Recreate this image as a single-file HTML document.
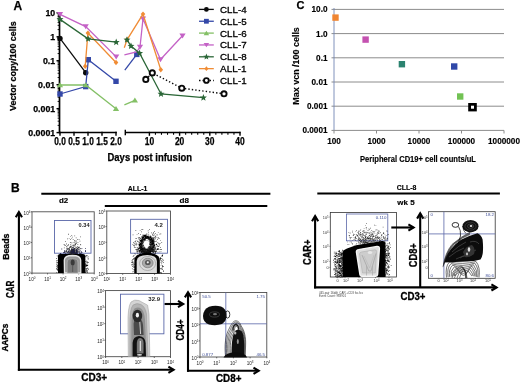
<!DOCTYPE html>
<html><head><meta charset="utf-8"><style>
html,body{margin:0;padding:0;background:#fff;}
svg{display:block;will-change:transform;filter:blur(0.5px);}
text{font-family:"Liberation Sans",sans-serif;}
</style></head><body>
<svg width="520" height="382" viewBox="0 0 520 382">
<rect width="520" height="382" fill="#fff"/>
<text x="13.5" y="10" font-size="12" font-weight="bold" text-anchor="start" fill="#000" stroke="#000" stroke-width="0.25">A</text>
<line x1="59.5" y1="12" x2="59.5" y2="133.3" stroke="#000" stroke-width="1.7" />
<line x1="56.5" y1="12.849999999999998" x2="59.5" y2="12.849999999999998" stroke="#000" stroke-width="1.4" />
<text x="55.2" y="15.749999999999998" font-size="8.8" font-weight="bold" text-anchor="end" fill="#000" stroke="#000" stroke-width="0.25">10</text>
<line x1="57.6" y1="29.59033160384765" x2="59.5" y2="29.59033160384765" stroke="#000" stroke-width="0.9" />
<line x1="57.6" y1="25.372945949464082" x2="59.5" y2="25.372945949464082" stroke="#000" stroke-width="0.9" />
<line x1="57.6" y1="22.3806632076953" x2="59.5" y2="22.3806632076953" stroke="#000" stroke-width="0.9" />
<line x1="57.6" y1="20.059668396152347" x2="59.5" y2="20.059668396152347" stroke="#000" stroke-width="0.9" />
<line x1="57.6" y1="18.163277553311733" x2="59.5" y2="18.163277553311733" stroke="#000" stroke-width="0.9" />
<line x1="57.6" y1="16.55990194165855" x2="59.5" y2="16.55990194165855" stroke="#000" stroke-width="0.9" />
<line x1="57.6" y1="15.17099481154295" x2="59.5" y2="15.17099481154295" stroke="#000" stroke-width="0.9" />
<line x1="57.6" y1="13.945891898928167" x2="59.5" y2="13.945891898928167" stroke="#000" stroke-width="0.9" />
<line x1="56.5" y1="36.8" x2="59.5" y2="36.8" stroke="#000" stroke-width="1.4" />
<text x="55.2" y="39.699999999999996" font-size="8.8" font-weight="bold" text-anchor="end" fill="#000" stroke="#000" stroke-width="0.25">1</text>
<line x1="57.6" y1="53.54033160384765" x2="59.5" y2="53.54033160384765" stroke="#000" stroke-width="0.9" />
<line x1="57.6" y1="49.32294594946408" x2="59.5" y2="49.32294594946408" stroke="#000" stroke-width="0.9" />
<line x1="57.6" y1="46.330663207695295" x2="59.5" y2="46.330663207695295" stroke="#000" stroke-width="0.9" />
<line x1="57.6" y1="44.00966839615235" x2="59.5" y2="44.00966839615235" stroke="#000" stroke-width="0.9" />
<line x1="57.6" y1="42.11327755331173" x2="59.5" y2="42.11327755331173" stroke="#000" stroke-width="0.9" />
<line x1="57.6" y1="40.50990194165855" x2="59.5" y2="40.50990194165855" stroke="#000" stroke-width="0.9" />
<line x1="57.6" y1="39.12099481154295" x2="59.5" y2="39.12099481154295" stroke="#000" stroke-width="0.9" />
<line x1="57.6" y1="37.89589189892816" x2="59.5" y2="37.89589189892816" stroke="#000" stroke-width="0.9" />
<line x1="56.5" y1="60.75" x2="59.5" y2="60.75" stroke="#000" stroke-width="1.4" />
<text x="55.2" y="63.65" font-size="8.8" font-weight="bold" text-anchor="end" fill="#000" stroke="#000" stroke-width="0.25">0.1</text>
<line x1="57.6" y1="77.49033160384764" x2="59.5" y2="77.49033160384764" stroke="#000" stroke-width="0.9" />
<line x1="57.6" y1="73.27294594946409" x2="59.5" y2="73.27294594946409" stroke="#000" stroke-width="0.9" />
<line x1="57.6" y1="70.28066320769528" x2="59.5" y2="70.28066320769528" stroke="#000" stroke-width="0.9" />
<line x1="57.6" y1="67.95966839615235" x2="59.5" y2="67.95966839615235" stroke="#000" stroke-width="0.9" />
<line x1="57.6" y1="66.06327755331174" x2="59.5" y2="66.06327755331174" stroke="#000" stroke-width="0.9" />
<line x1="57.6" y1="64.45990194165854" x2="59.5" y2="64.45990194165854" stroke="#000" stroke-width="0.9" />
<line x1="57.6" y1="63.070994811542946" x2="59.5" y2="63.070994811542946" stroke="#000" stroke-width="0.9" />
<line x1="57.6" y1="61.84589189892817" x2="59.5" y2="61.84589189892817" stroke="#000" stroke-width="0.9" />
<line x1="56.5" y1="84.69999999999999" x2="59.5" y2="84.69999999999999" stroke="#000" stroke-width="1.4" />
<text x="55.2" y="87.6" font-size="8.8" font-weight="bold" text-anchor="end" fill="#000" stroke="#000" stroke-width="0.25">0.01</text>
<line x1="57.6" y1="101.44033160384764" x2="59.5" y2="101.44033160384764" stroke="#000" stroke-width="0.9" />
<line x1="57.6" y1="97.22294594946408" x2="59.5" y2="97.22294594946408" stroke="#000" stroke-width="0.9" />
<line x1="57.6" y1="94.2306632076953" x2="59.5" y2="94.2306632076953" stroke="#000" stroke-width="0.9" />
<line x1="57.6" y1="91.90966839615234" x2="59.5" y2="91.90966839615234" stroke="#000" stroke-width="0.9" />
<line x1="57.6" y1="90.01327755331172" x2="59.5" y2="90.01327755331172" stroke="#000" stroke-width="0.9" />
<line x1="57.6" y1="88.40990194165855" x2="59.5" y2="88.40990194165855" stroke="#000" stroke-width="0.9" />
<line x1="57.6" y1="87.02099481154295" x2="59.5" y2="87.02099481154295" stroke="#000" stroke-width="0.9" />
<line x1="57.6" y1="85.79589189892818" x2="59.5" y2="85.79589189892818" stroke="#000" stroke-width="0.9" />
<line x1="56.5" y1="108.64999999999999" x2="59.5" y2="108.64999999999999" stroke="#000" stroke-width="1.4" />
<text x="55.2" y="111.55" font-size="8.8" font-weight="bold" text-anchor="end" fill="#000" stroke="#000" stroke-width="0.25">0.001</text>
<line x1="57.6" y1="125.39033160384764" x2="59.5" y2="125.39033160384764" stroke="#000" stroke-width="0.9" />
<line x1="57.6" y1="121.17294594946408" x2="59.5" y2="121.17294594946408" stroke="#000" stroke-width="0.9" />
<line x1="57.6" y1="118.18066320769529" x2="59.5" y2="118.18066320769529" stroke="#000" stroke-width="0.9" />
<line x1="57.6" y1="115.85966839615234" x2="59.5" y2="115.85966839615234" stroke="#000" stroke-width="0.9" />
<line x1="57.6" y1="113.96327755331173" x2="59.5" y2="113.96327755331173" stroke="#000" stroke-width="0.9" />
<line x1="57.6" y1="112.35990194165853" x2="59.5" y2="112.35990194165853" stroke="#000" stroke-width="0.9" />
<line x1="57.6" y1="110.97099481154294" x2="59.5" y2="110.97099481154294" stroke="#000" stroke-width="0.9" />
<line x1="57.6" y1="109.74589189892816" x2="59.5" y2="109.74589189892816" stroke="#000" stroke-width="0.9" />
<line x1="56.5" y1="132.6" x2="59.5" y2="132.6" stroke="#000" stroke-width="1.4" />
<text x="55.2" y="135.5" font-size="8.8" font-weight="bold" text-anchor="end" fill="#000" stroke="#000" stroke-width="0.25">0.0001</text>
<line x1="59.5" y1="132.5" x2="116.8" y2="132.5" stroke="#000" stroke-width="1.7" />
<line x1="60" y1="131.8" x2="60" y2="135.8" stroke="#000" stroke-width="1.4" />
<text x="60" y="145.4" font-size="10" font-weight="bold" text-anchor="middle" fill="#000" textLength="11.6" lengthAdjust="spacingAndGlyphs" stroke="#000" stroke-width="0.25">0.0</text>
<line x1="74.0" y1="131.8" x2="74.0" y2="135.8" stroke="#000" stroke-width="1.4" />
<text x="74.0" y="145.4" font-size="10" font-weight="bold" text-anchor="middle" fill="#000" textLength="11.6" lengthAdjust="spacingAndGlyphs" stroke="#000" stroke-width="0.25">0.5</text>
<line x1="88" y1="131.8" x2="88" y2="135.8" stroke="#000" stroke-width="1.4" />
<text x="88" y="145.4" font-size="10" font-weight="bold" text-anchor="middle" fill="#000" textLength="11.6" lengthAdjust="spacingAndGlyphs" stroke="#000" stroke-width="0.25">1.0</text>
<line x1="102.0" y1="131.8" x2="102.0" y2="135.8" stroke="#000" stroke-width="1.4" />
<text x="102.0" y="145.4" font-size="10" font-weight="bold" text-anchor="middle" fill="#000" textLength="11.6" lengthAdjust="spacingAndGlyphs" stroke="#000" stroke-width="0.25">1.5</text>
<line x1="116" y1="131.8" x2="116" y2="135.8" stroke="#000" stroke-width="1.4" />
<text x="116" y="145.4" font-size="10" font-weight="bold" text-anchor="middle" fill="#000" textLength="11.6" lengthAdjust="spacingAndGlyphs" stroke="#000" stroke-width="0.25">2.0</text>
<line x1="125.3" y1="132.5" x2="240.5" y2="132.5" stroke="#000" stroke-width="1.7" />
<line x1="125.3" y1="129.8" x2="125.3" y2="135.2" stroke="#000" stroke-width="1.4" />
<line x1="149.4" y1="131.8" x2="149.4" y2="135.8" stroke="#000" stroke-width="1.4" />
<text x="149.4" y="145.2" font-size="10" font-weight="bold" text-anchor="middle" fill="#000" textLength="9.4" lengthAdjust="spacingAndGlyphs" stroke="#000" stroke-width="0.25">10</text>
<line x1="179.6" y1="131.8" x2="179.6" y2="135.8" stroke="#000" stroke-width="1.4" />
<text x="179.6" y="145.2" font-size="10" font-weight="bold" text-anchor="middle" fill="#000" textLength="9.4" lengthAdjust="spacingAndGlyphs" stroke="#000" stroke-width="0.25">20</text>
<line x1="209.8" y1="131.8" x2="209.8" y2="135.8" stroke="#000" stroke-width="1.4" />
<text x="209.8" y="145.2" font-size="10" font-weight="bold" text-anchor="middle" fill="#000" textLength="9.4" lengthAdjust="spacingAndGlyphs" stroke="#000" stroke-width="0.25">30</text>
<line x1="240.0" y1="131.8" x2="240.0" y2="135.8" stroke="#000" stroke-width="1.4" />
<text x="240.0" y="145.2" font-size="10" font-weight="bold" text-anchor="middle" fill="#000" textLength="9.4" lengthAdjust="spacingAndGlyphs" stroke="#000" stroke-width="0.25">40</text>
<line x1="155.44" y1="132.5" x2="155.44" y2="134.8" stroke="#000" stroke-width="1.1" />
<line x1="161.48000000000002" y1="132.5" x2="161.48000000000002" y2="134.8" stroke="#000" stroke-width="1.1" />
<line x1="167.52" y1="132.5" x2="167.52" y2="134.8" stroke="#000" stroke-width="1.1" />
<line x1="173.56" y1="132.5" x2="173.56" y2="134.8" stroke="#000" stroke-width="1.1" />
<line x1="185.64" y1="132.5" x2="185.64" y2="134.8" stroke="#000" stroke-width="1.1" />
<line x1="191.68" y1="132.5" x2="191.68" y2="134.8" stroke="#000" stroke-width="1.1" />
<line x1="197.72" y1="132.5" x2="197.72" y2="134.8" stroke="#000" stroke-width="1.1" />
<line x1="203.76" y1="132.5" x2="203.76" y2="134.8" stroke="#000" stroke-width="1.1" />
<line x1="215.84" y1="132.5" x2="215.84" y2="134.8" stroke="#000" stroke-width="1.1" />
<line x1="221.88" y1="132.5" x2="221.88" y2="134.8" stroke="#000" stroke-width="1.1" />
<line x1="227.92000000000002" y1="132.5" x2="227.92000000000002" y2="134.8" stroke="#000" stroke-width="1.1" />
<line x1="233.96" y1="132.5" x2="233.96" y2="134.8" stroke="#000" stroke-width="1.1" />
<text x="149.8" y="160.5" font-size="10.4" font-weight="bold" text-anchor="middle" fill="#000" textLength="84.5" lengthAdjust="spacingAndGlyphs" stroke="#000" stroke-width="0.25">Days post infusion</text>
<text transform="translate(12.8,66.2) rotate(-90)" x="0" y="0" font-size="9.6" font-weight="bold" text-anchor="middle" dominant-baseline="central" textLength="89.5" lengthAdjust="spacingAndGlyphs" stroke="#000" stroke-width="0.25">Vector copy/100 cells</text>
<polyline points="60,38.4 85.7,72.7" fill="none" stroke="#0a0a0a" stroke-width="1.3"/>
<circle cx="60" cy="38.4" r="2.7" fill="#0a0a0a"/>
<circle cx="85.7" cy="72.7" r="2.7" fill="#0a0a0a"/>
<polyline points="60,94 85.7,86.6 88.3,59.7 116,81.3" fill="none" stroke="#3448a8" stroke-width="1.3"/>
<rect x="57.3" y="91.3" width="5.4" height="5.4" fill="#3448a8"/>
<rect x="83.0" y="83.89999999999999" width="5.4" height="5.4" fill="#3448a8"/>
<rect x="85.6" y="57.0" width="5.4" height="5.4" fill="#3448a8"/>
<rect x="113.3" y="78.6" width="5.4" height="5.4" fill="#3448a8"/>
<polyline points="124.8,70.2 136.8,54.4" fill="none" stroke="#3448a8" stroke-width="1.3"/>
<rect x="134.10000000000002" y="51.699999999999996" width="5.4" height="5.4" fill="#3448a8"/>
<polyline points="60,85 85.7,85 116,108.8" fill="none" stroke="#84c066" stroke-width="1.3"/>
<polygon points="60,82.3 56.895,87.295 63.105,87.295" fill="#84c066"/>
<polygon points="85.7,82.3 82.595,87.295 88.805,87.295" fill="#84c066"/>
<polygon points="116,106.1 112.895,111.095 119.105,111.095" fill="#84c066"/>
<polyline points="124.4,104.9 134.9,100.3" fill="none" stroke="#84c066" stroke-width="1.3"/>
<polygon points="134.9,97.6 131.79500000000002,102.595 138.005,102.595" fill="#84c066"/>
<polyline points="60,14.4 85.7,26.6 116.2,56.9" fill="none" stroke="#c462c6" stroke-width="1.3"/>
<polygon points="60,17.1 56.895,12.105 63.105,12.105" fill="#c462c6"/>
<polygon points="85.7,29.3 82.595,24.305 88.805,24.305" fill="#c462c6"/>
<polygon points="116.2,59.6 113.095,54.605 119.305,54.605" fill="#c462c6"/>
<polyline points="124.4,54.8 136.5,52 140,47 143,18.8 160.5,59.5 182.5,35.8" fill="none" stroke="#c462c6" stroke-width="1.3"/>
<polygon points="140,49.7 136.895,44.705 143.105,44.705" fill="#c462c6"/>
<polygon points="143,21.5 139.895,16.505000000000003 146.105,16.505000000000003" fill="#c462c6"/>
<polygon points="160.5,62.2 157.395,57.205 163.605,57.205" fill="#c462c6"/>
<polygon points="182.5,38.5 179.395,33.504999999999995 185.605,33.504999999999995" fill="#c462c6"/>
<polyline points="85.2,66.2 87.9,33.1 116,62.5" fill="none" stroke="#f08c35" stroke-width="1.3"/>
<polygon points="85.2,63.5 87.495,66.2 85.2,68.9 82.905,66.2" fill="#f08c35"/>
<polygon points="87.9,30.400000000000002 90.19500000000001,33.1 87.9,35.800000000000004 85.605,33.1" fill="#f08c35"/>
<polygon points="116,59.8 118.295,62.5 116,65.2 113.705,62.5" fill="#f08c35"/>
<polyline points="124.3,47.7 127,39.8 143,14.1 160.8,69.8" fill="none" stroke="#f08c35" stroke-width="1.3"/>
<polygon points="127,37.099999999999994 129.295,39.8 127,42.5 124.705,39.8" fill="#f08c35"/>
<polygon points="143,11.399999999999999 145.295,14.1 143,16.8 140.705,14.1" fill="#f08c35"/>
<polygon points="160.8,67.1 163.095,69.8 160.8,72.5 158.50500000000002,69.8" fill="#f08c35"/>
<polyline points="60,19.4 88.1,38.9 116.2,42.2" fill="none" stroke="#2a6636" stroke-width="1.3"/>
<polygon points="60.00,15.75 60.95,18.09 63.47,18.27 61.54,19.90 62.14,22.35 60.00,21.02 57.86,22.35 58.46,19.90 56.53,18.27 59.05,18.09" fill="#2a6636"/>
<polygon points="88.10,35.25 89.05,37.59 91.57,37.77 89.64,39.40 90.24,41.85 88.10,40.52 85.96,41.85 86.56,39.40 84.63,37.77 87.15,37.59" fill="#2a6636"/>
<polygon points="116.20,38.55 117.15,40.89 119.67,41.07 117.74,42.70 118.34,45.15 116.20,43.82 114.06,45.15 114.66,42.70 112.73,41.07 115.25,40.89" fill="#2a6636"/>
<polyline points="127,39.8 131,46.1 139.6,53.2 161,94 203.4,97.7" fill="none" stroke="#2a6636" stroke-width="1.3"/>
<polygon points="127.00,36.15 127.95,38.49 130.47,38.67 128.54,40.30 129.14,42.75 127.00,41.42 124.86,42.75 125.46,40.30 123.53,38.67 126.05,38.49" fill="#2a6636"/>
<polygon points="131.00,42.45 131.95,44.79 134.47,44.97 132.54,46.60 133.14,49.05 131.00,47.72 128.86,49.05 129.46,46.60 127.53,44.97 130.05,44.79" fill="#2a6636"/>
<polygon points="139.60,49.55 140.55,51.89 143.07,52.07 141.14,53.70 141.74,56.15 139.60,54.82 137.46,56.15 138.06,53.70 136.13,52.07 138.65,51.89" fill="#2a6636"/>
<polygon points="161.00,90.36 161.95,92.69 164.47,92.87 162.54,94.50 163.14,96.95 161.00,95.62 158.86,96.95 159.46,94.50 157.53,92.87 160.05,92.69" fill="#2a6636"/>
<polygon points="203.40,94.06 204.35,96.39 206.87,96.57 204.94,98.20 205.54,100.65 203.40,99.32 201.26,100.65 201.86,98.20 199.93,96.57 202.45,96.39" fill="#2a6636"/>
<polyline points="145.8,79.4 152.3,72.9 181.8,88.2 224,93.8" fill="none" stroke="#0a0a0a" stroke-width="1.4" stroke-dasharray="1.4,2.1"/>
<circle cx="145.8" cy="79.4" r="2.6" fill="#fff" stroke="#0a0a0a" stroke-width="1.9"/>
<circle cx="152.3" cy="72.9" r="2.6" fill="#fff" stroke="#0a0a0a" stroke-width="1.9"/>
<circle cx="181.8" cy="88.2" r="2.6" fill="#fff" stroke="#0a0a0a" stroke-width="1.9"/>
<circle cx="224" cy="93.8" r="2.6" fill="#fff" stroke="#0a0a0a" stroke-width="1.9"/>
<line x1="199" y1="9.4" x2="213.8" y2="9.4" stroke="#0a0a0a" stroke-width="1.3" />
<circle cx="206.4" cy="9.4" r="2.4" fill="#0a0a0a"/>
<text x="220" y="12.9" font-size="9.7" font-weight="normal" text-anchor="start" fill="#000" textLength="26.6" lengthAdjust="spacingAndGlyphs" stroke="#000" stroke-width="0.3">CLL-4</text>
<line x1="199" y1="21.25" x2="213.8" y2="21.25" stroke="#3448a8" stroke-width="1.3" />
<rect x="204.0" y="18.85" width="4.8" height="4.8" fill="#3448a8"/>
<text x="220" y="24.75" font-size="9.7" font-weight="normal" text-anchor="start" fill="#000" textLength="26.6" lengthAdjust="spacingAndGlyphs" stroke="#000" stroke-width="0.3">CLL-5</text>
<line x1="199" y1="33.1" x2="213.8" y2="33.1" stroke="#84c066" stroke-width="1.3" />
<polygon points="206.4,30.700000000000003 203.64000000000001,35.14 209.16,35.14" fill="#84c066"/>
<text x="220" y="36.6" font-size="9.7" font-weight="normal" text-anchor="start" fill="#000" textLength="26.6" lengthAdjust="spacingAndGlyphs" stroke="#000" stroke-width="0.3">CLL-6</text>
<line x1="199" y1="44.949999999999996" x2="213.8" y2="44.949999999999996" stroke="#c462c6" stroke-width="1.3" />
<polygon points="206.4,47.349999999999994 203.64000000000001,42.91 209.16,42.91" fill="#c462c6"/>
<text x="220" y="48.449999999999996" font-size="9.7" font-weight="normal" text-anchor="start" fill="#000" textLength="26.6" lengthAdjust="spacingAndGlyphs" stroke="#000" stroke-width="0.3">CLL-7</text>
<line x1="199" y1="56.8" x2="213.8" y2="56.8" stroke="#2a6636" stroke-width="1.3" />
<polygon points="206.40,53.56 207.25,55.64 209.48,55.80 207.77,57.24 208.30,59.42 206.40,58.24 204.50,59.42 205.03,57.24 203.32,55.80 205.55,55.64" fill="#2a6636"/>
<text x="220" y="60.3" font-size="9.7" font-weight="normal" text-anchor="start" fill="#000" textLength="26.6" lengthAdjust="spacingAndGlyphs" stroke="#000" stroke-width="0.3">CLL-8</text>
<line x1="199" y1="68.65" x2="213.8" y2="68.65" stroke="#f08c35" stroke-width="1.3" />
<polygon points="206.4,66.25 208.44,68.65 206.4,71.05000000000001 204.36,68.65" fill="#f08c35"/>
<text x="220" y="72.15" font-size="9.7" font-weight="normal" text-anchor="start" fill="#000" textLength="26.6" lengthAdjust="spacingAndGlyphs" stroke="#000" stroke-width="0.3">ALL-1</text>
<line x1="199" y1="80.5" x2="213.8" y2="80.5" stroke="#0a0a0a" stroke-width="1.3" stroke-dasharray="1.5,2"/>
<circle cx="206.4" cy="80.5" r="2.4" fill="#fff" stroke="#0a0a0a" stroke-width="1.9"/>
<text x="220" y="84.0" font-size="9.7" font-weight="normal" text-anchor="start" fill="#000" textLength="26.6" lengthAdjust="spacingAndGlyphs" stroke="#000" stroke-width="0.3">CLL-1</text>
<text x="296.5" y="9.1" font-size="11" font-weight="bold" text-anchor="start" fill="#000" stroke="#000" stroke-width="0.25">C</text>
<line x1="334" y1="9.400000000000002" x2="504" y2="9.400000000000002" stroke="#8c8c8c" stroke-width="1" />
<line x1="331.5" y1="9.400000000000002" x2="334" y2="9.400000000000002" stroke="#8c8c8c" stroke-width="1" />
<text x="327.5" y="12.400000000000002" font-size="8.2" font-weight="bold" text-anchor="end" fill="#000" stroke="#000" stroke-width="0.15">10.0</text>
<line x1="334" y1="33.6" x2="504" y2="33.6" stroke="#8c8c8c" stroke-width="1" />
<line x1="331.5" y1="33.6" x2="334" y2="33.6" stroke="#8c8c8c" stroke-width="1" />
<text x="327.5" y="36.6" font-size="8.2" font-weight="bold" text-anchor="end" fill="#000" stroke="#000" stroke-width="0.15">1.0</text>
<line x1="334" y1="57.8" x2="504" y2="57.8" stroke="#8c8c8c" stroke-width="1" />
<line x1="331.5" y1="57.8" x2="334" y2="57.8" stroke="#8c8c8c" stroke-width="1" />
<text x="327.5" y="60.8" font-size="8.2" font-weight="bold" text-anchor="end" fill="#000" stroke="#000" stroke-width="0.15">0.1</text>
<line x1="334" y1="82.0" x2="504" y2="82.0" stroke="#8c8c8c" stroke-width="1" />
<line x1="331.5" y1="82.0" x2="334" y2="82.0" stroke="#8c8c8c" stroke-width="1" />
<text x="327.5" y="85.0" font-size="8.2" font-weight="bold" text-anchor="end" fill="#000" stroke="#000" stroke-width="0.15">0.01</text>
<line x1="334" y1="106.19999999999999" x2="504" y2="106.19999999999999" stroke="#8c8c8c" stroke-width="1" />
<line x1="331.5" y1="106.19999999999999" x2="334" y2="106.19999999999999" stroke="#8c8c8c" stroke-width="1" />
<text x="327.5" y="109.19999999999999" font-size="8.2" font-weight="bold" text-anchor="end" fill="#000" stroke="#000" stroke-width="0.15">0.001</text>
<line x1="331.5" y1="130.4" x2="334" y2="130.4" stroke="#8c8c8c" stroke-width="1" />
<text x="327.5" y="133.4" font-size="8.2" font-weight="bold" text-anchor="end" fill="#000" stroke="#000" stroke-width="0.15">0.0001</text>
<line x1="334" y1="8" x2="334" y2="130.4" stroke="#7286b4" stroke-width="0.9" />
<line x1="334" y1="130.4" x2="504" y2="130.4" stroke="#8c8c8c" stroke-width="1" />
<line x1="334.0" y1="130.4" x2="334.0" y2="133.5" stroke="#8c8c8c" stroke-width="1" />
<text x="334.0" y="144" font-size="8.2" font-weight="bold" text-anchor="middle" fill="#000" stroke="#000" stroke-width="0.15">100</text>
<line x1="376.5" y1="130.4" x2="376.5" y2="133.5" stroke="#8c8c8c" stroke-width="1" />
<text x="376.5" y="144" font-size="8.2" font-weight="bold" text-anchor="middle" fill="#000" stroke="#000" stroke-width="0.15">1000</text>
<line x1="419.0" y1="130.4" x2="419.0" y2="133.5" stroke="#8c8c8c" stroke-width="1" />
<text x="419.0" y="144" font-size="8.2" font-weight="bold" text-anchor="middle" fill="#000" stroke="#000" stroke-width="0.15">10000</text>
<line x1="461.5" y1="130.4" x2="461.5" y2="133.5" stroke="#8c8c8c" stroke-width="1" />
<text x="461.5" y="144" font-size="8.2" font-weight="bold" text-anchor="middle" fill="#000" stroke="#000" stroke-width="0.15">100000</text>
<line x1="504.0" y1="130.4" x2="504.0" y2="133.5" stroke="#8c8c8c" stroke-width="1" />
<text x="504.0" y="144" font-size="8.2" font-weight="bold" text-anchor="middle" fill="#000" stroke="#000" stroke-width="0.15">1000000</text>
<text transform="translate(295.6,65.9) rotate(-90)" x="0" y="0" font-size="9" font-weight="bold" text-anchor="middle" dominant-baseline="central" textLength="77.5" lengthAdjust="spacingAndGlyphs" stroke="#000" stroke-width="0.15">Max vcn /100 cells</text>
<text x="418" y="162" font-size="8.2" font-weight="bold" text-anchor="middle" fill="#000" textLength="116" lengthAdjust="spacingAndGlyphs" stroke="#000" stroke-width="0.15">Peripheral CD19+ cell counts/uL</text>
<rect x="332.3" y="14.400000000000002" width="6.4" height="6.4" fill="#ef8532"/>
<rect x="362.40000000000003" y="36.4" width="6.4" height="6.4" fill="#c451b0"/>
<rect x="398.7" y="61.0" width="6.4" height="6.4" fill="#2b8370"/>
<rect x="451.0" y="63.3" width="6.4" height="6.4" fill="#3048a8"/>
<rect x="457.0" y="93.3" width="6.4" height="6.4" fill="#72c254"/>
<rect x="468.2" y="103" width="8.6" height="8.4" fill="#000"/><rect x="471" y="105.7" width="3" height="3" fill="#fff"/>
<text x="11" y="192.2" font-size="12" font-weight="bold" text-anchor="start" fill="#000" stroke="#000" stroke-width="0.25">B</text>
<line x1="41.3" y1="193.8" x2="270.4" y2="193.8" stroke="#000" stroke-width="2" />
<text x="137.5" y="190.8" font-size="7.2" font-weight="bold" text-anchor="middle" fill="#000" textLength="19.6" lengthAdjust="spacingAndGlyphs" stroke="#000" stroke-width="0.15">ALL-1</text>
<text x="63.6" y="203.1" font-size="7.6" font-weight="bold" text-anchor="middle" fill="#000" textLength="9.3" lengthAdjust="spacingAndGlyphs" stroke="#000" stroke-width="0.15">d2</text>
<line x1="104.8" y1="206.1" x2="267.3" y2="206.1" stroke="#000" stroke-width="2" />
<text x="184.3" y="203.1" font-size="7.6" font-weight="bold" text-anchor="middle" fill="#000" textLength="9.4" lengthAdjust="spacingAndGlyphs" stroke="#000" stroke-width="0.15">d8</text>
<line x1="18.9" y1="212.2" x2="18.9" y2="370.8" stroke="#000" stroke-width="2.1" />
<polyline points="15.799999999999999,217.2 18.9,212 22.0,217.2" fill="none" stroke="#000" stroke-width="2.1" stroke-linejoin="miter"/>
<line x1="17.9" y1="369.8" x2="173.4" y2="369.8" stroke="#000" stroke-width="2.1" />
<polyline points="168.4,366.7 173.6,369.8 168.4,372.90000000000003" fill="none" stroke="#000" stroke-width="2.1" stroke-linejoin="miter"/>
<text transform="translate(5.6,246.7) rotate(-90)" x="0" y="0" font-size="8.7" font-weight="bold" text-anchor="middle" dominant-baseline="central" textLength="26.3" lengthAdjust="spacingAndGlyphs" stroke="#000" stroke-width="0.3">Beads</text>
<text transform="translate(9.6,289.3) rotate(-90)" x="0" y="0" font-size="11" font-weight="bold" text-anchor="middle" dominant-baseline="central" textLength="17.5" lengthAdjust="spacingAndGlyphs" stroke="#000" stroke-width="0.3">CAR</text>
<text transform="translate(4.8,337.6) rotate(-90)" x="0" y="0" font-size="8.7" font-weight="bold" text-anchor="middle" dominant-baseline="central" textLength="28" lengthAdjust="spacingAndGlyphs" stroke="#000" stroke-width="0.3">AAPCs</text>
<text x="94.2" y="380.7" font-size="10.6" font-weight="bold" text-anchor="middle" fill="#000" textLength="26" lengthAdjust="spacingAndGlyphs" stroke="#000" stroke-width="0.3">CD3+</text>
<line x1="30.7" y1="273.1" x2="32" y2="273.1" stroke="#000" stroke-width="0.6" />
<text x="30.4" y="275.8" font-size="4.6" text-anchor="end" fill="#222">10<tspan font-size="3.0" dy="-1.4">0</tspan></text>
<line x1="32.0" y1="273.1" x2="32.0" y2="274.40000000000003" stroke="#000" stroke-width="0.6" />
<text x="32.0" y="280.70000000000005" font-size="4.6" text-anchor="middle" fill="#222">10<tspan font-size="3.0" dy="-1.4">0</tspan></text>
<line x1="30.7" y1="257.77500000000003" x2="32" y2="257.77500000000003" stroke="#000" stroke-width="0.6" />
<text x="30.4" y="260.475" font-size="4.6" text-anchor="end" fill="#222">10<tspan font-size="3.0" dy="-1.4">1</tspan></text>
<line x1="47.55" y1="273.1" x2="47.55" y2="274.40000000000003" stroke="#000" stroke-width="0.6" />
<text x="47.55" y="280.70000000000005" font-size="4.6" text-anchor="middle" fill="#222">10<tspan font-size="3.0" dy="-1.4">1</tspan></text>
<line x1="30.7" y1="242.45000000000002" x2="32" y2="242.45000000000002" stroke="#000" stroke-width="0.6" />
<text x="30.4" y="245.15" font-size="4.6" text-anchor="end" fill="#222">10<tspan font-size="3.0" dy="-1.4">2</tspan></text>
<line x1="63.1" y1="273.1" x2="63.1" y2="274.40000000000003" stroke="#000" stroke-width="0.6" />
<text x="63.1" y="280.70000000000005" font-size="4.6" text-anchor="middle" fill="#222">10<tspan font-size="3.0" dy="-1.4">2</tspan></text>
<line x1="30.7" y1="227.125" x2="32" y2="227.125" stroke="#000" stroke-width="0.6" />
<text x="30.4" y="229.825" font-size="4.6" text-anchor="end" fill="#222">10<tspan font-size="3.0" dy="-1.4">3</tspan></text>
<line x1="78.65" y1="273.1" x2="78.65" y2="274.40000000000003" stroke="#000" stroke-width="0.6" />
<text x="78.65" y="280.70000000000005" font-size="4.6" text-anchor="middle" fill="#222">10<tspan font-size="3.0" dy="-1.4">3</tspan></text>
<line x1="30.7" y1="211.8" x2="32" y2="211.8" stroke="#000" stroke-width="0.6" />
<text x="30.4" y="214.5" font-size="4.6" text-anchor="end" fill="#222">10<tspan font-size="3.0" dy="-1.4">4</tspan></text>
<line x1="94.2" y1="273.1" x2="94.2" y2="274.40000000000003" stroke="#000" stroke-width="0.6" />
<text x="94.2" y="280.70000000000005" font-size="4.6" text-anchor="middle" fill="#222">10<tspan font-size="3.0" dy="-1.4">4</tspan></text>
<rect x="32" y="211.8" width="62.2" height="61.30000000000001" fill="none" stroke="#444" stroke-width="0.85"/>
<rect x="54.5" y="220.5" width="36.5" height="32.69999999999999" fill="none" stroke="#5a67a8" stroke-width="0.9"/>
<text x="89.5" y="227" font-size="5.6" font-weight="bold" text-anchor="end" fill="#222" >0.34</text>
<path d="M75.1,251.3h0.7v0.7h-0.7zM75.6,253.1h0.7v0.7h-0.7zM72.1,249.3h0.7v0.7h-0.7zM73.6,249.6h0.7v0.7h-0.7zM72.0,253.3h0.7v0.7h-0.7zM73.2,253.0h0.7v0.7h-0.7zM73.5,250.5h0.7v0.7h-0.7zM71.6,252.1h0.7v0.7h-0.7zM77.1,248.1h0.7v0.7h-0.7zM71.6,250.7h0.7v0.7h-0.7zM74.3,251.6h0.7v0.7h-0.7zM74.3,252.6h0.7v0.7h-0.7zM75.3,244.2h0.7v0.7h-0.7zM69.7,252.4h0.7v0.7h-0.7zM70.8,250.9h0.7v0.7h-0.7zM73.8,249.1h0.7v0.7h-0.7zM73.1,252.2h0.7v0.7h-0.7zM69.9,247.2h0.7v0.7h-0.7zM74.1,248.7h0.7v0.7h-0.7zM71.2,250.2h0.7v0.7h-0.7zM79.1,246.9h0.7v0.7h-0.7zM70.0,252.0h0.7v0.7h-0.7zM70.1,242.1h0.7v0.7h-0.7zM70.2,246.3h0.7v0.7h-0.7zM79.3,252.8h0.7v0.7h-0.7zM72.9,250.5h0.7v0.7h-0.7zM71.0,249.8h0.7v0.7h-0.7zM70.9,253.3h0.7v0.7h-0.7zM67.9,248.8h0.7v0.7h-0.7zM69.9,242.0h0.7v0.7h-0.7zM77.6,248.5h0.7v0.7h-0.7zM66.7,248.7h0.7v0.7h-0.7zM75.8,237.6h0.7v0.7h-0.7zM72.2,250.0h0.7v0.7h-0.7zM71.7,246.9h0.7v0.7h-0.7zM79.4,247.8h0.7v0.7h-0.7zM72.6,251.7h0.7v0.7h-0.7zM72.5,250.8h0.7v0.7h-0.7zM72.2,250.1h0.7v0.7h-0.7zM73.4,252.5h0.7v0.7h-0.7zM73.7,245.5h0.7v0.7h-0.7zM72.8,252.7h0.7v0.7h-0.7zM77.6,242.2h0.7v0.7h-0.7zM70.0,253.0h0.7v0.7h-0.7zM74.7,241.7h0.7v0.7h-0.7zM75.1,244.1h0.7v0.7h-0.7zM71.0,250.5h0.7v0.7h-0.7zM78.1,251.1h0.7v0.7h-0.7zM68.7,252.6h0.7v0.7h-0.7zM73.0,252.4h0.7v0.7h-0.7zM75.0,249.9h0.7v0.7h-0.7zM72.8,248.6h0.7v0.7h-0.7zM73.1,250.5h0.7v0.7h-0.7zM66.4,251.0h0.7v0.7h-0.7zM69.1,247.0h0.7v0.7h-0.7zM69.3,249.5h0.7v0.7h-0.7zM70.5,253.2h0.7v0.7h-0.7zM74.7,240.9h0.7v0.7h-0.7zM64.3,244.7h0.7v0.7h-0.7zM71.7,250.8h0.7v0.7h-0.7zM73.8,248.0h0.7v0.7h-0.7zM74.3,253.1h0.7v0.7h-0.7zM73.5,252.5h0.7v0.7h-0.7zM72.9,251.2h0.7v0.7h-0.7zM72.8,252.6h0.7v0.7h-0.7zM72.4,252.9h0.7v0.7h-0.7zM73.6,242.1h0.7v0.7h-0.7zM74.4,248.3h0.7v0.7h-0.7zM74.5,251.2h0.7v0.7h-0.7zM76.7,251.0h0.7v0.7h-0.7zM71.5,250.0h0.7v0.7h-0.7zM72.9,252.9h0.7v0.7h-0.7zM72.3,251.2h0.7v0.7h-0.7zM77.4,252.5h0.7v0.7h-0.7zM75.5,253.4h0.7v0.7h-0.7zM71.9,252.6h0.7v0.7h-0.7zM76.7,249.2h0.7v0.7h-0.7zM71.6,242.6h0.7v0.7h-0.7zM70.7,251.0h0.7v0.7h-0.7zM73.2,252.5h0.7v0.7h-0.7zM67.8,245.2h0.7v0.7h-0.7zM73.6,251.3h0.7v0.7h-0.7zM75.7,243.0h0.7v0.7h-0.7zM66.0,246.1h0.7v0.7h-0.7zM70.4,252.1h0.7v0.7h-0.7zM72.6,253.3h0.7v0.7h-0.7zM72.5,253.3h0.7v0.7h-0.7zM75.6,247.0h0.7v0.7h-0.7zM70.0,236.4h0.7v0.7h-0.7zM74.2,252.1h0.7v0.7h-0.7zM73.8,252.3h0.7v0.7h-0.7zM79.6,240.8h0.7v0.7h-0.7zM66.3,243.4h0.7v0.7h-0.7zM73.6,244.7h0.7v0.7h-0.7zM70.0,253.0h0.7v0.7h-0.7zM65.1,245.1h0.7v0.7h-0.7zM70.3,245.9h0.7v0.7h-0.7zM73.2,244.9h0.7v0.7h-0.7zM75.1,251.3h0.7v0.7h-0.7zM65.5,250.7h0.7v0.7h-0.7zM77.2,250.7h0.7v0.7h-0.7zM71.5,252.5h0.7v0.7h-0.7zM75.9,252.8h0.7v0.7h-0.7zM80.4,244.5h0.7v0.7h-0.7zM76.0,252.6h0.7v0.7h-0.7zM63.9,247.6h0.7v0.7h-0.7zM71.4,251.1h0.7v0.7h-0.7zM72.4,253.4h0.7v0.7h-0.7zM68.0,234.0h0.7v0.7h-0.7zM67.3,238.6h0.7v0.7h-0.7zM76.6,250.4h0.7v0.7h-0.7zM69.4,252.2h0.7v0.7h-0.7zM72.3,251.9h0.7v0.7h-0.7zM75.2,248.6h0.7v0.7h-0.7zM71.6,251.8h0.7v0.7h-0.7zM74.2,240.3h0.7v0.7h-0.7zM69.2,251.1h0.7v0.7h-0.7zM74.6,240.6h0.7v0.7h-0.7zM75.8,250.5h0.7v0.7h-0.7zM70.9,249.3h0.7v0.7h-0.7zM76.2,249.4h0.7v0.7h-0.7zM73.1,252.4h0.7v0.7h-0.7zM73.2,253.5h0.7v0.7h-0.7zM71.0,250.0h0.7v0.7h-0.7zM69.6,246.4h0.7v0.7h-0.7zM71.8,249.5h0.7v0.7h-0.7zM73.1,249.0h0.7v0.7h-0.7zM71.3,249.0h0.7v0.7h-0.7zM72.0,251.9h0.7v0.7h-0.7zM78.1,249.6h0.7v0.7h-0.7zM73.3,249.0h0.7v0.7h-0.7zM66.2,250.3h0.7v0.7h-0.7zM68.7,248.3h0.7v0.7h-0.7zM72.6,247.0h0.7v0.7h-0.7zM69.5,250.2h0.7v0.7h-0.7zM71.4,237.9h0.7v0.7h-0.7zM79.2,246.9h0.7v0.7h-0.7zM68.4,251.8h0.7v0.7h-0.7zM78.7,249.0h0.7v0.7h-0.7zM71.2,252.7h0.7v0.7h-0.7zM71.9,252.8h0.7v0.7h-0.7zM73.2,252.0h0.7v0.7h-0.7zM70.8,253.1h0.7v0.7h-0.7zM65.0,241.0h0.7v0.7h-0.7zM72.0,252.6h0.7v0.7h-0.7zM69.3,252.7h0.7v0.7h-0.7zM76.2,241.7h0.7v0.7h-0.7zM71.9,236.7h0.7v0.7h-0.7zM64.1,250.7h0.7v0.7h-0.7zM73.9,243.7h0.7v0.7h-0.7zM70.1,252.5h0.7v0.7h-0.7zM74.2,251.2h0.7v0.7h-0.7zM71.1,252.3h0.7v0.7h-0.7zM76.1,253.4h0.7v0.7h-0.7zM72.2,249.1h0.7v0.7h-0.7zM73.0,251.3h0.7v0.7h-0.7zM71.5,248.1h0.7v0.7h-0.7zM74.7,245.0h0.7v0.7h-0.7zM72.6,251.8h0.7v0.7h-0.7zM73.1,253.3h0.7v0.7h-0.7zM70.9,252.7h0.7v0.7h-0.7zM77.4,250.5h0.7v0.7h-0.7zM70.2,251.9h0.7v0.7h-0.7zM75.6,252.6h0.7v0.7h-0.7zM70.4,246.9h0.7v0.7h-0.7zM76.2,253.0h0.7v0.7h-0.7zM74.4,250.5h0.7v0.7h-0.7zM75.9,253.1h0.7v0.7h-0.7zM70.5,244.6h0.7v0.7h-0.7zM73.3,253.0h0.7v0.7h-0.7zM71.4,242.6h0.7v0.7h-0.7zM70.8,250.2h0.7v0.7h-0.7zM78.7,239.1h0.7v0.7h-0.7zM75.0,251.8h0.7v0.7h-0.7zM75.1,252.0h0.7v0.7h-0.7zM73.2,252.9h0.7v0.7h-0.7zM73.5,252.3h0.7v0.7h-0.7zM71.2,251.4h0.7v0.7h-0.7zM77.0,251.6h0.7v0.7h-0.7zM74.1,249.7h0.7v0.7h-0.7zM74.7,253.4h0.7v0.7h-0.7zM77.0,251.9h0.7v0.7h-0.7zM73.3,249.1h0.7v0.7h-0.7zM67.0,252.3h0.7v0.7h-0.7zM73.7,252.9h0.7v0.7h-0.7zM68.2,244.1h0.7v0.7h-0.7zM75.0,243.6h0.7v0.7h-0.7zM68.4,250.8h0.7v0.7h-0.7zM74.9,251.2h0.7v0.7h-0.7zM68.0,247.9h0.7v0.7h-0.7zM72.2,250.6h0.7v0.7h-0.7zM73.5,252.7h0.7v0.7h-0.7zM72.7,253.1h0.7v0.7h-0.7zM70.9,252.5h0.7v0.7h-0.7zM75.4,253.0h0.7v0.7h-0.7zM66.6,247.4h0.7v0.7h-0.7zM72.9,251.7h0.7v0.7h-0.7zM75.3,250.1h0.7v0.7h-0.7zM71.0,252.6h0.7v0.7h-0.7zM74.4,235.5h0.7v0.7h-0.7zM68.0,233.7h0.7v0.7h-0.7zM71.4,235.0h0.7v0.7h-0.7zM72.7,251.5h0.7v0.7h-0.7zM72.9,250.9h0.7v0.7h-0.7zM70.8,250.0h0.7v0.7h-0.7zM72.8,249.6h0.7v0.7h-0.7zM72.7,253.5h0.7v0.7h-0.7zM74.0,250.7h0.7v0.7h-0.7zM74.7,253.3h0.7v0.7h-0.7zM73.1,252.0h0.7v0.7h-0.7zM67.3,248.7h0.7v0.7h-0.7zM71.7,247.6h0.7v0.7h-0.7zM75.5,246.6h0.7v0.7h-0.7zM70.9,251.3h0.7v0.7h-0.7zM77.4,247.8h0.7v0.7h-0.7zM75.3,253.3h0.7v0.7h-0.7zM66.5,248.1h0.7v0.7h-0.7zM73.6,246.2h0.7v0.7h-0.7zM71.2,249.4h0.7v0.7h-0.7zM75.7,249.6h0.7v0.7h-0.7zM65.9,243.9h0.7v0.7h-0.7zM76.8,248.7h0.7v0.7h-0.7zM69.3,247.0h0.7v0.7h-0.7zM74.1,252.1h0.7v0.7h-0.7zM73.1,251.0h0.7v0.7h-0.7zM74.4,252.9h0.7v0.7h-0.7zM69.0,248.1h0.7v0.7h-0.7zM71.1,248.1h0.7v0.7h-0.7zM70.4,253.5h0.7v0.7h-0.7zM72.7,244.7h0.7v0.7h-0.7zM69.0,249.3h0.7v0.7h-0.7zM78.2,247.6h0.7v0.7h-0.7zM74.5,251.9h0.7v0.7h-0.7zM72.4,253.1h0.7v0.7h-0.7zM76.9,252.2h0.7v0.7h-0.7zM77.3,246.1h0.7v0.7h-0.7zM72.3,250.8h0.7v0.7h-0.7zM70.7,249.9h0.7v0.7h-0.7zM67.4,248.2h0.7v0.7h-0.7zM74.6,247.8h0.7v0.7h-0.7zM73.5,251.9h0.7v0.7h-0.7zM71.1,246.0h0.7v0.7h-0.7zM75.6,253.4h0.7v0.7h-0.7zM72.4,253.2h0.7v0.7h-0.7zM78.3,247.0h0.7v0.7h-0.7zM71.7,247.3h0.7v0.7h-0.7zM76.3,250.1h0.7v0.7h-0.7zM77.5,250.0h0.7v0.7h-0.7zM76.4,252.3h0.7v0.7h-0.7zM72.6,250.1h0.7v0.7h-0.7zM77.5,244.1h0.7v0.7h-0.7zM72.2,251.8h0.7v0.7h-0.7zM74.4,252.2h0.7v0.7h-0.7zM72.0,248.7h0.7v0.7h-0.7zM66.8,252.7h0.7v0.7h-0.7zM71.9,252.7h0.7v0.7h-0.7zM63.7,244.1h0.7v0.7h-0.7zM72.4,246.8h0.7v0.7h-0.7zM75.2,252.1h0.7v0.7h-0.7zM71.2,253.4h0.7v0.7h-0.7zM70.3,253.5h0.7v0.7h-0.7zM73.0,251.5h0.7v0.7h-0.7zM71.6,252.7h0.7v0.7h-0.7zM76.1,243.4h0.7v0.7h-0.7zM72.8,253.5h0.7v0.7h-0.7zM68.2,252.8h0.7v0.7h-0.7zM70.1,239.1h0.7v0.7h-0.7zM67.2,251.6h0.7v0.7h-0.7zM64.7,250.9h0.7v0.7h-0.7zM80.5,248.6h0.7v0.7h-0.7zM70.8,251.0h0.7v0.7h-0.7zM73.6,253.2h0.7v0.7h-0.7zM73.8,252.9h0.7v0.7h-0.7zM68.8,238.4h0.7v0.7h-0.7zM72.5,251.9h0.7v0.7h-0.7zM75.8,252.3h0.7v0.7h-0.7zM78.5,250.9h0.7v0.7h-0.7zM70.4,244.3h0.7v0.7h-0.7zM79.9,248.0h0.7v0.7h-0.7zM68.8,249.1h0.7v0.7h-0.7zM78.7,246.5h0.7v0.7h-0.7zM74.3,250.2h0.7v0.7h-0.7zM70.8,245.8h0.7v0.7h-0.7zM71.3,253.2h0.7v0.7h-0.7zM77.1,239.1h0.7v0.7h-0.7zM75.0,251.2h0.7v0.7h-0.7zM72.3,251.6h0.7v0.7h-0.7zM65.6,251.8h0.7v0.7h-0.7zM71.4,247.6h0.7v0.7h-0.7zM76.3,250.7h0.7v0.7h-0.7zM73.7,252.5h0.7v0.7h-0.7zM75.8,240.5h0.7v0.7h-0.7zM74.1,249.7h0.7v0.7h-0.7zM74.0,250.2h0.7v0.7h-0.7zM74.0,253.0h0.7v0.7h-0.7zM74.5,251.2h0.7v0.7h-0.7zM73.8,251.9h0.7v0.7h-0.7zM77.0,248.9h0.7v0.7h-0.7zM69.7,250.6h0.7v0.7h-0.7zM70.0,250.6h0.7v0.7h-0.7zM72.4,251.2h0.7v0.7h-0.7zM71.8,253.1h0.7v0.7h-0.7zM79.0,252.8h0.7v0.7h-0.7zM68.5,249.7h0.7v0.7h-0.7zM69.1,252.2h0.7v0.7h-0.7zM72.8,251.8h0.7v0.7h-0.7zM75.8,250.3h0.7v0.7h-0.7zM80.0,236.6h0.7v0.7h-0.7zM69.0,253.4h0.7v0.7h-0.7zM71.6,253.3h0.7v0.7h-0.7zM66.5,250.0h0.7v0.7h-0.7zM76.1,248.6h0.7v0.7h-0.7zM72.8,239.1h0.7v0.7h-0.7zM80.1,243.9h0.7v0.7h-0.7zM67.3,251.9h0.7v0.7h-0.7zM74.4,252.9h0.7v0.7h-0.7zM76.5,247.2h0.7v0.7h-0.7zM71.3,237.9h0.7v0.7h-0.7zM67.1,245.5h0.7v0.7h-0.7zM72.0,250.1h0.7v0.7h-0.7zM72.4,245.1h0.7v0.7h-0.7zM76.1,252.0h0.7v0.7h-0.7zM70.9,251.5h0.7v0.7h-0.7zM72.8,252.7h0.7v0.7h-0.7zM78.1,246.9h0.7v0.7h-0.7zM75.4,252.8h0.7v0.7h-0.7zM74.5,248.7h0.7v0.7h-0.7zM73.4,250.8h0.7v0.7h-0.7zM75.8,253.4h0.7v0.7h-0.7zM66.2,251.5h0.7v0.7h-0.7z" fill="#2a2a2a" fill-opacity="1"/>
<path d="M75.6,249.2h0.8v0.8h-0.8zM64.3,250.2h0.8v0.8h-0.8zM73.1,251.6h0.8v0.8h-0.8zM85.2,251.1h0.8v0.8h-0.8zM68.4,253.6h0.8v0.8h-0.8zM73.3,250.6h0.8v0.8h-0.8zM67.9,251.4h0.8v0.8h-0.8zM79.9,252.7h0.8v0.8h-0.8zM70.9,253.1h0.8v0.8h-0.8zM73.5,249.1h0.8v0.8h-0.8zM76.1,252.5h0.8v0.8h-0.8zM81.0,251.4h0.8v0.8h-0.8zM66.6,252.8h0.8v0.8h-0.8zM85.2,250.2h0.8v0.8h-0.8zM81.1,251.7h0.8v0.8h-0.8zM76.0,251.6h0.8v0.8h-0.8zM68.3,253.5h0.8v0.8h-0.8zM70.8,252.0h0.8v0.8h-0.8zM75.8,249.2h0.8v0.8h-0.8zM76.2,252.5h0.8v0.8h-0.8zM71.6,250.5h0.8v0.8h-0.8zM74.6,252.5h0.8v0.8h-0.8zM72.1,252.1h0.8v0.8h-0.8zM73.1,248.5h0.8v0.8h-0.8zM79.1,253.7h0.8v0.8h-0.8zM72.3,250.9h0.8v0.8h-0.8zM74.0,250.2h0.8v0.8h-0.8zM75.8,251.0h0.8v0.8h-0.8zM75.2,253.0h0.8v0.8h-0.8zM72.6,248.8h0.8v0.8h-0.8zM81.6,251.9h0.8v0.8h-0.8zM77.0,253.0h0.8v0.8h-0.8zM64.1,251.0h0.8v0.8h-0.8zM73.2,249.8h0.8v0.8h-0.8zM73.3,252.5h0.8v0.8h-0.8zM70.9,249.0h0.8v0.8h-0.8zM80.5,253.3h0.8v0.8h-0.8zM73.5,252.7h0.8v0.8h-0.8zM64.6,252.0h0.8v0.8h-0.8zM76.8,251.4h0.8v0.8h-0.8zM80.8,252.8h0.8v0.8h-0.8zM69.8,250.9h0.8v0.8h-0.8zM85.0,250.5h0.8v0.8h-0.8zM69.9,251.2h0.8v0.8h-0.8zM68.2,251.5h0.8v0.8h-0.8zM72.9,251.6h0.8v0.8h-0.8zM61.4,248.6h0.8v0.8h-0.8zM63.6,252.8h0.8v0.8h-0.8zM73.1,247.0h0.8v0.8h-0.8zM74.4,253.2h0.8v0.8h-0.8zM71.1,251.5h0.8v0.8h-0.8zM77.8,247.4h0.8v0.8h-0.8zM73.0,252.8h0.8v0.8h-0.8zM80.7,251.3h0.8v0.8h-0.8zM63.2,251.9h0.8v0.8h-0.8zM65.7,250.8h0.8v0.8h-0.8zM76.4,249.5h0.8v0.8h-0.8zM79.2,252.5h0.8v0.8h-0.8zM74.1,251.5h0.8v0.8h-0.8zM68.7,251.9h0.8v0.8h-0.8zM73.0,250.0h0.8v0.8h-0.8zM71.2,252.9h0.8v0.8h-0.8zM72.2,252.2h0.8v0.8h-0.8zM73.6,248.7h0.8v0.8h-0.8zM72.6,250.3h0.8v0.8h-0.8zM73.7,249.3h0.8v0.8h-0.8zM76.0,250.1h0.8v0.8h-0.8zM65.1,253.0h0.8v0.8h-0.8zM66.4,254.0h0.8v0.8h-0.8zM79.1,250.9h0.8v0.8h-0.8zM78.7,249.4h0.8v0.8h-0.8zM78.4,251.9h0.8v0.8h-0.8zM76.1,251.5h0.8v0.8h-0.8zM75.4,253.3h0.8v0.8h-0.8zM68.1,250.7h0.8v0.8h-0.8zM77.0,253.6h0.8v0.8h-0.8zM72.2,251.9h0.8v0.8h-0.8zM81.5,248.3h0.8v0.8h-0.8zM59.9,253.1h0.8v0.8h-0.8zM75.9,253.0h0.8v0.8h-0.8zM63.8,251.9h0.8v0.8h-0.8zM71.8,251.3h0.8v0.8h-0.8zM74.9,253.3h0.8v0.8h-0.8zM85.0,247.9h0.8v0.8h-0.8zM66.7,249.0h0.8v0.8h-0.8zM79.7,250.2h0.8v0.8h-0.8zM73.7,252.3h0.8v0.8h-0.8zM60.6,253.4h0.8v0.8h-0.8zM76.7,250.6h0.8v0.8h-0.8zM70.1,250.8h0.8v0.8h-0.8z" fill="#1a1a40" fill-opacity="1"/>
<path d="M58,273.1 L57.9,256 Q58,254.2 60,254.1 L83,254 Q85.2,254.2 85.3,256 L85.6,273.1 Z" fill="#000"/>
<path d="M86.8,261.9h0.7v0.7h-0.7zM85.2,264.2h0.7v0.7h-0.7zM86.9,270.8h0.7v0.7h-0.7zM57.6,265.7h0.7v0.7h-0.7zM86.0,265.4h0.7v0.7h-0.7zM86.7,265.2h0.7v0.7h-0.7zM86.8,271.8h0.7v0.7h-0.7zM85.2,266.0h0.7v0.7h-0.7zM87.6,262.3h0.7v0.7h-0.7zM87.8,268.4h0.7v0.7h-0.7zM85.6,256.6h0.7v0.7h-0.7zM57.6,265.2h0.7v0.7h-0.7zM57.6,269.3h0.7v0.7h-0.7zM87.9,261.9h0.7v0.7h-0.7zM56.3,265.7h0.7v0.7h-0.7zM56.8,266.7h0.7v0.7h-0.7zM86.1,264.6h0.7v0.7h-0.7zM85.1,261.1h0.7v0.7h-0.7zM58.0,265.9h0.7v0.7h-0.7zM56.5,260.6h0.7v0.7h-0.7zM57.4,260.4h0.7v0.7h-0.7zM58.1,255.5h0.7v0.7h-0.7zM85.8,271.5h0.7v0.7h-0.7zM85.4,263.4h0.7v0.7h-0.7zM87.2,265.3h0.7v0.7h-0.7zM87.5,264.9h0.7v0.7h-0.7zM58.4,272.3h0.7v0.7h-0.7zM87.8,258.2h0.7v0.7h-0.7zM86.1,264.7h0.7v0.7h-0.7zM57.4,270.0h0.7v0.7h-0.7zM58.0,268.5h0.7v0.7h-0.7zM56.2,268.0h0.7v0.7h-0.7zM57.3,269.2h0.7v0.7h-0.7zM57.0,264.8h0.7v0.7h-0.7zM85.7,255.6h0.7v0.7h-0.7zM57.4,264.8h0.7v0.7h-0.7zM86.4,268.6h0.7v0.7h-0.7zM86.0,269.5h0.7v0.7h-0.7zM85.8,264.6h0.7v0.7h-0.7zM85.7,268.1h0.7v0.7h-0.7zM87.0,272.0h0.7v0.7h-0.7zM87.8,256.4h0.7v0.7h-0.7zM57.6,267.0h0.7v0.7h-0.7zM87.1,255.4h0.7v0.7h-0.7zM57.7,268.1h0.7v0.7h-0.7zM58.2,267.3h0.7v0.7h-0.7zM86.9,261.5h0.7v0.7h-0.7zM58.0,265.4h0.7v0.7h-0.7zM86.0,255.1h0.7v0.7h-0.7zM56.3,261.9h0.7v0.7h-0.7zM56.8,255.5h0.7v0.7h-0.7zM85.5,265.2h0.7v0.7h-0.7zM85.3,271.9h0.7v0.7h-0.7zM58.5,256.5h0.7v0.7h-0.7zM85.7,264.9h0.7v0.7h-0.7zM85.9,270.5h0.7v0.7h-0.7zM86.5,265.2h0.7v0.7h-0.7zM86.0,260.8h0.7v0.7h-0.7zM57.7,262.9h0.7v0.7h-0.7zM86.4,266.2h0.7v0.7h-0.7zM87.9,269.0h0.7v0.7h-0.7zM58.2,270.9h0.7v0.7h-0.7zM87.6,256.8h0.7v0.7h-0.7zM57.1,266.5h0.7v0.7h-0.7zM57.0,269.3h0.7v0.7h-0.7zM58.3,260.5h0.7v0.7h-0.7zM87.5,264.7h0.7v0.7h-0.7zM87.8,258.8h0.7v0.7h-0.7zM86.9,270.2h0.7v0.7h-0.7zM56.2,260.6h0.7v0.7h-0.7zM57.6,268.2h0.7v0.7h-0.7zM56.5,272.0h0.7v0.7h-0.7zM56.1,258.0h0.7v0.7h-0.7zM58.0,267.2h0.7v0.7h-0.7zM58.3,271.5h0.7v0.7h-0.7zM87.2,265.1h0.7v0.7h-0.7zM85.4,255.8h0.7v0.7h-0.7zM87.2,267.8h0.7v0.7h-0.7zM56.6,269.2h0.7v0.7h-0.7zM86.5,262.1h0.7v0.7h-0.7zM58.4,261.4h0.7v0.7h-0.7zM57.3,262.1h0.7v0.7h-0.7zM87.3,267.8h0.7v0.7h-0.7zM86.8,263.6h0.7v0.7h-0.7zM58.3,263.1h0.7v0.7h-0.7zM58.4,265.8h0.7v0.7h-0.7zM58.0,260.3h0.7v0.7h-0.7zM57.6,262.5h0.7v0.7h-0.7zM85.2,264.5h0.7v0.7h-0.7zM56.1,263.7h0.7v0.7h-0.7z" fill="#000" fill-opacity="1"/>
<path d="M64.5,273 L64.3,260 Q64.6,255.6 72.3,255.5 Q80.5,255.6 80.7,260 L80.8,273 Z" fill="#9a9a9a" stroke="#e6e6e6" stroke-width="1.3"/>
<path d="M67.2,273 L67.2,262 Q67.6,258.6 72.4,258.6 Q77.6,258.6 77.9,262 L78,273 Z" fill="#7a7a7a" stroke="#b8b8b8" stroke-width="0.6"/>
<ellipse cx="72.7" cy="262.5" rx="2" ry="3" fill="#3a3a3a"/>
<path d="M72.7,265 L72.7,272" stroke="#555" stroke-width="1"/>
<line x1="105.5" y1="273.5" x2="106.8" y2="273.5" stroke="#000" stroke-width="0.6" />
<text x="105.2" y="276.2" font-size="4.6" text-anchor="end" fill="#222">10<tspan font-size="3.0" dy="-1.4">0</tspan></text>
<line x1="106.8" y1="273.5" x2="106.8" y2="274.8" stroke="#000" stroke-width="0.6" />
<text x="106.8" y="281.1" font-size="4.6" text-anchor="middle" fill="#222">10<tspan font-size="3.0" dy="-1.4">0</tspan></text>
<line x1="105.5" y1="257.875" x2="106.8" y2="257.875" stroke="#000" stroke-width="0.6" />
<text x="105.2" y="260.575" font-size="4.6" text-anchor="end" fill="#222">10<tspan font-size="3.0" dy="-1.4">1</tspan></text>
<line x1="122.725" y1="273.5" x2="122.725" y2="274.8" stroke="#000" stroke-width="0.6" />
<text x="122.725" y="281.1" font-size="4.6" text-anchor="middle" fill="#222">10<tspan font-size="3.0" dy="-1.4">1</tspan></text>
<line x1="105.5" y1="242.25" x2="106.8" y2="242.25" stroke="#000" stroke-width="0.6" />
<text x="105.2" y="244.95" font-size="4.6" text-anchor="end" fill="#222">10<tspan font-size="3.0" dy="-1.4">2</tspan></text>
<line x1="138.65" y1="273.5" x2="138.65" y2="274.8" stroke="#000" stroke-width="0.6" />
<text x="138.65" y="281.1" font-size="4.6" text-anchor="middle" fill="#222">10<tspan font-size="3.0" dy="-1.4">2</tspan></text>
<line x1="105.5" y1="226.625" x2="106.8" y2="226.625" stroke="#000" stroke-width="0.6" />
<text x="105.2" y="229.325" font-size="4.6" text-anchor="end" fill="#222">10<tspan font-size="3.0" dy="-1.4">3</tspan></text>
<line x1="154.575" y1="273.5" x2="154.575" y2="274.8" stroke="#000" stroke-width="0.6" />
<text x="154.575" y="281.1" font-size="4.6" text-anchor="middle" fill="#222">10<tspan font-size="3.0" dy="-1.4">3</tspan></text>
<line x1="105.5" y1="211.0" x2="106.8" y2="211.0" stroke="#000" stroke-width="0.6" />
<text x="105.2" y="213.7" font-size="4.6" text-anchor="end" fill="#222">10<tspan font-size="3.0" dy="-1.4">4</tspan></text>
<line x1="170.5" y1="273.5" x2="170.5" y2="274.8" stroke="#000" stroke-width="0.6" />
<text x="170.5" y="281.1" font-size="4.6" text-anchor="middle" fill="#222">10<tspan font-size="3.0" dy="-1.4">4</tspan></text>
<rect x="106.8" y="211" width="63.7" height="62.5" fill="none" stroke="#444" stroke-width="0.85"/>
<rect x="130.6" y="219.3" width="36.900000000000006" height="33.89999999999998" fill="none" stroke="#5a67a8" stroke-width="0.9"/>
<text x="162.8" y="226.5" font-size="6" font-weight="bold" text-anchor="end" fill="#222" >4.2</text>
<path d="M150.5,254.9h0.7v0.7h-0.7zM157.9,243.0h0.7v0.7h-0.7zM142.1,245.4h0.7v0.7h-0.7zM142.6,240.9h0.7v0.7h-0.7zM146.2,247.1h0.7v0.7h-0.7zM132.2,244.4h0.7v0.7h-0.7zM146.3,248.9h0.7v0.7h-0.7zM139.3,247.3h0.7v0.7h-0.7zM139.0,237.6h0.7v0.7h-0.7zM140.1,244.8h0.7v0.7h-0.7zM143.8,251.7h0.7v0.7h-0.7zM149.4,242.3h0.7v0.7h-0.7zM153.3,254.7h0.7v0.7h-0.7zM148.5,246.7h0.7v0.7h-0.7zM139.3,250.8h0.7v0.7h-0.7zM153.5,245.8h0.7v0.7h-0.7zM158.8,238.2h0.7v0.7h-0.7zM144.6,252.7h0.7v0.7h-0.7zM152.8,251.4h0.7v0.7h-0.7zM135.5,249.0h0.7v0.7h-0.7zM150.5,240.4h0.7v0.7h-0.7zM157.7,249.3h0.7v0.7h-0.7zM154.2,255.0h0.7v0.7h-0.7zM144.9,246.6h0.7v0.7h-0.7zM146.6,251.5h0.7v0.7h-0.7zM153.5,237.6h0.7v0.7h-0.7zM141.6,237.6h0.7v0.7h-0.7zM148.5,236.8h0.7v0.7h-0.7zM140.0,253.1h0.7v0.7h-0.7zM140.8,248.1h0.7v0.7h-0.7zM137.0,253.6h0.7v0.7h-0.7zM148.5,248.1h0.7v0.7h-0.7zM140.5,247.0h0.7v0.7h-0.7zM143.4,250.6h0.7v0.7h-0.7zM143.8,242.7h0.7v0.7h-0.7zM141.4,242.1h0.7v0.7h-0.7zM152.7,242.7h0.7v0.7h-0.7zM153.4,235.4h0.7v0.7h-0.7zM133.1,245.0h0.7v0.7h-0.7zM133.2,254.9h0.7v0.7h-0.7zM146.1,243.3h0.7v0.7h-0.7zM151.7,242.9h0.7v0.7h-0.7zM147.3,245.6h0.7v0.7h-0.7zM161.0,249.1h0.7v0.7h-0.7zM143.5,245.4h0.7v0.7h-0.7zM134.5,252.9h0.7v0.7h-0.7zM138.6,241.0h0.7v0.7h-0.7zM145.8,246.6h0.7v0.7h-0.7zM141.1,239.7h0.7v0.7h-0.7zM142.3,248.2h0.7v0.7h-0.7zM153.8,239.2h0.7v0.7h-0.7zM139.5,250.2h0.7v0.7h-0.7zM143.8,252.5h0.7v0.7h-0.7zM141.0,246.8h0.7v0.7h-0.7zM145.9,245.3h0.7v0.7h-0.7zM152.1,244.9h0.7v0.7h-0.7zM145.9,243.3h0.7v0.7h-0.7zM157.6,248.0h0.7v0.7h-0.7zM146.2,234.8h0.7v0.7h-0.7zM150.6,240.1h0.7v0.7h-0.7zM135.7,244.1h0.7v0.7h-0.7zM141.2,243.9h0.7v0.7h-0.7zM148.2,242.4h0.7v0.7h-0.7zM142.0,243.0h0.7v0.7h-0.7zM139.2,239.1h0.7v0.7h-0.7zM138.6,242.1h0.7v0.7h-0.7zM140.9,246.2h0.7v0.7h-0.7zM147.5,250.1h0.7v0.7h-0.7zM147.1,246.0h0.7v0.7h-0.7zM147.2,242.0h0.7v0.7h-0.7zM141.3,244.5h0.7v0.7h-0.7zM142.2,248.5h0.7v0.7h-0.7zM150.0,235.6h0.7v0.7h-0.7zM152.3,234.1h0.7v0.7h-0.7zM155.6,237.3h0.7v0.7h-0.7zM157.6,256.0h0.7v0.7h-0.7zM149.0,245.9h0.7v0.7h-0.7zM160.1,247.2h0.7v0.7h-0.7zM136.6,243.8h0.7v0.7h-0.7zM147.5,249.2h0.7v0.7h-0.7zM160.6,249.2h0.7v0.7h-0.7zM155.1,235.8h0.7v0.7h-0.7zM141.1,245.5h0.7v0.7h-0.7zM157.9,237.0h0.7v0.7h-0.7zM153.3,239.8h0.7v0.7h-0.7zM144.4,245.0h0.7v0.7h-0.7zM147.0,246.1h0.7v0.7h-0.7zM143.5,250.0h0.7v0.7h-0.7zM145.0,243.4h0.7v0.7h-0.7zM142.7,245.2h0.7v0.7h-0.7zM141.3,238.7h0.7v0.7h-0.7zM152.8,247.8h0.7v0.7h-0.7zM149.9,245.5h0.7v0.7h-0.7zM141.0,235.9h0.7v0.7h-0.7zM154.6,244.7h0.7v0.7h-0.7zM151.0,245.2h0.7v0.7h-0.7zM153.3,237.8h0.7v0.7h-0.7zM154.0,231.1h0.7v0.7h-0.7zM149.0,253.1h0.7v0.7h-0.7zM149.7,246.5h0.7v0.7h-0.7zM142.1,250.9h0.7v0.7h-0.7zM147.9,249.4h0.7v0.7h-0.7zM151.7,243.3h0.7v0.7h-0.7zM143.5,249.5h0.7v0.7h-0.7zM151.9,246.2h0.7v0.7h-0.7zM151.0,241.0h0.7v0.7h-0.7zM147.8,249.6h0.7v0.7h-0.7zM149.2,229.0h0.7v0.7h-0.7zM149.7,241.6h0.7v0.7h-0.7zM145.6,245.9h0.7v0.7h-0.7zM157.9,231.9h0.7v0.7h-0.7zM157.2,239.2h0.7v0.7h-0.7zM145.7,250.2h0.7v0.7h-0.7zM158.8,244.6h0.7v0.7h-0.7zM149.3,242.6h0.7v0.7h-0.7zM149.3,250.4h0.7v0.7h-0.7zM150.0,242.2h0.7v0.7h-0.7zM150.8,240.8h0.7v0.7h-0.7zM160.3,239.9h0.7v0.7h-0.7zM147.0,253.4h0.7v0.7h-0.7zM147.2,242.6h0.7v0.7h-0.7zM146.4,233.5h0.7v0.7h-0.7zM148.6,239.4h0.7v0.7h-0.7zM145.3,235.1h0.7v0.7h-0.7zM146.6,241.9h0.7v0.7h-0.7zM143.3,249.2h0.7v0.7h-0.7zM132.7,234.5h0.7v0.7h-0.7zM157.7,245.9h0.7v0.7h-0.7zM151.1,232.6h0.7v0.7h-0.7zM137.8,248.0h0.7v0.7h-0.7zM148.9,250.8h0.7v0.7h-0.7zM148.2,246.7h0.7v0.7h-0.7zM150.0,243.9h0.7v0.7h-0.7zM137.2,250.1h0.7v0.7h-0.7zM143.9,243.6h0.7v0.7h-0.7zM145.5,248.5h0.7v0.7h-0.7zM144.9,236.3h0.7v0.7h-0.7zM147.7,251.2h0.7v0.7h-0.7zM143.9,253.0h0.7v0.7h-0.7zM146.0,246.6h0.7v0.7h-0.7zM159.5,251.6h0.7v0.7h-0.7zM147.9,249.6h0.7v0.7h-0.7zM145.0,239.0h0.7v0.7h-0.7zM150.0,243.3h0.7v0.7h-0.7zM145.2,241.3h0.7v0.7h-0.7zM149.5,244.1h0.7v0.7h-0.7zM146.4,240.1h0.7v0.7h-0.7zM143.1,236.0h0.7v0.7h-0.7zM149.1,243.2h0.7v0.7h-0.7zM142.8,244.2h0.7v0.7h-0.7zM150.0,247.6h0.7v0.7h-0.7zM145.5,249.1h0.7v0.7h-0.7zM153.0,232.2h0.7v0.7h-0.7zM139.4,248.4h0.7v0.7h-0.7zM148.3,248.3h0.7v0.7h-0.7zM154.6,237.6h0.7v0.7h-0.7zM148.6,251.3h0.7v0.7h-0.7zM139.8,254.4h0.7v0.7h-0.7zM133.0,242.2h0.7v0.7h-0.7zM147.7,246.6h0.7v0.7h-0.7zM144.8,249.3h0.7v0.7h-0.7zM147.1,239.9h0.7v0.7h-0.7zM141.2,231.6h0.7v0.7h-0.7zM144.0,247.3h0.7v0.7h-0.7zM137.0,240.8h0.7v0.7h-0.7zM146.2,244.4h0.7v0.7h-0.7zM156.7,234.0h0.7v0.7h-0.7zM135.8,244.9h0.7v0.7h-0.7zM149.1,250.8h0.7v0.7h-0.7zM141.0,248.2h0.7v0.7h-0.7zM156.3,243.8h0.7v0.7h-0.7zM151.6,238.7h0.7v0.7h-0.7zM152.9,242.9h0.7v0.7h-0.7zM144.0,243.5h0.7v0.7h-0.7zM136.7,234.4h0.7v0.7h-0.7zM148.4,244.3h0.7v0.7h-0.7zM145.6,234.3h0.7v0.7h-0.7zM148.1,241.6h0.7v0.7h-0.7zM136.7,251.0h0.7v0.7h-0.7zM141.5,229.2h0.7v0.7h-0.7zM153.9,245.8h0.7v0.7h-0.7zM142.9,245.2h0.7v0.7h-0.7zM157.8,237.9h0.7v0.7h-0.7zM154.5,244.4h0.7v0.7h-0.7zM142.9,244.8h0.7v0.7h-0.7zM151.3,243.8h0.7v0.7h-0.7zM148.4,248.4h0.7v0.7h-0.7zM151.9,241.7h0.7v0.7h-0.7zM147.8,230.5h0.7v0.7h-0.7zM138.2,238.6h0.7v0.7h-0.7zM143.4,242.0h0.7v0.7h-0.7zM139.3,247.4h0.7v0.7h-0.7zM153.7,253.7h0.7v0.7h-0.7zM147.7,247.3h0.7v0.7h-0.7zM152.2,254.8h0.7v0.7h-0.7zM143.7,248.8h0.7v0.7h-0.7zM137.9,237.3h0.7v0.7h-0.7zM138.3,248.2h0.7v0.7h-0.7zM145.5,244.6h0.7v0.7h-0.7zM140.6,243.6h0.7v0.7h-0.7zM159.5,233.8h0.7v0.7h-0.7zM138.4,250.1h0.7v0.7h-0.7zM139.9,244.4h0.7v0.7h-0.7zM147.7,233.8h0.7v0.7h-0.7zM144.1,243.7h0.7v0.7h-0.7zM149.1,248.0h0.7v0.7h-0.7zM146.6,243.8h0.7v0.7h-0.7zM145.9,244.6h0.7v0.7h-0.7zM152.0,239.4h0.7v0.7h-0.7zM139.1,247.5h0.7v0.7h-0.7zM151.6,238.3h0.7v0.7h-0.7zM145.6,237.6h0.7v0.7h-0.7zM150.5,243.9h0.7v0.7h-0.7zM148.9,247.3h0.7v0.7h-0.7zM148.6,251.6h0.7v0.7h-0.7zM151.8,242.3h0.7v0.7h-0.7zM141.3,246.7h0.7v0.7h-0.7zM135.6,239.9h0.7v0.7h-0.7zM153.3,249.6h0.7v0.7h-0.7zM161.4,242.0h0.7v0.7h-0.7zM145.7,249.7h0.7v0.7h-0.7zM155.4,236.2h0.7v0.7h-0.7zM153.8,245.5h0.7v0.7h-0.7zM158.9,244.9h0.7v0.7h-0.7zM143.6,240.4h0.7v0.7h-0.7zM144.1,240.9h0.7v0.7h-0.7zM134.3,245.2h0.7v0.7h-0.7zM141.6,252.0h0.7v0.7h-0.7zM152.2,240.7h0.7v0.7h-0.7zM145.0,247.0h0.7v0.7h-0.7zM155.2,251.2h0.7v0.7h-0.7zM152.7,244.3h0.7v0.7h-0.7zM151.9,236.9h0.7v0.7h-0.7zM150.5,243.7h0.7v0.7h-0.7zM144.8,243.3h0.7v0.7h-0.7zM141.6,241.6h0.7v0.7h-0.7zM156.2,240.8h0.7v0.7h-0.7zM137.5,247.6h0.7v0.7h-0.7zM143.8,240.4h0.7v0.7h-0.7zM156.1,243.7h0.7v0.7h-0.7zM150.6,245.7h0.7v0.7h-0.7zM158.4,248.8h0.7v0.7h-0.7zM136.7,255.2h0.7v0.7h-0.7zM143.3,241.9h0.7v0.7h-0.7zM152.2,243.6h0.7v0.7h-0.7zM144.2,241.8h0.7v0.7h-0.7zM144.6,251.4h0.7v0.7h-0.7zM149.1,252.8h0.7v0.7h-0.7zM159.7,249.2h0.7v0.7h-0.7zM141.1,245.1h0.7v0.7h-0.7zM149.8,236.1h0.7v0.7h-0.7zM146.1,237.3h0.7v0.7h-0.7zM154.9,233.0h0.7v0.7h-0.7zM144.3,245.9h0.7v0.7h-0.7zM148.2,238.3h0.7v0.7h-0.7zM151.7,243.8h0.7v0.7h-0.7zM156.9,245.0h0.7v0.7h-0.7zM152.5,233.8h0.7v0.7h-0.7zM148.1,244.8h0.7v0.7h-0.7zM139.8,229.9h0.7v0.7h-0.7zM151.8,252.3h0.7v0.7h-0.7zM142.6,249.7h0.7v0.7h-0.7zM151.2,240.6h0.7v0.7h-0.7zM151.1,246.9h0.7v0.7h-0.7zM144.5,235.2h0.7v0.7h-0.7zM148.6,243.2h0.7v0.7h-0.7zM149.0,244.0h0.7v0.7h-0.7zM134.5,241.5h0.7v0.7h-0.7zM147.6,241.7h0.7v0.7h-0.7zM148.4,246.1h0.7v0.7h-0.7zM146.0,241.4h0.7v0.7h-0.7zM158.1,246.0h0.7v0.7h-0.7zM149.0,247.5h0.7v0.7h-0.7zM148.3,231.9h0.7v0.7h-0.7zM143.9,246.0h0.7v0.7h-0.7zM150.3,244.6h0.7v0.7h-0.7zM139.2,242.2h0.7v0.7h-0.7zM149.6,244.8h0.7v0.7h-0.7zM150.1,243.2h0.7v0.7h-0.7zM142.0,252.5h0.7v0.7h-0.7zM143.9,242.2h0.7v0.7h-0.7zM154.1,241.8h0.7v0.7h-0.7zM135.4,246.9h0.7v0.7h-0.7zM149.8,247.0h0.7v0.7h-0.7zM145.6,246.3h0.7v0.7h-0.7zM140.6,244.1h0.7v0.7h-0.7zM150.6,251.6h0.7v0.7h-0.7zM157.5,242.3h0.7v0.7h-0.7zM150.4,243.8h0.7v0.7h-0.7zM140.1,246.6h0.7v0.7h-0.7zM153.2,249.6h0.7v0.7h-0.7zM133.9,243.2h0.7v0.7h-0.7zM146.0,244.7h0.7v0.7h-0.7zM136.3,238.1h0.7v0.7h-0.7zM158.5,246.1h0.7v0.7h-0.7zM141.5,239.8h0.7v0.7h-0.7zM151.6,240.2h0.7v0.7h-0.7zM151.9,247.6h0.7v0.7h-0.7zM149.7,249.6h0.7v0.7h-0.7zM142.6,235.1h0.7v0.7h-0.7zM135.5,244.2h0.7v0.7h-0.7zM141.3,254.3h0.7v0.7h-0.7zM140.4,254.5h0.7v0.7h-0.7zM145.8,244.4h0.7v0.7h-0.7zM133.7,243.8h0.7v0.7h-0.7zM156.7,234.9h0.7v0.7h-0.7zM155.6,249.4h0.7v0.7h-0.7zM153.0,237.8h0.7v0.7h-0.7zM157.6,236.9h0.7v0.7h-0.7zM157.6,251.7h0.7v0.7h-0.7zM134.8,253.8h0.7v0.7h-0.7zM159.2,243.6h0.7v0.7h-0.7zM136.0,242.8h0.7v0.7h-0.7zM144.7,249.6h0.7v0.7h-0.7zM140.1,238.3h0.7v0.7h-0.7zM148.3,246.3h0.7v0.7h-0.7zM134.5,247.1h0.7v0.7h-0.7zM143.0,241.4h0.7v0.7h-0.7zM151.0,248.7h0.7v0.7h-0.7zM150.2,255.4h0.7v0.7h-0.7zM148.5,244.4h0.7v0.7h-0.7zM149.2,253.7h0.7v0.7h-0.7zM151.2,246.3h0.7v0.7h-0.7zM153.9,234.5h0.7v0.7h-0.7zM153.8,249.4h0.7v0.7h-0.7zM144.8,234.7h0.7v0.7h-0.7zM135.5,230.3h0.7v0.7h-0.7zM149.3,243.4h0.7v0.7h-0.7zM140.5,250.0h0.7v0.7h-0.7zM140.0,250.8h0.7v0.7h-0.7zM152.3,247.8h0.7v0.7h-0.7zM139.1,237.3h0.7v0.7h-0.7zM147.2,251.0h0.7v0.7h-0.7zM139.4,245.6h0.7v0.7h-0.7zM152.9,233.3h0.7v0.7h-0.7zM159.9,242.9h0.7v0.7h-0.7zM143.1,245.5h0.7v0.7h-0.7zM145.5,238.2h0.7v0.7h-0.7zM142.5,242.6h0.7v0.7h-0.7zM139.2,250.6h0.7v0.7h-0.7zM151.2,248.9h0.7v0.7h-0.7zM135.3,241.1h0.7v0.7h-0.7zM150.4,243.6h0.7v0.7h-0.7zM133.9,246.6h0.7v0.7h-0.7zM160.7,250.9h0.7v0.7h-0.7zM146.1,236.5h0.7v0.7h-0.7zM154.0,247.9h0.7v0.7h-0.7zM144.5,242.1h0.7v0.7h-0.7zM152.4,243.5h0.7v0.7h-0.7zM142.0,236.7h0.7v0.7h-0.7zM144.1,242.2h0.7v0.7h-0.7zM138.0,233.3h0.7v0.7h-0.7zM141.8,249.8h0.7v0.7h-0.7zM160.5,233.6h0.7v0.7h-0.7zM142.8,248.2h0.7v0.7h-0.7zM141.6,247.9h0.7v0.7h-0.7zM144.3,251.6h0.7v0.7h-0.7zM147.7,255.2h0.7v0.7h-0.7zM137.6,251.5h0.7v0.7h-0.7zM144.2,251.6h0.7v0.7h-0.7zM142.8,249.7h0.7v0.7h-0.7zM154.3,246.2h0.7v0.7h-0.7zM139.6,240.0h0.7v0.7h-0.7zM143.3,242.9h0.7v0.7h-0.7zM153.7,236.7h0.7v0.7h-0.7zM145.8,244.6h0.7v0.7h-0.7zM146.9,238.5h0.7v0.7h-0.7zM155.9,244.0h0.7v0.7h-0.7zM141.4,243.7h0.7v0.7h-0.7zM154.9,248.0h0.7v0.7h-0.7zM155.0,247.6h0.7v0.7h-0.7zM143.8,235.1h0.7v0.7h-0.7zM140.8,243.9h0.7v0.7h-0.7zM135.5,242.7h0.7v0.7h-0.7zM141.1,251.8h0.7v0.7h-0.7zM152.0,241.4h0.7v0.7h-0.7zM147.5,254.5h0.7v0.7h-0.7zM151.8,242.4h0.7v0.7h-0.7zM143.0,235.0h0.7v0.7h-0.7zM149.0,249.9h0.7v0.7h-0.7zM146.4,244.5h0.7v0.7h-0.7zM141.3,245.2h0.7v0.7h-0.7zM150.4,236.4h0.7v0.7h-0.7zM151.7,242.7h0.7v0.7h-0.7zM150.4,244.5h0.7v0.7h-0.7zM149.4,246.0h0.7v0.7h-0.7zM152.2,239.9h0.7v0.7h-0.7zM146.4,237.1h0.7v0.7h-0.7zM147.5,251.4h0.7v0.7h-0.7zM145.1,250.9h0.7v0.7h-0.7zM143.8,246.8h0.7v0.7h-0.7zM155.4,246.4h0.7v0.7h-0.7zM149.9,253.1h0.7v0.7h-0.7zM151.3,250.5h0.7v0.7h-0.7zM145.0,239.8h0.7v0.7h-0.7zM152.3,238.0h0.7v0.7h-0.7zM155.1,241.1h0.7v0.7h-0.7zM149.0,249.6h0.7v0.7h-0.7zM147.0,243.2h0.7v0.7h-0.7zM140.0,234.0h0.7v0.7h-0.7zM135.0,238.4h0.7v0.7h-0.7zM150.8,241.5h0.7v0.7h-0.7zM155.0,238.5h0.7v0.7h-0.7zM136.8,247.5h0.7v0.7h-0.7zM145.3,235.6h0.7v0.7h-0.7zM156.7,246.2h0.7v0.7h-0.7zM137.5,241.4h0.7v0.7h-0.7zM140.8,251.7h0.7v0.7h-0.7zM143.5,240.6h0.7v0.7h-0.7zM149.1,254.4h0.7v0.7h-0.7zM156.4,244.5h0.7v0.7h-0.7zM145.0,240.7h0.7v0.7h-0.7zM153.7,237.8h0.7v0.7h-0.7zM146.7,248.8h0.7v0.7h-0.7zM142.5,229.3h0.7v0.7h-0.7zM143.3,239.3h0.7v0.7h-0.7zM140.4,240.8h0.7v0.7h-0.7zM152.5,235.2h0.7v0.7h-0.7zM138.7,243.6h0.7v0.7h-0.7zM153.2,239.3h0.7v0.7h-0.7z" fill="#222" fill-opacity="1"/>
<path d="M152.6,240.1h0.8v0.8h-0.8zM140.4,242.6h0.8v0.8h-0.8zM149.7,236.6h0.8v0.8h-0.8zM149.9,250.7h0.8v0.8h-0.8zM148.7,251.3h0.8v0.8h-0.8zM152.7,247.3h0.8v0.8h-0.8zM147.3,251.3h0.8v0.8h-0.8zM152.3,247.0h0.8v0.8h-0.8zM145.0,235.0h0.8v0.8h-0.8zM153.0,239.6h0.8v0.8h-0.8zM151.7,241.1h0.8v0.8h-0.8zM152.8,249.1h0.8v0.8h-0.8zM148.6,251.0h0.8v0.8h-0.8zM146.4,236.1h0.8v0.8h-0.8zM151.1,248.1h0.8v0.8h-0.8zM151.0,238.9h0.8v0.8h-0.8zM151.3,243.5h0.8v0.8h-0.8zM153.2,246.3h0.8v0.8h-0.8zM153.0,245.5h0.8v0.8h-0.8zM144.9,237.4h0.8v0.8h-0.8zM149.7,250.5h0.8v0.8h-0.8zM148.6,250.0h0.8v0.8h-0.8zM151.7,243.2h0.8v0.8h-0.8zM141.6,251.2h0.8v0.8h-0.8zM141.7,249.1h0.8v0.8h-0.8zM146.4,252.3h0.8v0.8h-0.8zM155.9,244.1h0.8v0.8h-0.8zM144.7,236.8h0.8v0.8h-0.8zM150.6,251.2h0.8v0.8h-0.8zM142.7,250.5h0.8v0.8h-0.8zM140.6,243.0h0.8v0.8h-0.8zM143.3,236.4h0.8v0.8h-0.8zM148.2,236.8h0.8v0.8h-0.8zM142.8,242.0h0.8v0.8h-0.8zM140.8,239.5h0.8v0.8h-0.8zM144.3,249.0h0.8v0.8h-0.8zM151.6,237.2h0.8v0.8h-0.8zM151.5,240.8h0.8v0.8h-0.8zM149.3,251.0h0.8v0.8h-0.8zM141.8,249.5h0.8v0.8h-0.8zM148.5,237.3h0.8v0.8h-0.8zM147.9,237.1h0.8v0.8h-0.8zM148.4,237.2h0.8v0.8h-0.8zM141.6,247.9h0.8v0.8h-0.8zM145.8,238.2h0.8v0.8h-0.8zM138.8,250.1h0.8v0.8h-0.8zM151.6,241.4h0.8v0.8h-0.8zM142.0,239.7h0.8v0.8h-0.8zM145.6,253.0h0.8v0.8h-0.8zM152.2,239.8h0.8v0.8h-0.8zM148.4,239.4h0.8v0.8h-0.8zM152.5,244.0h0.8v0.8h-0.8zM146.8,237.8h0.8v0.8h-0.8zM146.0,251.4h0.8v0.8h-0.8zM150.2,238.8h0.8v0.8h-0.8zM140.5,244.9h0.8v0.8h-0.8zM154.2,249.5h0.8v0.8h-0.8zM152.3,241.2h0.8v0.8h-0.8zM146.9,237.5h0.8v0.8h-0.8zM139.7,240.4h0.8v0.8h-0.8zM141.5,247.4h0.8v0.8h-0.8zM153.9,240.6h0.8v0.8h-0.8zM152.4,249.6h0.8v0.8h-0.8zM145.1,253.7h0.8v0.8h-0.8zM139.1,247.7h0.8v0.8h-0.8zM145.6,237.0h0.8v0.8h-0.8zM141.6,236.7h0.8v0.8h-0.8zM150.3,247.7h0.8v0.8h-0.8zM147.9,251.9h0.8v0.8h-0.8zM143.0,238.3h0.8v0.8h-0.8zM153.0,240.2h0.8v0.8h-0.8zM153.6,241.3h0.8v0.8h-0.8zM140.8,241.1h0.8v0.8h-0.8zM148.8,237.2h0.8v0.8h-0.8zM149.9,239.6h0.8v0.8h-0.8zM140.3,249.6h0.8v0.8h-0.8zM150.9,249.3h0.8v0.8h-0.8zM146.5,235.7h0.8v0.8h-0.8zM153.8,247.4h0.8v0.8h-0.8zM151.1,244.0h0.8v0.8h-0.8zM150.5,249.6h0.8v0.8h-0.8zM142.7,239.1h0.8v0.8h-0.8zM149.3,236.8h0.8v0.8h-0.8zM152.3,245.9h0.8v0.8h-0.8zM150.3,238.2h0.8v0.8h-0.8zM152.5,238.9h0.8v0.8h-0.8zM140.0,245.9h0.8v0.8h-0.8zM145.3,237.1h0.8v0.8h-0.8zM151.4,241.7h0.8v0.8h-0.8zM149.6,252.7h0.8v0.8h-0.8zM152.3,250.7h0.8v0.8h-0.8zM148.6,250.4h0.8v0.8h-0.8zM149.8,250.9h0.8v0.8h-0.8zM150.5,242.0h0.8v0.8h-0.8zM146.5,252.3h0.8v0.8h-0.8zM152.3,240.2h0.8v0.8h-0.8zM139.8,237.8h0.8v0.8h-0.8zM153.0,243.0h0.8v0.8h-0.8zM141.8,243.2h0.8v0.8h-0.8zM150.1,238.8h0.8v0.8h-0.8zM152.1,240.4h0.8v0.8h-0.8zM148.4,238.0h0.8v0.8h-0.8zM147.0,250.2h0.8v0.8h-0.8zM139.0,246.4h0.8v0.8h-0.8zM149.9,242.1h0.8v0.8h-0.8zM149.6,250.3h0.8v0.8h-0.8zM142.3,247.9h0.8v0.8h-0.8zM150.1,251.8h0.8v0.8h-0.8zM139.1,244.8h0.8v0.8h-0.8zM145.9,250.9h0.8v0.8h-0.8zM147.1,235.7h0.8v0.8h-0.8zM140.0,239.7h0.8v0.8h-0.8zM140.8,251.6h0.8v0.8h-0.8zM153.3,242.3h0.8v0.8h-0.8zM141.0,240.7h0.8v0.8h-0.8zM151.7,243.1h0.8v0.8h-0.8zM143.6,252.3h0.8v0.8h-0.8zM153.0,245.8h0.8v0.8h-0.8zM145.0,252.4h0.8v0.8h-0.8zM143.8,240.8h0.8v0.8h-0.8zM144.4,238.4h0.8v0.8h-0.8zM141.4,251.4h0.8v0.8h-0.8zM140.8,242.5h0.8v0.8h-0.8zM150.3,239.0h0.8v0.8h-0.8zM142.2,240.4h0.8v0.8h-0.8zM144.3,252.5h0.8v0.8h-0.8zM152.6,243.1h0.8v0.8h-0.8zM153.7,248.0h0.8v0.8h-0.8zM148.3,251.8h0.8v0.8h-0.8zM138.5,244.0h0.8v0.8h-0.8zM142.7,236.4h0.8v0.8h-0.8zM142.7,234.4h0.8v0.8h-0.8zM144.4,239.0h0.8v0.8h-0.8zM145.0,236.6h0.8v0.8h-0.8zM140.8,247.8h0.8v0.8h-0.8zM152.2,243.0h0.8v0.8h-0.8zM154.2,244.9h0.8v0.8h-0.8zM139.9,248.9h0.8v0.8h-0.8zM149.0,238.4h0.8v0.8h-0.8zM153.1,245.0h0.8v0.8h-0.8zM150.0,237.2h0.8v0.8h-0.8zM152.3,249.4h0.8v0.8h-0.8zM150.9,239.5h0.8v0.8h-0.8zM141.4,243.8h0.8v0.8h-0.8zM139.0,250.2h0.8v0.8h-0.8zM143.8,235.3h0.8v0.8h-0.8zM153.7,243.4h0.8v0.8h-0.8zM151.4,249.2h0.8v0.8h-0.8zM149.8,249.7h0.8v0.8h-0.8zM143.3,249.0h0.8v0.8h-0.8zM150.5,244.2h0.8v0.8h-0.8zM151.7,244.1h0.8v0.8h-0.8zM149.3,249.8h0.8v0.8h-0.8zM145.7,237.9h0.8v0.8h-0.8zM151.4,240.1h0.8v0.8h-0.8zM146.3,252.4h0.8v0.8h-0.8zM150.6,251.0h0.8v0.8h-0.8zM140.9,240.3h0.8v0.8h-0.8zM140.7,244.3h0.8v0.8h-0.8zM141.7,241.5h0.8v0.8h-0.8zM140.8,242.5h0.8v0.8h-0.8zM154.0,245.2h0.8v0.8h-0.8zM147.1,252.4h0.8v0.8h-0.8zM146.8,236.7h0.8v0.8h-0.8zM147.0,254.2h0.8v0.8h-0.8zM150.9,247.9h0.8v0.8h-0.8zM143.1,251.1h0.8v0.8h-0.8zM147.1,236.5h0.8v0.8h-0.8zM150.6,236.3h0.8v0.8h-0.8zM142.8,245.8h0.8v0.8h-0.8zM141.5,239.8h0.8v0.8h-0.8zM149.4,251.7h0.8v0.8h-0.8zM143.3,251.2h0.8v0.8h-0.8zM151.3,248.0h0.8v0.8h-0.8zM144.5,250.6h0.8v0.8h-0.8zM139.3,243.8h0.8v0.8h-0.8zM149.9,250.4h0.8v0.8h-0.8zM144.7,250.4h0.8v0.8h-0.8zM144.2,234.8h0.8v0.8h-0.8zM140.6,247.8h0.8v0.8h-0.8zM151.3,249.9h0.8v0.8h-0.8zM150.0,238.5h0.8v0.8h-0.8zM142.3,239.4h0.8v0.8h-0.8zM151.5,246.7h0.8v0.8h-0.8zM151.6,248.9h0.8v0.8h-0.8zM146.2,237.1h0.8v0.8h-0.8zM149.0,249.8h0.8v0.8h-0.8zM144.1,239.1h0.8v0.8h-0.8zM152.4,248.9h0.8v0.8h-0.8zM152.4,239.5h0.8v0.8h-0.8zM141.3,248.9h0.8v0.8h-0.8zM149.0,253.1h0.8v0.8h-0.8zM153.8,244.1h0.8v0.8h-0.8zM143.3,250.8h0.8v0.8h-0.8zM147.9,253.6h0.8v0.8h-0.8zM141.7,248.6h0.8v0.8h-0.8zM149.5,249.7h0.8v0.8h-0.8zM149.5,246.2h0.8v0.8h-0.8zM151.3,241.2h0.8v0.8h-0.8zM150.6,248.1h0.8v0.8h-0.8zM148.7,251.5h0.8v0.8h-0.8zM144.4,239.6h0.8v0.8h-0.8zM144.8,251.8h0.8v0.8h-0.8zM152.8,241.1h0.8v0.8h-0.8zM149.8,249.3h0.8v0.8h-0.8zM139.0,245.3h0.8v0.8h-0.8zM144.0,236.0h0.8v0.8h-0.8zM140.6,240.6h0.8v0.8h-0.8zM145.1,237.0h0.8v0.8h-0.8zM148.7,236.4h0.8v0.8h-0.8zM153.1,247.1h0.8v0.8h-0.8zM141.1,240.7h0.8v0.8h-0.8zM144.7,238.3h0.8v0.8h-0.8zM142.4,249.9h0.8v0.8h-0.8zM152.0,243.5h0.8v0.8h-0.8zM140.1,247.5h0.8v0.8h-0.8zM145.5,236.9h0.8v0.8h-0.8zM150.4,239.0h0.8v0.8h-0.8zM150.6,239.3h0.8v0.8h-0.8zM145.0,236.1h0.8v0.8h-0.8zM143.1,237.0h0.8v0.8h-0.8zM153.9,244.6h0.8v0.8h-0.8zM151.2,238.8h0.8v0.8h-0.8zM151.9,244.3h0.8v0.8h-0.8zM148.4,234.7h0.8v0.8h-0.8zM149.1,240.7h0.8v0.8h-0.8zM143.5,239.7h0.8v0.8h-0.8zM151.9,242.2h0.8v0.8h-0.8zM140.4,243.5h0.8v0.8h-0.8zM140.7,245.1h0.8v0.8h-0.8zM139.2,243.8h0.8v0.8h-0.8zM140.9,240.3h0.8v0.8h-0.8zM139.2,244.2h0.8v0.8h-0.8zM141.5,244.3h0.8v0.8h-0.8zM149.3,252.2h0.8v0.8h-0.8zM140.5,243.0h0.8v0.8h-0.8zM144.1,235.2h0.8v0.8h-0.8zM147.6,237.8h0.8v0.8h-0.8zM152.1,241.0h0.8v0.8h-0.8zM140.8,243.9h0.8v0.8h-0.8zM140.7,249.2h0.8v0.8h-0.8zM144.7,236.5h0.8v0.8h-0.8zM145.9,238.1h0.8v0.8h-0.8zM147.7,250.8h0.8v0.8h-0.8zM144.2,251.8h0.8v0.8h-0.8zM142.4,250.3h0.8v0.8h-0.8zM147.7,249.9h0.8v0.8h-0.8zM147.2,252.3h0.8v0.8h-0.8zM144.4,239.1h0.8v0.8h-0.8zM142.5,238.9h0.8v0.8h-0.8zM151.7,246.9h0.8v0.8h-0.8zM140.6,252.5h0.8v0.8h-0.8zM139.6,243.1h0.8v0.8h-0.8zM142.5,235.9h0.8v0.8h-0.8zM147.3,251.5h0.8v0.8h-0.8zM142.4,252.3h0.8v0.8h-0.8zM145.9,235.5h0.8v0.8h-0.8zM140.7,244.9h0.8v0.8h-0.8zM139.5,245.1h0.8v0.8h-0.8zM144.6,235.2h0.8v0.8h-0.8zM149.9,239.8h0.8v0.8h-0.8zM141.4,246.9h0.8v0.8h-0.8zM153.3,243.1h0.8v0.8h-0.8zM149.3,251.8h0.8v0.8h-0.8zM152.8,240.4h0.8v0.8h-0.8zM149.7,239.2h0.8v0.8h-0.8zM152.9,238.3h0.8v0.8h-0.8zM140.1,248.1h0.8v0.8h-0.8zM140.7,251.1h0.8v0.8h-0.8zM151.9,250.3h0.8v0.8h-0.8zM141.9,248.5h0.8v0.8h-0.8zM141.2,240.1h0.8v0.8h-0.8zM141.4,249.4h0.8v0.8h-0.8zM141.1,250.4h0.8v0.8h-0.8zM147.0,236.7h0.8v0.8h-0.8zM143.6,250.4h0.8v0.8h-0.8zM148.4,250.0h0.8v0.8h-0.8zM152.1,245.3h0.8v0.8h-0.8zM145.1,250.3h0.8v0.8h-0.8zM148.9,253.2h0.8v0.8h-0.8zM147.0,249.9h0.8v0.8h-0.8zM141.8,241.0h0.8v0.8h-0.8zM152.3,246.0h0.8v0.8h-0.8zM144.0,250.3h0.8v0.8h-0.8zM141.3,244.0h0.8v0.8h-0.8zM151.3,249.8h0.8v0.8h-0.8zM140.1,248.7h0.8v0.8h-0.8zM142.0,250.5h0.8v0.8h-0.8zM152.6,243.8h0.8v0.8h-0.8zM146.9,252.5h0.8v0.8h-0.8zM141.6,240.8h0.8v0.8h-0.8zM140.5,251.1h0.8v0.8h-0.8zM149.0,236.9h0.8v0.8h-0.8zM145.7,252.2h0.8v0.8h-0.8zM151.6,243.9h0.8v0.8h-0.8zM152.0,246.7h0.8v0.8h-0.8zM141.6,238.6h0.8v0.8h-0.8zM147.8,236.1h0.8v0.8h-0.8zM142.5,248.5h0.8v0.8h-0.8zM148.7,236.5h0.8v0.8h-0.8zM146.6,236.2h0.8v0.8h-0.8zM140.1,247.4h0.8v0.8h-0.8zM140.3,246.2h0.8v0.8h-0.8zM148.1,252.3h0.8v0.8h-0.8zM151.9,248.5h0.8v0.8h-0.8zM143.0,249.0h0.8v0.8h-0.8zM144.8,252.3h0.8v0.8h-0.8zM145.5,240.3h0.8v0.8h-0.8zM149.5,250.7h0.8v0.8h-0.8zM141.2,244.0h0.8v0.8h-0.8zM150.6,238.5h0.8v0.8h-0.8zM148.3,252.5h0.8v0.8h-0.8zM143.6,250.3h0.8v0.8h-0.8zM142.3,240.0h0.8v0.8h-0.8zM151.7,248.1h0.8v0.8h-0.8zM152.3,242.4h0.8v0.8h-0.8zM142.7,237.7h0.8v0.8h-0.8zM140.7,243.0h0.8v0.8h-0.8zM150.6,237.3h0.8v0.8h-0.8zM144.4,248.7h0.8v0.8h-0.8zM141.5,251.4h0.8v0.8h-0.8zM140.6,249.3h0.8v0.8h-0.8zM142.5,236.6h0.8v0.8h-0.8zM141.1,246.7h0.8v0.8h-0.8zM148.2,236.6h0.8v0.8h-0.8zM139.8,246.6h0.8v0.8h-0.8zM145.9,237.8h0.8v0.8h-0.8zM153.3,245.9h0.8v0.8h-0.8zM142.7,234.8h0.8v0.8h-0.8zM144.2,238.8h0.8v0.8h-0.8zM148.6,251.6h0.8v0.8h-0.8zM149.0,250.1h0.8v0.8h-0.8zM146.2,250.5h0.8v0.8h-0.8zM141.9,237.6h0.8v0.8h-0.8zM150.1,252.2h0.8v0.8h-0.8zM140.7,244.0h0.8v0.8h-0.8zM151.6,251.1h0.8v0.8h-0.8zM140.6,245.1h0.8v0.8h-0.8zM144.3,251.1h0.8v0.8h-0.8zM144.4,239.0h0.8v0.8h-0.8zM147.6,237.4h0.8v0.8h-0.8zM140.5,241.0h0.8v0.8h-0.8zM150.2,236.6h0.8v0.8h-0.8zM140.6,241.3h0.8v0.8h-0.8zM141.4,246.5h0.8v0.8h-0.8zM153.5,242.8h0.8v0.8h-0.8zM150.4,248.1h0.8v0.8h-0.8zM139.7,237.7h0.8v0.8h-0.8zM153.3,243.0h0.8v0.8h-0.8zM145.7,237.1h0.8v0.8h-0.8zM150.3,253.3h0.8v0.8h-0.8zM149.4,237.9h0.8v0.8h-0.8zM151.4,239.6h0.8v0.8h-0.8zM139.8,247.5h0.8v0.8h-0.8zM141.7,243.2h0.8v0.8h-0.8zM151.1,238.1h0.8v0.8h-0.8zM141.9,252.9h0.8v0.8h-0.8zM152.6,245.6h0.8v0.8h-0.8zM152.6,247.9h0.8v0.8h-0.8zM141.6,238.7h0.8v0.8h-0.8zM144.7,252.2h0.8v0.8h-0.8zM145.0,254.1h0.8v0.8h-0.8zM150.1,239.8h0.8v0.8h-0.8zM151.0,244.0h0.8v0.8h-0.8zM145.1,252.6h0.8v0.8h-0.8zM152.8,240.7h0.8v0.8h-0.8zM147.2,250.2h0.8v0.8h-0.8zM152.9,249.3h0.8v0.8h-0.8zM142.1,239.9h0.8v0.8h-0.8zM151.3,237.7h0.8v0.8h-0.8zM138.9,246.4h0.8v0.8h-0.8zM147.8,237.7h0.8v0.8h-0.8zM152.9,242.3h0.8v0.8h-0.8zM145.3,251.8h0.8v0.8h-0.8zM146.6,249.8h0.8v0.8h-0.8zM144.5,237.9h0.8v0.8h-0.8zM147.9,252.3h0.8v0.8h-0.8zM151.8,242.5h0.8v0.8h-0.8zM139.1,244.3h0.8v0.8h-0.8zM152.9,245.7h0.8v0.8h-0.8zM149.7,240.4h0.8v0.8h-0.8zM142.4,250.6h0.8v0.8h-0.8zM145.7,235.8h0.8v0.8h-0.8zM143.6,239.0h0.8v0.8h-0.8zM150.6,251.3h0.8v0.8h-0.8zM150.9,241.4h0.8v0.8h-0.8zM148.0,236.8h0.8v0.8h-0.8zM148.5,251.4h0.8v0.8h-0.8zM148.6,238.4h0.8v0.8h-0.8zM151.6,248.5h0.8v0.8h-0.8zM138.6,245.4h0.8v0.8h-0.8zM142.4,249.2h0.8v0.8h-0.8zM140.9,247.2h0.8v0.8h-0.8zM153.2,244.5h0.8v0.8h-0.8zM149.2,238.5h0.8v0.8h-0.8zM141.6,242.4h0.8v0.8h-0.8zM150.4,249.1h0.8v0.8h-0.8zM147.5,237.5h0.8v0.8h-0.8zM148.4,234.8h0.8v0.8h-0.8zM143.5,237.1h0.8v0.8h-0.8zM144.0,238.7h0.8v0.8h-0.8zM152.8,242.1h0.8v0.8h-0.8zM140.6,248.7h0.8v0.8h-0.8zM139.6,243.9h0.8v0.8h-0.8zM151.2,238.2h0.8v0.8h-0.8zM141.3,249.6h0.8v0.8h-0.8zM140.3,240.6h0.8v0.8h-0.8zM148.4,250.1h0.8v0.8h-0.8zM140.4,247.3h0.8v0.8h-0.8zM140.0,244.2h0.8v0.8h-0.8zM152.1,241.2h0.8v0.8h-0.8zM149.1,253.5h0.8v0.8h-0.8zM140.3,241.0h0.8v0.8h-0.8zM139.9,242.5h0.8v0.8h-0.8zM143.6,253.4h0.8v0.8h-0.8zM145.5,236.7h0.8v0.8h-0.8zM141.8,237.1h0.8v0.8h-0.8zM142.4,249.6h0.8v0.8h-0.8zM142.5,238.4h0.8v0.8h-0.8zM143.9,236.5h0.8v0.8h-0.8z" fill="#000" fill-opacity="1"/>
<path d="M153.2,249.9h0.8v0.8h-0.8zM144.2,252.4h0.8v0.8h-0.8zM136.7,251.6h0.8v0.8h-0.8zM148.4,251.5h0.8v0.8h-0.8zM149.3,252.2h0.8v0.8h-0.8zM150.6,250.0h0.8v0.8h-0.8zM152.1,247.9h0.8v0.8h-0.8zM148.4,250.8h0.8v0.8h-0.8zM137.7,251.2h0.8v0.8h-0.8zM149.8,252.0h0.8v0.8h-0.8zM147.3,252.6h0.8v0.8h-0.8zM152.8,251.4h0.8v0.8h-0.8zM148.6,250.1h0.8v0.8h-0.8zM140.8,252.0h0.8v0.8h-0.8zM144.5,249.7h0.8v0.8h-0.8zM149.2,252.5h0.8v0.8h-0.8zM144.7,247.8h0.8v0.8h-0.8zM149.3,250.5h0.8v0.8h-0.8zM147.6,246.1h0.8v0.8h-0.8zM154.0,247.3h0.8v0.8h-0.8zM151.8,247.7h0.8v0.8h-0.8zM144.6,248.5h0.8v0.8h-0.8zM142.8,251.9h0.8v0.8h-0.8zM149.8,254.5h0.8v0.8h-0.8zM147.7,247.1h0.8v0.8h-0.8zM138.5,248.9h0.8v0.8h-0.8zM147.6,248.9h0.8v0.8h-0.8zM156.0,249.8h0.8v0.8h-0.8zM143.0,248.0h0.8v0.8h-0.8zM140.1,249.7h0.8v0.8h-0.8zM145.9,248.2h0.8v0.8h-0.8zM148.9,248.4h0.8v0.8h-0.8zM143.9,252.3h0.8v0.8h-0.8zM153.4,249.1h0.8v0.8h-0.8zM157.3,249.1h0.8v0.8h-0.8zM154.1,250.4h0.8v0.8h-0.8zM144.2,249.9h0.8v0.8h-0.8zM144.8,250.5h0.8v0.8h-0.8zM146.5,249.7h0.8v0.8h-0.8zM141.3,250.9h0.8v0.8h-0.8zM152.4,247.7h0.8v0.8h-0.8zM146.9,251.9h0.8v0.8h-0.8zM152.1,248.2h0.8v0.8h-0.8zM151.3,250.8h0.8v0.8h-0.8zM154.8,251.1h0.8v0.8h-0.8zM141.8,250.1h0.8v0.8h-0.8zM142.2,250.5h0.8v0.8h-0.8zM150.8,250.7h0.8v0.8h-0.8zM153.2,250.1h0.8v0.8h-0.8zM142.2,251.5h0.8v0.8h-0.8zM153.4,251.3h0.8v0.8h-0.8zM144.3,247.9h0.8v0.8h-0.8zM144.7,252.3h0.8v0.8h-0.8zM148.4,251.6h0.8v0.8h-0.8zM144.4,247.0h0.8v0.8h-0.8zM142.1,254.6h0.8v0.8h-0.8zM152.3,251.4h0.8v0.8h-0.8zM150.2,249.9h0.8v0.8h-0.8zM145.8,249.2h0.8v0.8h-0.8zM149.2,249.6h0.8v0.8h-0.8zM147.2,250.9h0.8v0.8h-0.8zM150.5,250.8h0.8v0.8h-0.8zM148.3,250.9h0.8v0.8h-0.8zM153.8,252.7h0.8v0.8h-0.8zM155.4,248.5h0.8v0.8h-0.8zM149.3,250.2h0.8v0.8h-0.8zM149.9,254.3h0.8v0.8h-0.8zM155.3,247.5h0.8v0.8h-0.8zM151.4,250.7h0.8v0.8h-0.8zM144.9,253.1h0.8v0.8h-0.8zM150.6,247.0h0.8v0.8h-0.8zM142.0,249.6h0.8v0.8h-0.8zM153.9,250.9h0.8v0.8h-0.8zM152.9,249.4h0.8v0.8h-0.8zM154.8,249.5h0.8v0.8h-0.8zM151.6,249.4h0.8v0.8h-0.8zM145.0,250.8h0.8v0.8h-0.8zM140.3,250.1h0.8v0.8h-0.8zM149.9,247.4h0.8v0.8h-0.8zM146.6,249.6h0.8v0.8h-0.8zM141.3,246.0h0.8v0.8h-0.8zM153.6,249.1h0.8v0.8h-0.8zM145.4,251.2h0.8v0.8h-0.8zM139.4,252.2h0.8v0.8h-0.8zM138.3,249.2h0.8v0.8h-0.8zM146.1,250.9h0.8v0.8h-0.8zM144.2,249.8h0.8v0.8h-0.8zM155.3,250.8h0.8v0.8h-0.8zM153.3,249.8h0.8v0.8h-0.8zM144.4,249.4h0.8v0.8h-0.8zM144.6,246.9h0.8v0.8h-0.8zM148.3,249.7h0.8v0.8h-0.8zM145.4,252.0h0.8v0.8h-0.8zM151.0,247.6h0.8v0.8h-0.8zM153.6,249.8h0.8v0.8h-0.8zM138.3,247.7h0.8v0.8h-0.8zM151.5,248.6h0.8v0.8h-0.8zM142.1,251.2h0.8v0.8h-0.8zM149.5,250.2h0.8v0.8h-0.8zM156.9,248.9h0.8v0.8h-0.8zM136.3,249.6h0.8v0.8h-0.8zM157.5,248.1h0.8v0.8h-0.8zM147.8,247.3h0.8v0.8h-0.8zM154.9,252.3h0.8v0.8h-0.8zM137.3,249.3h0.8v0.8h-0.8zM143.8,251.6h0.8v0.8h-0.8zM153.4,250.5h0.8v0.8h-0.8zM152.3,251.0h0.8v0.8h-0.8zM149.1,249.7h0.8v0.8h-0.8zM142.8,251.1h0.8v0.8h-0.8zM142.6,251.1h0.8v0.8h-0.8zM142.9,249.8h0.8v0.8h-0.8zM153.0,252.3h0.8v0.8h-0.8zM147.5,249.7h0.8v0.8h-0.8zM147.7,251.4h0.8v0.8h-0.8zM147.0,250.2h0.8v0.8h-0.8zM151.5,251.0h0.8v0.8h-0.8zM147.4,249.3h0.8v0.8h-0.8zM139.3,248.3h0.8v0.8h-0.8zM146.9,248.7h0.8v0.8h-0.8zM145.0,250.3h0.8v0.8h-0.8zM146.0,249.0h0.8v0.8h-0.8zM136.4,249.1h0.8v0.8h-0.8zM139.9,250.5h0.8v0.8h-0.8zM143.8,248.3h0.8v0.8h-0.8zM145.8,248.8h0.8v0.8h-0.8zM149.3,249.3h0.8v0.8h-0.8zM139.4,250.6h0.8v0.8h-0.8zM139.1,251.1h0.8v0.8h-0.8zM139.8,247.7h0.8v0.8h-0.8zM149.0,248.3h0.8v0.8h-0.8zM155.1,252.9h0.8v0.8h-0.8zM143.4,247.3h0.8v0.8h-0.8zM140.6,246.4h0.8v0.8h-0.8zM149.4,249.6h0.8v0.8h-0.8zM149.6,247.1h0.8v0.8h-0.8zM139.5,250.0h0.8v0.8h-0.8zM156.1,250.9h0.8v0.8h-0.8zM145.0,251.7h0.8v0.8h-0.8zM152.3,247.3h0.8v0.8h-0.8zM146.9,250.8h0.8v0.8h-0.8zM138.8,252.7h0.8v0.8h-0.8zM149.1,249.6h0.8v0.8h-0.8zM147.3,247.7h0.8v0.8h-0.8zM147.7,252.2h0.8v0.8h-0.8zM145.2,252.2h0.8v0.8h-0.8zM138.5,248.6h0.8v0.8h-0.8zM144.7,249.1h0.8v0.8h-0.8zM153.6,247.5h0.8v0.8h-0.8zM152.3,248.1h0.8v0.8h-0.8zM152.2,251.0h0.8v0.8h-0.8zM147.2,252.2h0.8v0.8h-0.8zM149.1,251.8h0.8v0.8h-0.8zM139.1,254.1h0.8v0.8h-0.8zM144.6,247.5h0.8v0.8h-0.8zM142.9,252.2h0.8v0.8h-0.8zM147.5,249.8h0.8v0.8h-0.8zM155.3,252.5h0.8v0.8h-0.8zM150.0,248.2h0.8v0.8h-0.8zM151.9,249.2h0.8v0.8h-0.8z" fill="#111" fill-opacity="1"/>
<ellipse cx="146.5" cy="244" rx="4.8" ry="5.9" fill="none" stroke="#111" stroke-width="1.4" stroke-opacity="0.8"/>
<path d="M146.5,240.2 Q149.6,240.6 149.4,244 Q149,247.5 146.5,248.6 Q143.8,247.5 143.6,244 Q143.5,240.6 146.5,240.2 Z" fill="#fff"/>
<path d="M134.4,273.5 L134.4,260 Q135,253.2 147.2,252.8 Q159.3,253.2 159.8,260 L159.9,273.5 Z" fill="#000"/>
<path d="M162.2,260.9h0.7v0.7h-0.7zM162.0,266.1h0.7v0.7h-0.7zM133.6,269.3h0.7v0.7h-0.7zM131.3,264.5h0.7v0.7h-0.7zM162.9,262.3h0.7v0.7h-0.7zM162.3,269.0h0.7v0.7h-0.7zM132.1,265.8h0.7v0.7h-0.7zM163.0,271.1h0.7v0.7h-0.7zM160.1,257.2h0.7v0.7h-0.7zM162.2,265.2h0.7v0.7h-0.7zM132.2,259.5h0.7v0.7h-0.7zM133.5,262.6h0.7v0.7h-0.7zM162.3,255.6h0.7v0.7h-0.7zM131.9,262.4h0.7v0.7h-0.7zM134.5,272.1h0.7v0.7h-0.7zM132.8,259.0h0.7v0.7h-0.7zM132.7,266.4h0.7v0.7h-0.7zM160.7,260.2h0.7v0.7h-0.7zM131.8,261.6h0.7v0.7h-0.7zM160.6,258.4h0.7v0.7h-0.7zM160.7,265.4h0.7v0.7h-0.7zM133.5,264.0h0.7v0.7h-0.7zM162.5,259.2h0.7v0.7h-0.7zM132.2,264.3h0.7v0.7h-0.7zM163.0,270.5h0.7v0.7h-0.7zM133.1,265.6h0.7v0.7h-0.7zM134.5,269.1h0.7v0.7h-0.7zM163.0,266.3h0.7v0.7h-0.7zM131.4,262.3h0.7v0.7h-0.7zM132.9,258.7h0.7v0.7h-0.7zM162.0,266.6h0.7v0.7h-0.7zM132.5,271.6h0.7v0.7h-0.7zM160.9,261.6h0.7v0.7h-0.7zM133.5,258.3h0.7v0.7h-0.7zM161.2,272.9h0.7v0.7h-0.7zM161.7,255.2h0.7v0.7h-0.7zM132.8,256.3h0.7v0.7h-0.7zM134.0,267.3h0.7v0.7h-0.7zM160.3,258.1h0.7v0.7h-0.7zM160.8,268.8h0.7v0.7h-0.7zM132.6,261.5h0.7v0.7h-0.7zM161.4,263.6h0.7v0.7h-0.7zM162.4,254.6h0.7v0.7h-0.7zM160.6,257.9h0.7v0.7h-0.7zM131.9,268.6h0.7v0.7h-0.7zM134.2,257.6h0.7v0.7h-0.7zM131.6,260.4h0.7v0.7h-0.7zM133.5,263.5h0.7v0.7h-0.7zM160.1,259.4h0.7v0.7h-0.7zM133.3,267.4h0.7v0.7h-0.7zM161.6,258.4h0.7v0.7h-0.7zM134.2,266.2h0.7v0.7h-0.7zM160.6,262.4h0.7v0.7h-0.7zM160.2,259.3h0.7v0.7h-0.7zM161.6,256.0h0.7v0.7h-0.7zM159.8,258.1h0.7v0.7h-0.7zM133.9,270.3h0.7v0.7h-0.7zM160.1,272.2h0.7v0.7h-0.7zM161.8,266.9h0.7v0.7h-0.7zM160.4,268.1h0.7v0.7h-0.7zM133.9,264.0h0.7v0.7h-0.7zM160.7,260.1h0.7v0.7h-0.7zM162.8,260.0h0.7v0.7h-0.7zM133.7,271.2h0.7v0.7h-0.7zM134.1,258.6h0.7v0.7h-0.7zM161.6,268.2h0.7v0.7h-0.7zM133.8,254.9h0.7v0.7h-0.7zM162.2,255.1h0.7v0.7h-0.7zM132.2,262.6h0.7v0.7h-0.7zM160.9,272.3h0.7v0.7h-0.7z" fill="#000" fill-opacity="1"/>
<path d="M136.7,273 L136.7,261 Q137.2,255.2 147.3,255.1 Q156.5,255.2 156.9,261 L156.9,273 Z" fill="#dcdcdc"/>
<ellipse cx="147.6" cy="263.5" rx="8" ry="7" fill="none" stroke="#999" stroke-width="0.7"/>
<ellipse cx="147.7" cy="263" rx="5.4" ry="4.8" fill="#aaa" stroke="#777" stroke-width="0.7"/>
<ellipse cx="147.8" cy="262.5" rx="2.8" ry="2.6" fill="#555"/>
<ellipse cx="147.8" cy="262.3" rx="1.1" ry="1.1" fill="#eee"/>
<line x1="104.3" y1="356.7" x2="105.6" y2="356.7" stroke="#000" stroke-width="0.6" />
<text x="104.0" y="359.4" font-size="4.6" text-anchor="end" fill="#222">10<tspan font-size="3.0" dy="-1.4">0</tspan></text>
<line x1="105.6" y1="356.7" x2="105.6" y2="358.0" stroke="#000" stroke-width="0.6" />
<text x="105.6" y="364.3" font-size="4.6" text-anchor="middle" fill="#222">10<tspan font-size="3.0" dy="-1.4">0</tspan></text>
<line x1="104.3" y1="340.175" x2="105.6" y2="340.175" stroke="#000" stroke-width="0.6" />
<text x="104.0" y="342.875" font-size="4.6" text-anchor="end" fill="#222">10<tspan font-size="3.0" dy="-1.4">1</tspan></text>
<line x1="121.82499999999999" y1="356.7" x2="121.82499999999999" y2="358.0" stroke="#000" stroke-width="0.6" />
<text x="121.82499999999999" y="364.3" font-size="4.6" text-anchor="middle" fill="#222">10<tspan font-size="3.0" dy="-1.4">1</tspan></text>
<line x1="104.3" y1="323.65" x2="105.6" y2="323.65" stroke="#000" stroke-width="0.6" />
<text x="104.0" y="326.34999999999997" font-size="4.6" text-anchor="end" fill="#222">10<tspan font-size="3.0" dy="-1.4">2</tspan></text>
<line x1="138.05" y1="356.7" x2="138.05" y2="358.0" stroke="#000" stroke-width="0.6" />
<text x="138.05" y="364.3" font-size="4.6" text-anchor="middle" fill="#222">10<tspan font-size="3.0" dy="-1.4">2</tspan></text>
<line x1="104.3" y1="307.125" x2="105.6" y2="307.125" stroke="#000" stroke-width="0.6" />
<text x="104.0" y="309.825" font-size="4.6" text-anchor="end" fill="#222">10<tspan font-size="3.0" dy="-1.4">3</tspan></text>
<line x1="154.275" y1="356.7" x2="154.275" y2="358.0" stroke="#000" stroke-width="0.6" />
<text x="154.275" y="364.3" font-size="4.6" text-anchor="middle" fill="#222">10<tspan font-size="3.0" dy="-1.4">3</tspan></text>
<line x1="104.3" y1="290.6" x2="105.6" y2="290.6" stroke="#000" stroke-width="0.6" />
<text x="104.0" y="293.3" font-size="4.6" text-anchor="end" fill="#222">10<tspan font-size="3.0" dy="-1.4">4</tspan></text>
<line x1="170.5" y1="356.7" x2="170.5" y2="358.0" stroke="#000" stroke-width="0.6" />
<text x="170.5" y="364.3" font-size="4.6" text-anchor="middle" fill="#222">10<tspan font-size="3.0" dy="-1.4">4</tspan></text>
<rect x="105.6" y="290.6" width="64.9" height="66.09999999999997" fill="none" stroke="#444" stroke-width="0.85"/>
<rect x="120.5" y="294.2" width="43.400000000000006" height="39.60000000000002" fill="none" stroke="#5a67a8" stroke-width="0.9"/>
<text x="160" y="301.3" font-size="6" font-weight="bold" text-anchor="end" fill="#222" >32.9</text>
<path d="M128.3,356.5 L128,325 Q127.6,307 131,302 Q134.5,299 139,300.5 L147.6,305.2 L149,314 L149.8,356.5 Z" fill="#d4d4d4" stroke="#999" stroke-width="0.5"/>
<path d="M129.8,356.5 L129.8,326 Q129.5,309 133,305 Q137,302.5 141,304.5 Q145.5,307 146.5,314 L148,356.5 Z" fill="#b4b4b4" stroke="#8a8a8a" stroke-width="0.4"/>
<path d="M131.3,356.5 L131.3,328 Q131.3,312 134.5,308.5 Q138.5,306.5 141.5,309 Q144.5,312 145,320 L146.5,356.5 Z" fill="#909090"/>
<path d="M134,335 L133.6,324 Q134,318 137.5,318 Q142.5,318.5 143,325 L143.6,335 Z" fill="#4a4a4a"/>
<ellipse cx="137.4" cy="316" rx="4.8" ry="6.2" fill="#2a2a2a"/>
<path d="M132.6,356.5 L132.6,343 Q133,336.5 139,336 Q145.2,336.5 145.6,343 L146,356.5 Z" fill="#121212"/>
<path d="M136.8,353.5 L136.8,343 Q137.3,338.2 140.3,338.1 Q143.4,338.4 143.6,343 L143.5,353.5 Z" fill="#777"/>
<ellipse cx="137.4" cy="315.2" rx="1.6" ry="2.4" fill="#f2f2f2"/>
<path d="M139.8,322 L140.6,334" stroke="#cfcfcf" stroke-width="1"/>
<path d="M140.3,341 L140.3,351" stroke="#eee" stroke-width="1.1"/>
<ellipse cx="139.5" cy="354.8" rx="2.6" ry="0.9" fill="#ddd"/>
<line x1="198.7" y1="357.0" x2="200" y2="357.0" stroke="#000" stroke-width="0.6" />
<text x="198.4" y="359.7" font-size="4.6" text-anchor="end" fill="#222">10<tspan font-size="3.0" dy="-1.4">0</tspan></text>
<line x1="200.0" y1="357" x2="200.0" y2="358.3" stroke="#000" stroke-width="0.6" />
<text x="200.0" y="364.6" font-size="4.6" text-anchor="middle" fill="#222">10<tspan font-size="3.0" dy="-1.4">0</tspan></text>
<line x1="198.7" y1="340.875" x2="200" y2="340.875" stroke="#000" stroke-width="0.6" />
<text x="198.4" y="343.575" font-size="4.6" text-anchor="end" fill="#222">10<tspan font-size="3.0" dy="-1.4">1</tspan></text>
<line x1="216.7" y1="357" x2="216.7" y2="358.3" stroke="#000" stroke-width="0.6" />
<text x="216.7" y="364.6" font-size="4.6" text-anchor="middle" fill="#222">10<tspan font-size="3.0" dy="-1.4">1</tspan></text>
<line x1="198.7" y1="324.75" x2="200" y2="324.75" stroke="#000" stroke-width="0.6" />
<text x="198.4" y="327.45" font-size="4.6" text-anchor="end" fill="#222">10<tspan font-size="3.0" dy="-1.4">2</tspan></text>
<line x1="233.4" y1="357" x2="233.4" y2="358.3" stroke="#000" stroke-width="0.6" />
<text x="233.4" y="364.6" font-size="4.6" text-anchor="middle" fill="#222">10<tspan font-size="3.0" dy="-1.4">2</tspan></text>
<line x1="198.7" y1="308.625" x2="200" y2="308.625" stroke="#000" stroke-width="0.6" />
<text x="198.4" y="311.325" font-size="4.6" text-anchor="end" fill="#222">10<tspan font-size="3.0" dy="-1.4">3</tspan></text>
<line x1="250.10000000000002" y1="357" x2="250.10000000000002" y2="358.3" stroke="#000" stroke-width="0.6" />
<text x="250.10000000000002" y="364.6" font-size="4.6" text-anchor="middle" fill="#222">10<tspan font-size="3.0" dy="-1.4">3</tspan></text>
<line x1="198.7" y1="292.5" x2="200" y2="292.5" stroke="#000" stroke-width="0.6" />
<text x="198.4" y="295.2" font-size="4.6" text-anchor="end" fill="#222">10<tspan font-size="3.0" dy="-1.4">4</tspan></text>
<line x1="266.8" y1="357" x2="266.8" y2="358.3" stroke="#000" stroke-width="0.6" />
<text x="266.8" y="364.6" font-size="4.6" text-anchor="middle" fill="#222">10<tspan font-size="3.0" dy="-1.4">4</tspan></text>
<rect x="200" y="292.5" width="66.80000000000001" height="64.5" fill="none" stroke="#444" stroke-width="0.85"/>
<line x1="225.8" y1="292.5" x2="225.8" y2="357" stroke="#5a67a8" stroke-width="0.8" />
<line x1="200" y1="323.8" x2="266.8" y2="323.8" stroke="#5a67a8" stroke-width="0.8" />
<text x="202.2" y="298" font-size="4.4" font-weight="normal" text-anchor="start" fill="#3f4f98" >50.5</text>
<text x="265" y="298" font-size="4.4" font-weight="normal" text-anchor="end" fill="#3f4f98" >1.75</text>
<text x="202.2" y="356" font-size="4.4" font-weight="normal" text-anchor="start" fill="#3f4f98" >0.877</text>
<text x="265" y="356" font-size="4.4" font-weight="normal" text-anchor="end" fill="#3f4f98" >46.5</text>
<path d="M203,316 Q203.5,309 209,306.8 Q215,305 221,306.5 Q226,308.5 226.5,314 Q227,321 222,324 Q216,326 209,324.5 Q203,322.5 203,316 Z" fill="#0c0c0c"/>
<ellipse cx="227.6" cy="314.5" rx="2.2" ry="3.6" fill="none" stroke="#111" stroke-width="0.8"/>
<ellipse cx="214.5" cy="314.5" rx="5" ry="2.6" fill="none" stroke="#555" stroke-width="0.6"/>
<ellipse cx="215" cy="314.2" rx="2" ry="1.1" fill="#777"/>
<path d="M225.6,357 C224.2,345 225.5,335.0 229.5,328.0 C231.8,323.0 234.0,320.6 236,320.8 C238.5,321.0 240.0,323.0 241.2,326.0 C244.2,330.0 246.0,337 245.6,345 L245.2,357" fill="none" stroke="#1a1a1a" stroke-width="0.6"/>
<path d="M226.9,357 C225.5,345 226.8,335.65 230.54,329.3 C232.45000000000002,324.3 234.39,321.90000000000003 236,322.1 C238.24,322.3 239.61,324.3 240.81,327.04 C243.67999999999998,330.78 245.22,337 244.95,345 L244.54999999999998,357" fill="none" stroke="#1a1a1a" stroke-width="0.6"/>
<path d="M228.2,357 C226.79999999999998,345 228.1,336.3 231.58,330.6 C233.10000000000002,325.6 234.78,323.20000000000005 236,323.40000000000003 C237.98,323.6 239.22,325.6 240.42,328.08 C243.16,331.56 244.44,337 244.29999999999998,345 L243.89999999999998,357" fill="none" stroke="#1a1a1a" stroke-width="0.6"/>
<path d="M229.5,357 C228.1,345 229.4,336.95 232.62,331.9 C233.75,326.9 235.17,324.5 236,324.7 C237.72,324.9 238.83,326.9 240.03,329.12 C242.64,332.34 243.66,337 243.65,345 L243.25,357" fill="none" stroke="#1a1a1a" stroke-width="0.6"/>
<path d="M230.79999999999998,357 C229.39999999999998,345 230.7,337.6 233.66,333.2 C234.4,328.2 235.56,325.8 236,326.0 C237.46,326.2 238.44,328.2 239.64,330.16 C242.11999999999998,333.12 242.88,337 243.0,345 L242.6,357" fill="none" stroke="#1a1a1a" stroke-width="0.6"/>
<path d="M231.6,357 C231.2,347 232,337.5 234.3,332 C236.5,328.6 240.8,329.2 242.6,333 C244.3,338 244.4,347 244,357 Z" fill="#101010"/>
<path d="M233,330.5 C232.6,327 234.2,324.5 236,324.6 C237.8,324.8 238.8,327.2 238.2,330" fill="none" stroke="#111" stroke-width="1.1"/>
<ellipse cx="235.2" cy="333" rx="1.2" ry="1.6" fill="#bbb"/>
<ellipse cx="237.8" cy="341.5" rx="1" ry="2.6" fill="#999"/>
<path d="M223.5,357.4 Q226,352.5 235,352.3 Q245,352.5 247.2,357.4 Z" fill="#0c0c0c"/>
<line x1="164.6" y1="304" x2="183.0" y2="304" stroke="#000" stroke-width="2.1" />
<polyline points="178.0,300.9 183.2,304 178.0,307.1" fill="none" stroke="#000" stroke-width="2.1" stroke-linejoin="miter"/>
<line x1="188" y1="292.4" x2="188" y2="371.8" stroke="#000" stroke-width="2.1" />
<polyline points="184.9,297.4 188,292.2 191.1,297.4" fill="none" stroke="#000" stroke-width="2.1" stroke-linejoin="miter"/>
<line x1="187" y1="370.8" x2="258.5" y2="370.8" stroke="#000" stroke-width="2.1" />
<polyline points="253.5,367.7 258.7,370.8 253.5,373.90000000000003" fill="none" stroke="#000" stroke-width="2.1" stroke-linejoin="miter"/>
<text transform="translate(180.1,330) rotate(-90)" x="0" y="0" font-size="10.2" font-weight="bold" text-anchor="middle" dominant-baseline="central" textLength="21" lengthAdjust="spacingAndGlyphs" stroke="#000" stroke-width="0.3">CD4+</text>
<text x="228.7" y="381.6" font-size="10.2" font-weight="bold" text-anchor="middle" fill="#000" textLength="25.4" lengthAdjust="spacingAndGlyphs" stroke="#000" stroke-width="0.3">CD8+</text>
<line x1="317.3" y1="193.6" x2="499.9" y2="193.6" stroke="#000" stroke-width="2" />
<text x="406.5" y="189.6" font-size="7.6" font-weight="bold" text-anchor="middle" fill="#000" textLength="19.7" lengthAdjust="spacingAndGlyphs" stroke="#000" stroke-width="0.15">CLL-8</text>
<text x="406" y="205.1" font-size="8" font-weight="bold" text-anchor="middle" fill="#000" textLength="17.3" lengthAdjust="spacingAndGlyphs" stroke="#000" stroke-width="0.15">wk 5</text>
<line x1="315.1" y1="216.2" x2="315.1" y2="288.4" stroke="#000" stroke-width="2.1" />
<polyline points="312.0,221.2 315.1,216 318.20000000000005,221.2" fill="none" stroke="#000" stroke-width="2.1" stroke-linejoin="miter"/>
<line x1="314.1" y1="287.4" x2="496.40000000000003" y2="287.4" stroke="#000" stroke-width="2.1" />
<polyline points="491.40000000000003,284.29999999999995 496.6,287.4 491.40000000000003,290.5" fill="none" stroke="#000" stroke-width="2.1" stroke-linejoin="miter"/>
<text transform="translate(307.1,252.3) rotate(-90)" x="0" y="0" font-size="10.3" font-weight="bold" text-anchor="middle" dominant-baseline="central" textLength="25.3" lengthAdjust="spacingAndGlyphs" stroke="#000" stroke-width="0.3">CAR+</text>
<text x="413" y="299.8" font-size="10.6" font-weight="bold" text-anchor="middle" fill="#000" textLength="25" lengthAdjust="spacingAndGlyphs" stroke="#000" stroke-width="0.3">CD3+</text>
<rect x="330.3" y="212.5" width="66.19999999999999" height="64.5" fill="none" stroke="#333" stroke-width="0.8"/>
<rect x="346.4" y="214" width="41.400000000000034" height="26.80000000000001" fill="none" stroke="#5a67a8" stroke-width="0.8"/>
<text x="386.5" y="218.8" font-size="4.4" font-weight="normal" text-anchor="end" fill="#3f4f98" >0.110</text>
<path d="M365.7,241.7h0.6v0.6h-0.6zM364.1,231.9h0.6v0.6h-0.6zM361.7,240.0h0.6v0.6h-0.6zM374.6,231.2h0.6v0.6h-0.6zM367.4,242.3h0.6v0.6h-0.6zM370.3,246.1h0.6v0.6h-0.6zM383.2,236.0h0.6v0.6h-0.6zM373.5,235.2h0.6v0.6h-0.6zM377.4,232.3h0.6v0.6h-0.6zM361.3,236.0h0.6v0.6h-0.6zM367.5,230.0h0.6v0.6h-0.6zM372.1,234.3h0.6v0.6h-0.6zM361.2,240.6h0.6v0.6h-0.6zM372.3,241.6h0.6v0.6h-0.6zM381.1,241.7h0.6v0.6h-0.6zM365.4,239.4h0.6v0.6h-0.6zM360.5,234.4h0.6v0.6h-0.6zM366.0,241.8h0.6v0.6h-0.6zM362.4,233.4h0.6v0.6h-0.6zM368.4,244.3h0.6v0.6h-0.6zM362.7,248.2h0.6v0.6h-0.6zM369.7,243.8h0.6v0.6h-0.6zM360.1,232.2h0.6v0.6h-0.6zM372.7,233.4h0.6v0.6h-0.6zM366.9,243.4h0.6v0.6h-0.6zM360.4,235.9h0.6v0.6h-0.6zM380.4,240.0h0.6v0.6h-0.6zM363.6,233.0h0.6v0.6h-0.6zM369.9,239.1h0.6v0.6h-0.6zM374.5,239.4h0.6v0.6h-0.6zM362.8,240.4h0.6v0.6h-0.6zM369.7,235.1h0.6v0.6h-0.6zM369.1,243.6h0.6v0.6h-0.6zM365.7,231.8h0.6v0.6h-0.6zM374.1,243.9h0.6v0.6h-0.6zM374.7,241.2h0.6v0.6h-0.6zM361.6,234.2h0.6v0.6h-0.6zM367.1,237.7h0.6v0.6h-0.6zM363.7,239.3h0.6v0.6h-0.6zM358.8,234.1h0.6v0.6h-0.6zM359.8,244.7h0.6v0.6h-0.6zM366.3,249.0h0.6v0.6h-0.6zM373.5,239.3h0.6v0.6h-0.6zM365.9,242.2h0.6v0.6h-0.6zM381.2,234.5h0.6v0.6h-0.6zM360.7,242.6h0.6v0.6h-0.6zM388.6,243.2h0.6v0.6h-0.6zM359.7,239.0h0.6v0.6h-0.6zM369.3,247.4h0.6v0.6h-0.6zM378.9,241.2h0.6v0.6h-0.6zM364.7,238.2h0.6v0.6h-0.6zM368.5,230.2h0.6v0.6h-0.6zM349.7,232.6h0.6v0.6h-0.6zM366.8,244.2h0.6v0.6h-0.6zM375.1,240.5h0.6v0.6h-0.6zM359.4,240.1h0.6v0.6h-0.6zM376.5,237.0h0.6v0.6h-0.6zM359.3,242.0h0.6v0.6h-0.6zM362.3,239.1h0.6v0.6h-0.6zM380.0,238.6h0.6v0.6h-0.6zM372.2,244.7h0.6v0.6h-0.6zM383.4,242.6h0.6v0.6h-0.6zM371.2,243.5h0.6v0.6h-0.6zM376.1,244.4h0.6v0.6h-0.6zM356.6,235.0h0.6v0.6h-0.6zM365.4,234.9h0.6v0.6h-0.6zM353.3,233.8h0.6v0.6h-0.6zM372.7,243.3h0.6v0.6h-0.6zM360.7,238.5h0.6v0.6h-0.6zM371.3,243.3h0.6v0.6h-0.6zM381.8,242.0h0.6v0.6h-0.6zM370.0,244.4h0.6v0.6h-0.6zM386.7,231.3h0.6v0.6h-0.6zM364.6,236.2h0.6v0.6h-0.6zM363.8,227.9h0.6v0.6h-0.6zM361.5,242.1h0.6v0.6h-0.6zM360.2,238.7h0.6v0.6h-0.6zM382.9,236.6h0.6v0.6h-0.6zM357.3,234.9h0.6v0.6h-0.6zM360.7,234.7h0.6v0.6h-0.6zM378.0,238.0h0.6v0.6h-0.6zM365.5,237.5h0.6v0.6h-0.6zM383.0,237.1h0.6v0.6h-0.6zM380.4,245.7h0.6v0.6h-0.6zM388.1,248.0h0.6v0.6h-0.6zM366.7,238.1h0.6v0.6h-0.6zM375.8,243.3h0.6v0.6h-0.6zM369.4,239.9h0.6v0.6h-0.6zM378.7,237.6h0.6v0.6h-0.6zM353.7,237.4h0.6v0.6h-0.6zM375.8,229.3h0.6v0.6h-0.6zM365.2,242.7h0.6v0.6h-0.6zM363.7,235.0h0.6v0.6h-0.6zM379.0,243.2h0.6v0.6h-0.6zM355.3,236.0h0.6v0.6h-0.6zM382.2,241.0h0.6v0.6h-0.6zM374.0,239.8h0.6v0.6h-0.6zM369.2,246.4h0.6v0.6h-0.6zM383.1,238.0h0.6v0.6h-0.6zM363.0,237.1h0.6v0.6h-0.6zM353.8,245.6h0.6v0.6h-0.6zM368.3,244.3h0.6v0.6h-0.6zM376.6,239.5h0.6v0.6h-0.6zM359.0,237.4h0.6v0.6h-0.6zM374.7,245.9h0.6v0.6h-0.6zM365.2,237.3h0.6v0.6h-0.6zM372.2,236.9h0.6v0.6h-0.6zM369.0,229.1h0.6v0.6h-0.6zM371.3,241.8h0.6v0.6h-0.6zM367.2,242.8h0.6v0.6h-0.6zM358.1,239.1h0.6v0.6h-0.6zM367.2,238.0h0.6v0.6h-0.6zM365.0,236.0h0.6v0.6h-0.6zM363.2,240.9h0.6v0.6h-0.6zM386.7,235.0h0.6v0.6h-0.6zM357.3,245.9h0.6v0.6h-0.6zM367.5,238.1h0.6v0.6h-0.6zM369.9,244.6h0.6v0.6h-0.6zM371.7,243.3h0.6v0.6h-0.6zM361.6,236.7h0.6v0.6h-0.6zM364.9,235.8h0.6v0.6h-0.6zM379.1,241.1h0.6v0.6h-0.6zM366.6,243.6h0.6v0.6h-0.6zM366.8,239.7h0.6v0.6h-0.6zM361.5,240.2h0.6v0.6h-0.6zM372.3,246.9h0.6v0.6h-0.6zM361.3,237.5h0.6v0.6h-0.6zM369.8,236.0h0.6v0.6h-0.6zM373.7,243.9h0.6v0.6h-0.6zM378.6,238.2h0.6v0.6h-0.6zM371.6,238.3h0.6v0.6h-0.6zM350.5,237.2h0.6v0.6h-0.6zM382.8,246.5h0.6v0.6h-0.6zM366.3,242.6h0.6v0.6h-0.6zM371.3,241.3h0.6v0.6h-0.6zM352.5,239.9h0.6v0.6h-0.6zM375.0,235.7h0.6v0.6h-0.6zM367.8,244.2h0.6v0.6h-0.6zM387.0,234.4h0.6v0.6h-0.6zM364.6,240.6h0.6v0.6h-0.6zM370.1,227.8h0.6v0.6h-0.6zM364.0,244.5h0.6v0.6h-0.6zM371.4,238.9h0.6v0.6h-0.6zM354.7,238.6h0.6v0.6h-0.6zM367.8,242.5h0.6v0.6h-0.6zM367.5,245.4h0.6v0.6h-0.6zM371.3,234.9h0.6v0.6h-0.6zM382.8,226.8h0.6v0.6h-0.6zM372.6,231.2h0.6v0.6h-0.6zM360.7,243.9h0.6v0.6h-0.6zM376.6,244.8h0.6v0.6h-0.6zM360.5,228.9h0.6v0.6h-0.6zM362.6,245.9h0.6v0.6h-0.6zM368.7,239.0h0.6v0.6h-0.6zM372.7,236.7h0.6v0.6h-0.6zM370.3,240.2h0.6v0.6h-0.6zM366.9,246.4h0.6v0.6h-0.6zM370.0,243.6h0.6v0.6h-0.6zM373.2,239.6h0.6v0.6h-0.6zM364.7,243.1h0.6v0.6h-0.6zM365.9,240.6h0.6v0.6h-0.6zM348.6,244.1h0.6v0.6h-0.6zM366.2,244.2h0.6v0.6h-0.6zM369.0,245.4h0.6v0.6h-0.6zM381.1,235.7h0.6v0.6h-0.6zM379.5,240.9h0.6v0.6h-0.6zM369.8,235.8h0.6v0.6h-0.6zM374.2,238.5h0.6v0.6h-0.6zM388.3,234.3h0.6v0.6h-0.6zM375.3,241.7h0.6v0.6h-0.6zM355.4,237.0h0.6v0.6h-0.6zM363.2,241.9h0.6v0.6h-0.6zM369.6,232.1h0.6v0.6h-0.6zM366.2,245.9h0.6v0.6h-0.6zM365.1,244.1h0.6v0.6h-0.6zM365.4,248.2h0.6v0.6h-0.6zM372.4,238.6h0.6v0.6h-0.6zM385.7,235.0h0.6v0.6h-0.6zM360.4,235.0h0.6v0.6h-0.6zM383.0,248.2h0.6v0.6h-0.6zM371.1,233.7h0.6v0.6h-0.6zM384.6,234.4h0.6v0.6h-0.6zM368.7,245.1h0.6v0.6h-0.6zM366.0,241.4h0.6v0.6h-0.6zM384.0,239.0h0.6v0.6h-0.6zM348.7,235.4h0.6v0.6h-0.6zM358.3,235.9h0.6v0.6h-0.6zM369.8,243.8h0.6v0.6h-0.6zM367.9,236.1h0.6v0.6h-0.6zM370.3,238.6h0.6v0.6h-0.6zM375.2,238.9h0.6v0.6h-0.6zM368.3,232.0h0.6v0.6h-0.6zM363.9,243.6h0.6v0.6h-0.6zM355.5,239.9h0.6v0.6h-0.6zM358.9,239.7h0.6v0.6h-0.6zM365.3,245.0h0.6v0.6h-0.6zM363.3,232.2h0.6v0.6h-0.6zM374.9,238.1h0.6v0.6h-0.6zM358.1,239.3h0.6v0.6h-0.6zM373.4,241.0h0.6v0.6h-0.6zM374.4,230.9h0.6v0.6h-0.6zM376.7,245.2h0.6v0.6h-0.6zM377.1,248.7h0.6v0.6h-0.6zM366.4,233.8h0.6v0.6h-0.6zM369.7,238.4h0.6v0.6h-0.6zM383.7,241.4h0.6v0.6h-0.6zM374.4,247.0h0.6v0.6h-0.6zM363.0,239.2h0.6v0.6h-0.6zM360.3,239.1h0.6v0.6h-0.6zM358.1,230.8h0.6v0.6h-0.6zM376.2,245.6h0.6v0.6h-0.6zM366.0,248.7h0.6v0.6h-0.6zM366.4,248.8h0.6v0.6h-0.6zM350.4,237.8h0.6v0.6h-0.6zM356.9,246.7h0.6v0.6h-0.6zM376.1,243.4h0.6v0.6h-0.6zM377.1,237.1h0.6v0.6h-0.6zM387.3,237.9h0.6v0.6h-0.6zM352.4,231.9h0.6v0.6h-0.6zM371.9,240.2h0.6v0.6h-0.6zM350.6,237.0h0.6v0.6h-0.6zM362.9,233.9h0.6v0.6h-0.6zM354.7,247.6h0.6v0.6h-0.6zM368.5,238.7h0.6v0.6h-0.6zM351.7,243.4h0.6v0.6h-0.6zM376.7,237.4h0.6v0.6h-0.6zM372.0,236.1h0.6v0.6h-0.6zM355.4,238.7h0.6v0.6h-0.6zM367.7,245.6h0.6v0.6h-0.6zM370.3,239.0h0.6v0.6h-0.6zM374.2,239.7h0.6v0.6h-0.6zM387.4,247.8h0.6v0.6h-0.6zM365.8,227.6h0.6v0.6h-0.6zM378.2,233.0h0.6v0.6h-0.6zM377.0,240.5h0.6v0.6h-0.6zM362.9,231.2h0.6v0.6h-0.6zM377.2,245.0h0.6v0.6h-0.6zM367.6,236.8h0.6v0.6h-0.6zM367.3,232.3h0.6v0.6h-0.6zM363.8,238.1h0.6v0.6h-0.6zM377.2,241.2h0.6v0.6h-0.6zM363.6,238.0h0.6v0.6h-0.6zM360.4,243.2h0.6v0.6h-0.6zM365.8,239.1h0.6v0.6h-0.6zM381.9,241.0h0.6v0.6h-0.6zM360.3,232.2h0.6v0.6h-0.6zM369.1,235.0h0.6v0.6h-0.6zM357.2,236.2h0.6v0.6h-0.6zM384.7,240.9h0.6v0.6h-0.6zM371.5,239.7h0.6v0.6h-0.6zM366.7,241.9h0.6v0.6h-0.6zM363.9,230.4h0.6v0.6h-0.6zM373.2,234.7h0.6v0.6h-0.6zM367.7,239.5h0.6v0.6h-0.6zM375.0,244.0h0.6v0.6h-0.6zM347.1,241.7h0.6v0.6h-0.6zM371.7,235.3h0.6v0.6h-0.6zM358.2,232.2h0.6v0.6h-0.6zM367.2,232.5h0.6v0.6h-0.6zM368.7,243.6h0.6v0.6h-0.6zM369.8,233.8h0.6v0.6h-0.6zM357.1,247.5h0.6v0.6h-0.6zM369.4,237.1h0.6v0.6h-0.6zM354.4,239.0h0.6v0.6h-0.6zM382.4,239.0h0.6v0.6h-0.6zM360.3,230.5h0.6v0.6h-0.6zM374.0,224.8h0.6v0.6h-0.6zM371.1,244.9h0.6v0.6h-0.6zM359.0,230.8h0.6v0.6h-0.6zM351.4,242.5h0.6v0.6h-0.6zM362.3,235.2h0.6v0.6h-0.6zM381.9,239.4h0.6v0.6h-0.6zM358.7,242.9h0.6v0.6h-0.6zM368.8,243.8h0.6v0.6h-0.6zM362.3,244.1h0.6v0.6h-0.6zM352.4,244.0h0.6v0.6h-0.6zM368.3,240.8h0.6v0.6h-0.6zM361.6,234.3h0.6v0.6h-0.6zM366.4,239.9h0.6v0.6h-0.6zM383.6,232.8h0.6v0.6h-0.6zM376.2,237.9h0.6v0.6h-0.6zM386.6,229.9h0.6v0.6h-0.6zM373.2,243.6h0.6v0.6h-0.6zM369.2,241.0h0.6v0.6h-0.6zM379.3,237.2h0.6v0.6h-0.6zM383.7,237.5h0.6v0.6h-0.6zM365.2,225.5h0.6v0.6h-0.6zM363.1,246.1h0.6v0.6h-0.6zM366.6,248.6h0.6v0.6h-0.6zM358.5,246.4h0.6v0.6h-0.6zM369.8,227.9h0.6v0.6h-0.6zM361.4,240.9h0.6v0.6h-0.6zM362.6,240.8h0.6v0.6h-0.6zM377.4,232.6h0.6v0.6h-0.6zM379.6,245.6h0.6v0.6h-0.6zM372.2,239.3h0.6v0.6h-0.6zM377.2,236.7h0.6v0.6h-0.6zM364.0,240.4h0.6v0.6h-0.6zM370.3,247.5h0.6v0.6h-0.6zM359.9,234.1h0.6v0.6h-0.6zM360.2,240.6h0.6v0.6h-0.6zM362.5,231.3h0.6v0.6h-0.6zM348.1,232.4h0.6v0.6h-0.6zM372.7,231.5h0.6v0.6h-0.6zM370.0,238.4h0.6v0.6h-0.6zM364.6,241.3h0.6v0.6h-0.6zM381.0,238.8h0.6v0.6h-0.6zM385.8,239.5h0.6v0.6h-0.6zM378.5,243.0h0.6v0.6h-0.6zM373.9,240.9h0.6v0.6h-0.6zM362.7,246.7h0.6v0.6h-0.6zM373.4,241.0h0.6v0.6h-0.6zM355.3,237.6h0.6v0.6h-0.6zM375.4,236.7h0.6v0.6h-0.6zM358.7,244.7h0.6v0.6h-0.6zM374.3,240.0h0.6v0.6h-0.6zM374.1,239.9h0.6v0.6h-0.6zM362.8,230.4h0.6v0.6h-0.6zM365.8,240.5h0.6v0.6h-0.6zM359.9,242.7h0.6v0.6h-0.6zM356.5,243.1h0.6v0.6h-0.6zM371.8,235.2h0.6v0.6h-0.6zM364.2,240.4h0.6v0.6h-0.6zM373.2,231.6h0.6v0.6h-0.6zM371.8,233.5h0.6v0.6h-0.6zM367.8,241.2h0.6v0.6h-0.6zM370.8,241.3h0.6v0.6h-0.6zM377.7,236.8h0.6v0.6h-0.6zM379.2,245.5h0.6v0.6h-0.6zM375.6,225.4h0.6v0.6h-0.6zM349.7,241.7h0.6v0.6h-0.6zM361.2,241.4h0.6v0.6h-0.6zM361.8,242.0h0.6v0.6h-0.6zM370.2,242.7h0.6v0.6h-0.6zM365.7,247.1h0.6v0.6h-0.6zM366.8,242.5h0.6v0.6h-0.6zM371.8,247.4h0.6v0.6h-0.6zM376.2,235.6h0.6v0.6h-0.6zM385.7,245.6h0.6v0.6h-0.6zM367.8,243.3h0.6v0.6h-0.6zM365.3,236.8h0.6v0.6h-0.6zM356.0,234.1h0.6v0.6h-0.6zM354.9,239.9h0.6v0.6h-0.6zM370.9,247.1h0.6v0.6h-0.6zM379.8,247.8h0.6v0.6h-0.6zM368.6,240.6h0.6v0.6h-0.6zM377.7,246.2h0.6v0.6h-0.6zM354.5,246.8h0.6v0.6h-0.6zM356.0,230.1h0.6v0.6h-0.6zM357.1,246.4h0.6v0.6h-0.6zM364.6,242.2h0.6v0.6h-0.6zM380.2,242.5h0.6v0.6h-0.6zM368.5,245.5h0.6v0.6h-0.6zM362.8,238.0h0.6v0.6h-0.6zM357.7,239.6h0.6v0.6h-0.6zM381.8,234.6h0.6v0.6h-0.6zM362.5,243.1h0.6v0.6h-0.6zM372.7,245.3h0.6v0.6h-0.6zM363.5,239.5h0.6v0.6h-0.6zM364.0,246.8h0.6v0.6h-0.6zM359.3,246.6h0.6v0.6h-0.6zM363.8,231.5h0.6v0.6h-0.6zM379.1,241.3h0.6v0.6h-0.6zM369.7,241.2h0.6v0.6h-0.6zM359.5,240.7h0.6v0.6h-0.6zM381.0,235.1h0.6v0.6h-0.6zM365.2,242.3h0.6v0.6h-0.6zM358.3,231.8h0.6v0.6h-0.6zM369.1,233.2h0.6v0.6h-0.6zM370.2,238.2h0.6v0.6h-0.6zM363.0,242.7h0.6v0.6h-0.6zM358.3,245.8h0.6v0.6h-0.6zM368.9,244.0h0.6v0.6h-0.6zM379.1,239.6h0.6v0.6h-0.6zM367.2,244.1h0.6v0.6h-0.6zM368.8,235.5h0.6v0.6h-0.6zM379.8,236.7h0.6v0.6h-0.6zM363.7,241.2h0.6v0.6h-0.6zM366.2,223.3h0.6v0.6h-0.6zM349.4,235.6h0.6v0.6h-0.6zM359.7,239.4h0.6v0.6h-0.6zM358.0,242.3h0.6v0.6h-0.6zM365.8,239.2h0.6v0.6h-0.6zM360.5,241.4h0.6v0.6h-0.6zM365.3,240.2h0.6v0.6h-0.6zM373.4,245.4h0.6v0.6h-0.6zM378.8,237.0h0.6v0.6h-0.6zM369.7,243.3h0.6v0.6h-0.6zM384.9,237.1h0.6v0.6h-0.6zM365.6,234.1h0.6v0.6h-0.6zM369.9,241.8h0.6v0.6h-0.6zM384.5,238.1h0.6v0.6h-0.6zM370.4,236.4h0.6v0.6h-0.6zM387.1,237.8h0.6v0.6h-0.6zM378.1,236.7h0.6v0.6h-0.6zM361.9,233.6h0.6v0.6h-0.6zM368.8,237.9h0.6v0.6h-0.6zM358.3,233.5h0.6v0.6h-0.6zM378.5,232.2h0.6v0.6h-0.6zM376.5,243.0h0.6v0.6h-0.6zM385.7,240.2h0.6v0.6h-0.6zM366.4,241.9h0.6v0.6h-0.6zM363.7,241.8h0.6v0.6h-0.6zM386.6,238.2h0.6v0.6h-0.6zM358.2,240.9h0.6v0.6h-0.6zM376.0,243.6h0.6v0.6h-0.6zM363.4,244.6h0.6v0.6h-0.6zM377.2,236.2h0.6v0.6h-0.6zM383.3,243.3h0.6v0.6h-0.6zM364.2,239.7h0.6v0.6h-0.6zM362.5,231.5h0.6v0.6h-0.6zM369.7,239.4h0.6v0.6h-0.6zM383.8,246.0h0.6v0.6h-0.6zM358.0,238.4h0.6v0.6h-0.6zM368.4,242.7h0.6v0.6h-0.6zM378.6,233.1h0.6v0.6h-0.6zM375.8,242.2h0.6v0.6h-0.6zM380.8,241.3h0.6v0.6h-0.6zM376.9,244.3h0.6v0.6h-0.6zM376.0,237.7h0.6v0.6h-0.6zM377.4,245.9h0.6v0.6h-0.6zM358.8,243.1h0.6v0.6h-0.6zM372.6,246.4h0.6v0.6h-0.6zM372.3,242.7h0.6v0.6h-0.6zM375.1,237.4h0.6v0.6h-0.6zM380.0,232.3h0.6v0.6h-0.6zM366.1,246.2h0.6v0.6h-0.6zM362.7,234.6h0.6v0.6h-0.6zM377.7,241.8h0.6v0.6h-0.6zM362.6,241.3h0.6v0.6h-0.6zM365.7,246.4h0.6v0.6h-0.6zM363.2,230.4h0.6v0.6h-0.6zM363.9,242.2h0.6v0.6h-0.6zM357.8,234.6h0.6v0.6h-0.6zM360.6,245.4h0.6v0.6h-0.6zM369.0,241.9h0.6v0.6h-0.6zM358.4,238.4h0.6v0.6h-0.6zM367.2,238.0h0.6v0.6h-0.6zM370.0,231.7h0.6v0.6h-0.6zM369.2,243.1h0.6v0.6h-0.6zM366.2,226.9h0.6v0.6h-0.6zM349.0,237.2h0.6v0.6h-0.6zM383.7,238.4h0.6v0.6h-0.6zM367.1,243.0h0.6v0.6h-0.6zM376.6,233.8h0.6v0.6h-0.6zM381.4,237.5h0.6v0.6h-0.6zM367.9,238.3h0.6v0.6h-0.6zM364.3,235.0h0.6v0.6h-0.6zM358.8,247.3h0.6v0.6h-0.6zM384.7,237.8h0.6v0.6h-0.6zM372.8,245.4h0.6v0.6h-0.6zM384.6,240.6h0.6v0.6h-0.6zM365.7,234.2h0.6v0.6h-0.6zM365.4,241.0h0.6v0.6h-0.6zM382.7,236.7h0.6v0.6h-0.6zM372.1,233.7h0.6v0.6h-0.6zM374.6,247.4h0.6v0.6h-0.6zM353.1,234.8h0.6v0.6h-0.6zM369.6,238.0h0.6v0.6h-0.6zM385.6,239.0h0.6v0.6h-0.6zM383.4,232.3h0.6v0.6h-0.6zM374.5,244.3h0.6v0.6h-0.6zM349.8,238.7h0.6v0.6h-0.6zM357.7,247.1h0.6v0.6h-0.6zM367.9,236.2h0.6v0.6h-0.6zM370.9,238.0h0.6v0.6h-0.6zM364.4,242.9h0.6v0.6h-0.6zM375.1,240.4h0.6v0.6h-0.6zM360.3,241.6h0.6v0.6h-0.6zM363.7,243.1h0.6v0.6h-0.6zM357.4,235.4h0.6v0.6h-0.6zM367.4,240.8h0.6v0.6h-0.6zM367.8,233.4h0.6v0.6h-0.6zM373.5,238.8h0.6v0.6h-0.6zM359.1,248.0h0.6v0.6h-0.6zM368.2,237.7h0.6v0.6h-0.6zM379.1,231.0h0.6v0.6h-0.6zM360.7,238.7h0.6v0.6h-0.6zM372.5,233.6h0.6v0.6h-0.6zM368.0,228.7h0.6v0.6h-0.6zM364.0,241.9h0.6v0.6h-0.6zM377.7,232.6h0.6v0.6h-0.6zM377.9,231.3h0.6v0.6h-0.6zM363.0,240.1h0.6v0.6h-0.6zM363.8,243.5h0.6v0.6h-0.6zM368.7,238.3h0.6v0.6h-0.6zM379.4,238.8h0.6v0.6h-0.6zM363.0,237.6h0.6v0.6h-0.6zM374.6,232.9h0.6v0.6h-0.6zM378.7,243.5h0.6v0.6h-0.6zM350.8,241.0h0.6v0.6h-0.6zM366.6,239.5h0.6v0.6h-0.6zM381.1,244.6h0.6v0.6h-0.6zM381.0,241.2h0.6v0.6h-0.6zM354.5,234.1h0.6v0.6h-0.6zM370.8,236.1h0.6v0.6h-0.6zM360.8,234.8h0.6v0.6h-0.6zM374.2,238.5h0.6v0.6h-0.6zM359.4,240.4h0.6v0.6h-0.6zM365.3,242.2h0.6v0.6h-0.6zM373.0,234.7h0.6v0.6h-0.6zM352.8,235.5h0.6v0.6h-0.6zM363.7,244.8h0.6v0.6h-0.6zM376.9,238.0h0.6v0.6h-0.6zM370.8,234.1h0.6v0.6h-0.6zM364.9,242.4h0.6v0.6h-0.6zM362.2,233.5h0.6v0.6h-0.6zM365.8,236.1h0.6v0.6h-0.6zM383.4,233.3h0.6v0.6h-0.6zM378.6,230.3h0.6v0.6h-0.6zM371.6,232.1h0.6v0.6h-0.6zM362.1,242.6h0.6v0.6h-0.6zM365.5,244.2h0.6v0.6h-0.6zM360.9,247.1h0.6v0.6h-0.6zM359.8,234.7h0.6v0.6h-0.6zM366.5,244.3h0.6v0.6h-0.6zM370.1,238.6h0.6v0.6h-0.6zM363.2,235.0h0.6v0.6h-0.6zM362.7,241.2h0.6v0.6h-0.6zM358.1,238.6h0.6v0.6h-0.6zM371.6,234.4h0.6v0.6h-0.6zM376.3,241.6h0.6v0.6h-0.6zM366.0,237.8h0.6v0.6h-0.6zM376.6,235.2h0.6v0.6h-0.6zM355.8,244.0h0.6v0.6h-0.6zM377.2,229.7h0.6v0.6h-0.6zM364.9,248.6h0.6v0.6h-0.6zM373.7,241.6h0.6v0.6h-0.6zM362.3,249.0h0.6v0.6h-0.6zM364.7,242.0h0.6v0.6h-0.6zM364.9,241.6h0.6v0.6h-0.6zM357.3,232.0h0.6v0.6h-0.6zM373.0,236.1h0.6v0.6h-0.6zM387.1,246.6h0.6v0.6h-0.6zM359.2,237.9h0.6v0.6h-0.6zM369.5,245.1h0.6v0.6h-0.6zM349.0,235.3h0.6v0.6h-0.6zM383.5,241.8h0.6v0.6h-0.6zM356.7,241.0h0.6v0.6h-0.6zM372.6,240.8h0.6v0.6h-0.6zM379.9,240.6h0.6v0.6h-0.6zM387.0,238.8h0.6v0.6h-0.6zM369.0,245.5h0.6v0.6h-0.6zM349.8,232.9h0.6v0.6h-0.6zM377.3,238.8h0.6v0.6h-0.6zM372.4,237.7h0.6v0.6h-0.6zM369.7,239.9h0.6v0.6h-0.6zM366.2,228.7h0.6v0.6h-0.6zM355.5,230.9h0.6v0.6h-0.6zM378.5,238.3h0.6v0.6h-0.6zM373.1,240.3h0.6v0.6h-0.6zM375.7,230.5h0.6v0.6h-0.6zM364.1,232.4h0.6v0.6h-0.6zM368.4,238.6h0.6v0.6h-0.6zM372.8,244.0h0.6v0.6h-0.6zM371.4,245.6h0.6v0.6h-0.6zM362.3,236.7h0.6v0.6h-0.6zM364.9,237.1h0.6v0.6h-0.6zM373.7,243.9h0.6v0.6h-0.6zM354.8,236.9h0.6v0.6h-0.6zM372.4,242.7h0.6v0.6h-0.6zM369.2,240.2h0.6v0.6h-0.6zM366.5,244.1h0.6v0.6h-0.6zM361.3,239.8h0.6v0.6h-0.6zM370.3,236.5h0.6v0.6h-0.6zM366.9,238.2h0.6v0.6h-0.6zM375.4,235.2h0.6v0.6h-0.6zM378.9,241.0h0.6v0.6h-0.6zM358.5,240.7h0.6v0.6h-0.6zM377.4,233.8h0.6v0.6h-0.6zM367.1,237.0h0.6v0.6h-0.6zM363.3,244.6h0.6v0.6h-0.6zM375.3,239.9h0.6v0.6h-0.6zM369.8,246.4h0.6v0.6h-0.6zM362.6,237.8h0.6v0.6h-0.6zM373.8,238.5h0.6v0.6h-0.6zM369.9,237.3h0.6v0.6h-0.6zM365.3,232.6h0.6v0.6h-0.6zM375.3,244.5h0.6v0.6h-0.6zM363.8,245.7h0.6v0.6h-0.6zM351.5,237.0h0.6v0.6h-0.6zM366.3,232.6h0.6v0.6h-0.6zM364.4,249.0h0.6v0.6h-0.6zM378.7,243.2h0.6v0.6h-0.6zM379.0,246.9h0.6v0.6h-0.6zM359.9,232.7h0.6v0.6h-0.6zM377.3,240.4h0.6v0.6h-0.6zM374.9,248.3h0.6v0.6h-0.6zM381.2,241.0h0.6v0.6h-0.6zM359.4,235.5h0.6v0.6h-0.6zM360.0,241.1h0.6v0.6h-0.6zM373.8,232.5h0.6v0.6h-0.6zM387.3,247.5h0.6v0.6h-0.6zM370.3,238.9h0.6v0.6h-0.6zM379.2,242.5h0.6v0.6h-0.6zM360.5,232.6h0.6v0.6h-0.6zM367.6,237.5h0.6v0.6h-0.6zM353.5,239.4h0.6v0.6h-0.6zM352.3,243.6h0.6v0.6h-0.6zM347.1,244.2h0.6v0.6h-0.6zM365.5,237.8h0.6v0.6h-0.6zM364.9,246.2h0.6v0.6h-0.6zM363.1,242.3h0.6v0.6h-0.6zM356.6,235.7h0.6v0.6h-0.6zM359.5,233.5h0.6v0.6h-0.6zM353.2,235.2h0.6v0.6h-0.6zM356.5,237.9h0.6v0.6h-0.6zM360.1,248.0h0.6v0.6h-0.6zM373.4,236.4h0.6v0.6h-0.6zM370.8,241.9h0.6v0.6h-0.6zM364.7,238.5h0.6v0.6h-0.6zM355.8,238.0h0.6v0.6h-0.6zM382.5,245.1h0.6v0.6h-0.6zM366.8,245.0h0.6v0.6h-0.6zM362.0,236.0h0.6v0.6h-0.6zM364.8,243.0h0.6v0.6h-0.6zM362.3,239.5h0.6v0.6h-0.6zM378.9,240.6h0.6v0.6h-0.6zM357.5,234.9h0.6v0.6h-0.6zM373.1,236.1h0.6v0.6h-0.6zM375.0,236.8h0.6v0.6h-0.6zM359.2,238.5h0.6v0.6h-0.6zM374.1,236.2h0.6v0.6h-0.6zM365.7,241.8h0.6v0.6h-0.6zM379.8,232.7h0.6v0.6h-0.6zM355.4,236.2h0.6v0.6h-0.6zM371.5,230.1h0.6v0.6h-0.6zM369.9,243.0h0.6v0.6h-0.6zM375.8,241.6h0.6v0.6h-0.6zM381.0,245.8h0.6v0.6h-0.6zM369.6,233.5h0.6v0.6h-0.6zM384.9,236.6h0.6v0.6h-0.6zM380.4,244.6h0.6v0.6h-0.6zM367.8,241.8h0.6v0.6h-0.6zM365.0,239.1h0.6v0.6h-0.6zM365.0,242.2h0.6v0.6h-0.6zM381.6,248.3h0.6v0.6h-0.6zM376.4,239.4h0.6v0.6h-0.6zM382.9,232.9h0.6v0.6h-0.6zM370.8,236.4h0.6v0.6h-0.6zM375.8,242.1h0.6v0.6h-0.6zM362.7,241.4h0.6v0.6h-0.6zM362.2,237.0h0.6v0.6h-0.6zM352.4,230.8h0.6v0.6h-0.6zM385.4,238.8h0.6v0.6h-0.6zM370.3,239.0h0.6v0.6h-0.6zM362.8,239.0h0.6v0.6h-0.6zM358.1,233.0h0.6v0.6h-0.6zM378.6,246.3h0.6v0.6h-0.6zM358.3,237.3h0.6v0.6h-0.6z" fill="#1a1a1a" fill-opacity="1"/>
<path d="M337.4,265.7h0.7v0.7h-0.7zM342.8,251.8h0.7v0.7h-0.7zM344.2,260.1h0.7v0.7h-0.7zM336.5,261.8h0.7v0.7h-0.7zM341.6,256.0h0.7v0.7h-0.7zM341.3,261.4h0.7v0.7h-0.7zM334.1,258.3h0.7v0.7h-0.7zM338.1,264.2h0.7v0.7h-0.7zM334.4,263.5h0.7v0.7h-0.7zM344.0,265.2h0.7v0.7h-0.7zM339.6,273.0h0.7v0.7h-0.7zM341.3,259.3h0.7v0.7h-0.7zM334.0,274.3h0.7v0.7h-0.7zM342.3,264.0h0.7v0.7h-0.7zM341.3,253.6h0.7v0.7h-0.7zM344.4,275.9h0.7v0.7h-0.7zM339.0,262.0h0.7v0.7h-0.7zM341.8,263.2h0.7v0.7h-0.7zM340.0,273.4h0.7v0.7h-0.7zM342.4,253.9h0.7v0.7h-0.7zM337.9,253.4h0.7v0.7h-0.7zM342.7,270.7h0.7v0.7h-0.7zM335.0,259.1h0.7v0.7h-0.7zM338.1,251.4h0.7v0.7h-0.7zM337.1,261.5h0.7v0.7h-0.7zM342.7,264.3h0.7v0.7h-0.7zM339.2,251.5h0.7v0.7h-0.7zM342.3,259.9h0.7v0.7h-0.7zM342.5,267.3h0.7v0.7h-0.7zM340.6,268.7h0.7v0.7h-0.7zM341.5,271.0h0.7v0.7h-0.7zM341.2,264.0h0.7v0.7h-0.7zM340.6,265.6h0.7v0.7h-0.7zM343.3,267.8h0.7v0.7h-0.7zM340.5,273.5h0.7v0.7h-0.7zM342.8,258.0h0.7v0.7h-0.7zM342.7,269.4h0.7v0.7h-0.7zM344.4,272.6h0.7v0.7h-0.7zM343.5,272.6h0.7v0.7h-0.7zM342.8,254.9h0.7v0.7h-0.7zM344.2,253.5h0.7v0.7h-0.7zM343.6,255.3h0.7v0.7h-0.7zM343.2,267.6h0.7v0.7h-0.7zM344.2,275.3h0.7v0.7h-0.7zM335.4,256.5h0.7v0.7h-0.7zM339.8,254.5h0.7v0.7h-0.7zM340.9,254.0h0.7v0.7h-0.7zM340.4,274.3h0.7v0.7h-0.7zM340.7,256.8h0.7v0.7h-0.7zM333.9,253.4h0.7v0.7h-0.7zM341.6,254.3h0.7v0.7h-0.7zM342.2,268.8h0.7v0.7h-0.7zM344.2,255.8h0.7v0.7h-0.7zM335.6,275.6h0.7v0.7h-0.7zM344.3,267.6h0.7v0.7h-0.7zM339.9,265.7h0.7v0.7h-0.7zM343.8,256.4h0.7v0.7h-0.7zM341.4,254.8h0.7v0.7h-0.7zM342.6,250.3h0.7v0.7h-0.7zM341.9,266.9h0.7v0.7h-0.7zM335.8,261.4h0.7v0.7h-0.7zM340.0,254.1h0.7v0.7h-0.7zM340.7,270.1h0.7v0.7h-0.7zM339.2,251.0h0.7v0.7h-0.7zM342.6,254.3h0.7v0.7h-0.7zM335.4,264.3h0.7v0.7h-0.7zM335.7,252.3h0.7v0.7h-0.7zM342.3,272.8h0.7v0.7h-0.7zM341.1,262.5h0.7v0.7h-0.7zM334.5,268.1h0.7v0.7h-0.7zM338.9,254.2h0.7v0.7h-0.7zM342.0,276.9h0.7v0.7h-0.7zM338.3,272.1h0.7v0.7h-0.7zM339.0,273.6h0.7v0.7h-0.7zM339.5,270.7h0.7v0.7h-0.7zM341.6,272.9h0.7v0.7h-0.7zM338.0,271.6h0.7v0.7h-0.7zM337.1,265.4h0.7v0.7h-0.7zM342.0,270.0h0.7v0.7h-0.7zM339.9,265.6h0.7v0.7h-0.7zM343.7,254.4h0.7v0.7h-0.7zM336.0,269.9h0.7v0.7h-0.7zM341.3,253.0h0.7v0.7h-0.7zM337.7,259.9h0.7v0.7h-0.7zM339.2,260.2h0.7v0.7h-0.7zM344.3,258.6h0.7v0.7h-0.7zM340.0,254.4h0.7v0.7h-0.7zM340.4,268.4h0.7v0.7h-0.7zM344.0,269.0h0.7v0.7h-0.7zM338.1,258.8h0.7v0.7h-0.7zM337.9,257.9h0.7v0.7h-0.7zM343.4,266.3h0.7v0.7h-0.7zM339.7,272.1h0.7v0.7h-0.7zM341.8,262.7h0.7v0.7h-0.7zM337.1,271.0h0.7v0.7h-0.7zM338.6,250.6h0.7v0.7h-0.7zM337.5,260.0h0.7v0.7h-0.7zM343.4,262.9h0.7v0.7h-0.7zM344.0,267.4h0.7v0.7h-0.7zM335.0,265.8h0.7v0.7h-0.7zM344.5,262.6h0.7v0.7h-0.7zM341.2,274.8h0.7v0.7h-0.7zM335.9,266.6h0.7v0.7h-0.7zM337.9,251.2h0.7v0.7h-0.7zM343.2,265.0h0.7v0.7h-0.7zM338.0,256.0h0.7v0.7h-0.7zM337.4,255.0h0.7v0.7h-0.7zM343.3,260.6h0.7v0.7h-0.7zM341.2,252.9h0.7v0.7h-0.7zM335.9,276.1h0.7v0.7h-0.7zM336.3,276.9h0.7v0.7h-0.7zM340.1,273.0h0.7v0.7h-0.7zM343.6,263.7h0.7v0.7h-0.7zM338.2,267.4h0.7v0.7h-0.7zM337.5,268.1h0.7v0.7h-0.7zM334.9,254.0h0.7v0.7h-0.7zM339.7,261.6h0.7v0.7h-0.7zM343.3,265.5h0.7v0.7h-0.7zM344.0,265.7h0.7v0.7h-0.7zM342.1,251.7h0.7v0.7h-0.7zM336.0,266.9h0.7v0.7h-0.7zM337.1,275.3h0.7v0.7h-0.7zM343.7,276.4h0.7v0.7h-0.7zM338.2,272.4h0.7v0.7h-0.7zM343.9,276.1h0.7v0.7h-0.7zM338.2,271.9h0.7v0.7h-0.7zM341.3,276.6h0.7v0.7h-0.7zM339.3,272.3h0.7v0.7h-0.7zM344.2,266.1h0.7v0.7h-0.7zM335.5,267.2h0.7v0.7h-0.7zM342.7,256.7h0.7v0.7h-0.7zM342.8,251.2h0.7v0.7h-0.7zM335.5,261.7h0.7v0.7h-0.7zM343.9,260.6h0.7v0.7h-0.7zM342.9,276.0h0.7v0.7h-0.7zM343.6,264.8h0.7v0.7h-0.7zM342.1,249.7h0.7v0.7h-0.7zM338.1,263.9h0.7v0.7h-0.7zM341.4,270.8h0.7v0.7h-0.7zM339.8,258.5h0.7v0.7h-0.7zM343.3,254.9h0.7v0.7h-0.7zM333.3,260.3h0.7v0.7h-0.7zM333.8,256.0h0.7v0.7h-0.7zM341.0,272.0h0.7v0.7h-0.7zM338.9,272.5h0.7v0.7h-0.7zM339.8,255.6h0.7v0.7h-0.7zM340.7,258.0h0.7v0.7h-0.7zM341.6,266.1h0.7v0.7h-0.7zM339.7,265.2h0.7v0.7h-0.7zM338.8,258.1h0.7v0.7h-0.7zM335.5,262.2h0.7v0.7h-0.7zM337.5,270.7h0.7v0.7h-0.7zM343.5,255.8h0.7v0.7h-0.7zM337.7,272.0h0.7v0.7h-0.7zM342.2,258.7h0.7v0.7h-0.7zM342.8,263.9h0.7v0.7h-0.7zM339.5,261.8h0.7v0.7h-0.7zM338.5,259.9h0.7v0.7h-0.7zM337.5,262.8h0.7v0.7h-0.7zM339.2,275.1h0.7v0.7h-0.7zM333.6,262.1h0.7v0.7h-0.7zM339.1,264.8h0.7v0.7h-0.7zM335.8,265.5h0.7v0.7h-0.7zM341.1,260.5h0.7v0.7h-0.7zM341.2,269.8h0.7v0.7h-0.7zM343.7,265.6h0.7v0.7h-0.7zM341.9,256.7h0.7v0.7h-0.7zM343.5,270.1h0.7v0.7h-0.7zM343.3,264.7h0.7v0.7h-0.7zM335.7,273.8h0.7v0.7h-0.7zM339.7,256.0h0.7v0.7h-0.7zM339.2,255.8h0.7v0.7h-0.7zM342.5,267.1h0.7v0.7h-0.7zM339.3,272.1h0.7v0.7h-0.7zM342.2,257.9h0.7v0.7h-0.7zM338.8,254.7h0.7v0.7h-0.7zM339.3,262.3h0.7v0.7h-0.7zM334.1,255.4h0.7v0.7h-0.7zM340.6,276.9h0.7v0.7h-0.7zM340.4,260.3h0.7v0.7h-0.7zM335.7,251.8h0.7v0.7h-0.7zM335.9,255.3h0.7v0.7h-0.7zM340.6,256.9h0.7v0.7h-0.7zM338.6,259.8h0.7v0.7h-0.7zM339.2,259.2h0.7v0.7h-0.7zM340.1,265.0h0.7v0.7h-0.7zM343.8,273.6h0.7v0.7h-0.7zM341.7,260.1h0.7v0.7h-0.7zM339.5,268.7h0.7v0.7h-0.7zM337.5,256.9h0.7v0.7h-0.7zM343.1,252.0h0.7v0.7h-0.7zM340.4,266.6h0.7v0.7h-0.7zM341.0,262.8h0.7v0.7h-0.7zM344.5,262.4h0.7v0.7h-0.7zM339.4,276.5h0.7v0.7h-0.7zM341.3,274.9h0.7v0.7h-0.7zM336.2,253.3h0.7v0.7h-0.7zM344.2,257.6h0.7v0.7h-0.7zM344.2,258.4h0.7v0.7h-0.7zM335.5,255.8h0.7v0.7h-0.7zM340.1,266.2h0.7v0.7h-0.7zM342.7,276.2h0.7v0.7h-0.7zM334.8,261.9h0.7v0.7h-0.7zM339.0,266.0h0.7v0.7h-0.7zM344.4,268.8h0.7v0.7h-0.7zM341.8,268.8h0.7v0.7h-0.7zM341.9,268.5h0.7v0.7h-0.7zM334.6,264.0h0.7v0.7h-0.7zM343.4,276.6h0.7v0.7h-0.7zM338.7,256.4h0.7v0.7h-0.7zM343.8,272.0h0.7v0.7h-0.7zM339.8,276.8h0.7v0.7h-0.7zM340.4,252.4h0.7v0.7h-0.7zM344.2,262.8h0.7v0.7h-0.7zM334.8,268.9h0.7v0.7h-0.7zM339.3,273.4h0.7v0.7h-0.7zM339.2,264.5h0.7v0.7h-0.7zM344.4,263.7h0.7v0.7h-0.7zM344.5,268.3h0.7v0.7h-0.7zM343.1,263.4h0.7v0.7h-0.7zM342.4,270.1h0.7v0.7h-0.7zM338.0,253.0h0.7v0.7h-0.7zM343.0,266.1h0.7v0.7h-0.7zM335.6,268.0h0.7v0.7h-0.7zM341.6,263.6h0.7v0.7h-0.7zM343.9,276.0h0.7v0.7h-0.7zM343.0,261.1h0.7v0.7h-0.7zM337.7,258.3h0.7v0.7h-0.7zM341.7,261.6h0.7v0.7h-0.7zM337.2,269.8h0.7v0.7h-0.7zM342.4,271.5h0.7v0.7h-0.7zM335.5,270.7h0.7v0.7h-0.7zM339.8,273.0h0.7v0.7h-0.7zM333.4,268.7h0.7v0.7h-0.7zM342.0,253.4h0.7v0.7h-0.7zM343.9,269.8h0.7v0.7h-0.7zM340.8,271.0h0.7v0.7h-0.7zM336.2,268.5h0.7v0.7h-0.7zM339.5,251.8h0.7v0.7h-0.7zM337.8,261.5h0.7v0.7h-0.7zM336.6,255.4h0.7v0.7h-0.7zM342.1,262.9h0.7v0.7h-0.7zM340.5,259.2h0.7v0.7h-0.7zM340.9,260.4h0.7v0.7h-0.7zM344.2,263.8h0.7v0.7h-0.7zM344.2,260.4h0.7v0.7h-0.7zM342.8,253.0h0.7v0.7h-0.7zM338.7,272.9h0.7v0.7h-0.7zM338.5,276.1h0.7v0.7h-0.7zM341.4,271.9h0.7v0.7h-0.7zM340.5,273.0h0.7v0.7h-0.7zM340.5,251.9h0.7v0.7h-0.7zM336.6,267.5h0.7v0.7h-0.7zM339.9,257.9h0.7v0.7h-0.7zM341.2,258.4h0.7v0.7h-0.7zM342.7,276.1h0.7v0.7h-0.7zM334.5,261.3h0.7v0.7h-0.7zM343.9,273.9h0.7v0.7h-0.7zM343.6,270.2h0.7v0.7h-0.7zM342.6,257.8h0.7v0.7h-0.7zM343.6,265.5h0.7v0.7h-0.7zM337.9,267.5h0.7v0.7h-0.7zM335.1,258.8h0.7v0.7h-0.7zM337.1,275.1h0.7v0.7h-0.7zM341.0,257.7h0.7v0.7h-0.7zM338.2,266.5h0.7v0.7h-0.7zM335.4,266.3h0.7v0.7h-0.7zM344.3,253.2h0.7v0.7h-0.7zM338.9,271.2h0.7v0.7h-0.7zM341.9,265.8h0.7v0.7h-0.7zM342.9,250.2h0.7v0.7h-0.7zM342.8,260.6h0.7v0.7h-0.7zM342.9,253.5h0.7v0.7h-0.7zM333.4,268.5h0.7v0.7h-0.7zM339.7,265.7h0.7v0.7h-0.7zM341.2,268.1h0.7v0.7h-0.7zM341.3,263.6h0.7v0.7h-0.7zM336.6,259.3h0.7v0.7h-0.7zM342.3,268.7h0.7v0.7h-0.7zM341.7,272.9h0.7v0.7h-0.7zM340.1,270.8h0.7v0.7h-0.7zM340.8,255.2h0.7v0.7h-0.7zM337.8,262.2h0.7v0.7h-0.7zM337.9,269.0h0.7v0.7h-0.7zM340.5,260.7h0.7v0.7h-0.7zM338.2,271.8h0.7v0.7h-0.7zM339.0,258.3h0.7v0.7h-0.7zM335.8,273.0h0.7v0.7h-0.7zM339.5,267.6h0.7v0.7h-0.7zM334.9,256.1h0.7v0.7h-0.7zM333.9,258.8h0.7v0.7h-0.7zM336.5,259.7h0.7v0.7h-0.7zM337.5,273.9h0.7v0.7h-0.7zM335.6,270.4h0.7v0.7h-0.7zM342.8,257.6h0.7v0.7h-0.7zM343.9,255.9h0.7v0.7h-0.7zM339.0,264.3h0.7v0.7h-0.7zM338.7,268.1h0.7v0.7h-0.7zM344.2,264.3h0.7v0.7h-0.7zM344.0,257.8h0.7v0.7h-0.7zM342.2,268.2h0.7v0.7h-0.7zM342.2,264.5h0.7v0.7h-0.7zM340.2,272.7h0.7v0.7h-0.7zM339.4,268.3h0.7v0.7h-0.7zM344.1,257.9h0.7v0.7h-0.7zM341.5,257.3h0.7v0.7h-0.7zM337.0,260.7h0.7v0.7h-0.7zM342.2,255.6h0.7v0.7h-0.7zM341.2,254.8h0.7v0.7h-0.7zM338.8,273.6h0.7v0.7h-0.7zM338.2,264.6h0.7v0.7h-0.7zM340.0,275.1h0.7v0.7h-0.7zM344.1,270.7h0.7v0.7h-0.7zM341.3,270.1h0.7v0.7h-0.7zM339.3,250.7h0.7v0.7h-0.7zM343.8,273.8h0.7v0.7h-0.7zM336.4,256.8h0.7v0.7h-0.7zM339.8,275.5h0.7v0.7h-0.7zM337.4,272.4h0.7v0.7h-0.7zM336.0,253.0h0.7v0.7h-0.7zM340.8,268.3h0.7v0.7h-0.7zM342.5,273.1h0.7v0.7h-0.7zM341.4,275.3h0.7v0.7h-0.7zM340.2,257.1h0.7v0.7h-0.7zM336.5,262.7h0.7v0.7h-0.7zM344.4,269.5h0.7v0.7h-0.7zM343.5,274.2h0.7v0.7h-0.7zM344.0,255.2h0.7v0.7h-0.7zM336.7,272.2h0.7v0.7h-0.7zM342.4,271.6h0.7v0.7h-0.7zM339.9,254.1h0.7v0.7h-0.7zM342.0,268.4h0.7v0.7h-0.7zM339.9,269.9h0.7v0.7h-0.7zM342.4,267.5h0.7v0.7h-0.7zM339.5,272.8h0.7v0.7h-0.7zM339.4,266.7h0.7v0.7h-0.7zM335.8,267.9h0.7v0.7h-0.7zM336.9,253.5h0.7v0.7h-0.7zM336.2,275.4h0.7v0.7h-0.7zM341.3,273.9h0.7v0.7h-0.7zM336.9,276.8h0.7v0.7h-0.7zM337.9,258.7h0.7v0.7h-0.7zM337.8,264.0h0.7v0.7h-0.7zM342.8,255.1h0.7v0.7h-0.7zM334.5,263.8h0.7v0.7h-0.7zM344.4,275.0h0.7v0.7h-0.7zM340.8,255.4h0.7v0.7h-0.7zM335.4,269.4h0.7v0.7h-0.7zM335.0,257.9h0.7v0.7h-0.7zM338.1,274.5h0.7v0.7h-0.7zM343.0,275.0h0.7v0.7h-0.7zM337.2,256.4h0.7v0.7h-0.7zM342.4,269.7h0.7v0.7h-0.7zM337.4,272.7h0.7v0.7h-0.7zM339.1,263.8h0.7v0.7h-0.7zM342.2,267.8h0.7v0.7h-0.7zM338.5,265.4h0.7v0.7h-0.7zM340.4,267.6h0.7v0.7h-0.7zM335.1,273.0h0.7v0.7h-0.7zM335.4,264.4h0.7v0.7h-0.7zM339.0,263.8h0.7v0.7h-0.7zM341.4,254.4h0.7v0.7h-0.7zM342.7,265.2h0.7v0.7h-0.7zM334.4,258.4h0.7v0.7h-0.7zM333.7,269.7h0.7v0.7h-0.7zM337.3,276.2h0.7v0.7h-0.7zM344.4,274.6h0.7v0.7h-0.7zM342.2,257.0h0.7v0.7h-0.7zM341.0,275.9h0.7v0.7h-0.7zM343.0,262.9h0.7v0.7h-0.7zM335.4,257.9h0.7v0.7h-0.7zM343.6,269.3h0.7v0.7h-0.7zM342.6,260.3h0.7v0.7h-0.7zM338.7,272.9h0.7v0.7h-0.7zM339.1,272.3h0.7v0.7h-0.7zM339.1,258.1h0.7v0.7h-0.7zM344.1,252.9h0.7v0.7h-0.7zM344.5,255.9h0.7v0.7h-0.7zM341.0,274.7h0.7v0.7h-0.7zM343.0,252.9h0.7v0.7h-0.7zM343.0,269.1h0.7v0.7h-0.7zM342.4,270.6h0.7v0.7h-0.7zM342.2,252.9h0.7v0.7h-0.7zM341.5,258.3h0.7v0.7h-0.7zM341.1,257.2h0.7v0.7h-0.7zM338.9,251.8h0.7v0.7h-0.7zM338.9,273.9h0.7v0.7h-0.7zM341.8,268.9h0.7v0.7h-0.7zM340.5,275.2h0.7v0.7h-0.7zM333.9,251.8h0.7v0.7h-0.7zM341.1,276.4h0.7v0.7h-0.7zM337.1,259.6h0.7v0.7h-0.7zM344.2,276.3h0.7v0.7h-0.7zM337.0,270.7h0.7v0.7h-0.7zM338.6,262.8h0.7v0.7h-0.7zM343.7,259.9h0.7v0.7h-0.7zM339.0,265.2h0.7v0.7h-0.7zM343.7,273.0h0.7v0.7h-0.7zM342.1,276.0h0.7v0.7h-0.7zM338.6,264.9h0.7v0.7h-0.7zM334.7,261.0h0.7v0.7h-0.7zM337.5,268.0h0.7v0.7h-0.7zM340.9,269.6h0.7v0.7h-0.7zM344.1,273.2h0.7v0.7h-0.7zM338.7,261.4h0.7v0.7h-0.7zM339.9,261.6h0.7v0.7h-0.7zM336.0,271.2h0.7v0.7h-0.7zM339.9,252.9h0.7v0.7h-0.7zM340.1,260.6h0.7v0.7h-0.7zM343.1,258.6h0.7v0.7h-0.7zM343.7,273.9h0.7v0.7h-0.7zM337.9,275.6h0.7v0.7h-0.7zM342.2,273.8h0.7v0.7h-0.7zM338.3,253.9h0.7v0.7h-0.7zM337.9,254.6h0.7v0.7h-0.7zM335.1,274.6h0.7v0.7h-0.7zM341.1,251.7h0.7v0.7h-0.7zM344.1,265.2h0.7v0.7h-0.7zM342.5,267.6h0.7v0.7h-0.7zM339.4,275.8h0.7v0.7h-0.7zM334.6,273.9h0.7v0.7h-0.7zM339.2,268.2h0.7v0.7h-0.7zM338.8,269.8h0.7v0.7h-0.7zM341.7,267.2h0.7v0.7h-0.7zM334.8,256.4h0.7v0.7h-0.7zM343.3,258.6h0.7v0.7h-0.7zM337.7,270.7h0.7v0.7h-0.7zM342.8,274.6h0.7v0.7h-0.7zM341.7,261.7h0.7v0.7h-0.7zM342.1,258.3h0.7v0.7h-0.7zM340.6,253.4h0.7v0.7h-0.7zM344.5,254.1h0.7v0.7h-0.7zM336.1,269.7h0.7v0.7h-0.7zM341.4,255.0h0.7v0.7h-0.7zM342.0,265.8h0.7v0.7h-0.7zM339.1,265.7h0.7v0.7h-0.7zM338.5,268.0h0.7v0.7h-0.7zM334.5,268.3h0.7v0.7h-0.7zM334.7,272.3h0.7v0.7h-0.7zM335.3,264.2h0.7v0.7h-0.7zM340.8,266.0h0.7v0.7h-0.7zM334.0,269.4h0.7v0.7h-0.7zM342.7,253.7h0.7v0.7h-0.7zM339.5,259.8h0.7v0.7h-0.7zM339.0,253.1h0.7v0.7h-0.7zM336.2,254.6h0.7v0.7h-0.7zM334.9,276.2h0.7v0.7h-0.7zM339.2,250.3h0.7v0.7h-0.7zM338.4,263.1h0.7v0.7h-0.7zM343.8,270.2h0.7v0.7h-0.7zM335.2,253.0h0.7v0.7h-0.7zM339.6,268.6h0.7v0.7h-0.7zM339.7,255.7h0.7v0.7h-0.7zM343.9,264.6h0.7v0.7h-0.7zM342.5,274.9h0.7v0.7h-0.7zM344.4,274.4h0.7v0.7h-0.7zM342.8,262.2h0.7v0.7h-0.7zM342.5,261.3h0.7v0.7h-0.7zM342.8,254.8h0.7v0.7h-0.7zM342.9,251.5h0.7v0.7h-0.7zM343.7,260.6h0.7v0.7h-0.7zM340.0,269.1h0.7v0.7h-0.7zM334.2,265.5h0.7v0.7h-0.7zM344.4,268.0h0.7v0.7h-0.7zM343.8,256.2h0.7v0.7h-0.7zM343.8,260.1h0.7v0.7h-0.7zM341.8,271.8h0.7v0.7h-0.7zM342.2,268.6h0.7v0.7h-0.7zM342.5,253.6h0.7v0.7h-0.7zM338.7,266.1h0.7v0.7h-0.7zM339.3,254.4h0.7v0.7h-0.7zM342.1,274.9h0.7v0.7h-0.7zM339.1,261.2h0.7v0.7h-0.7zM337.4,259.6h0.7v0.7h-0.7zM339.7,264.7h0.7v0.7h-0.7zM341.5,275.0h0.7v0.7h-0.7zM342.8,265.5h0.7v0.7h-0.7zM337.4,259.6h0.7v0.7h-0.7zM335.8,261.7h0.7v0.7h-0.7zM339.4,270.9h0.7v0.7h-0.7zM341.4,263.4h0.7v0.7h-0.7zM341.7,259.5h0.7v0.7h-0.7zM336.5,263.4h0.7v0.7h-0.7zM340.2,258.1h0.7v0.7h-0.7zM342.1,258.0h0.7v0.7h-0.7zM338.2,276.6h0.7v0.7h-0.7zM340.5,267.5h0.7v0.7h-0.7zM335.2,260.7h0.7v0.7h-0.7zM333.7,259.0h0.7v0.7h-0.7zM334.9,260.9h0.7v0.7h-0.7zM342.7,270.5h0.7v0.7h-0.7zM339.5,261.5h0.7v0.7h-0.7zM342.4,262.1h0.7v0.7h-0.7zM342.0,261.4h0.7v0.7h-0.7zM337.3,273.8h0.7v0.7h-0.7zM340.4,261.8h0.7v0.7h-0.7zM341.1,271.0h0.7v0.7h-0.7zM339.8,262.3h0.7v0.7h-0.7zM335.4,269.9h0.7v0.7h-0.7zM339.7,273.1h0.7v0.7h-0.7zM342.8,273.7h0.7v0.7h-0.7zM343.9,257.2h0.7v0.7h-0.7zM342.5,271.0h0.7v0.7h-0.7zM334.8,270.7h0.7v0.7h-0.7zM340.8,273.7h0.7v0.7h-0.7zM341.6,265.3h0.7v0.7h-0.7zM341.9,256.8h0.7v0.7h-0.7zM340.9,264.9h0.7v0.7h-0.7zM339.0,260.0h0.7v0.7h-0.7zM342.1,267.5h0.7v0.7h-0.7zM342.9,272.6h0.7v0.7h-0.7zM336.8,274.5h0.7v0.7h-0.7zM343.0,263.0h0.7v0.7h-0.7zM342.3,259.3h0.7v0.7h-0.7zM343.8,254.8h0.7v0.7h-0.7zM338.6,261.1h0.7v0.7h-0.7zM341.6,268.6h0.7v0.7h-0.7zM337.1,262.2h0.7v0.7h-0.7zM341.1,260.7h0.7v0.7h-0.7zM343.6,258.8h0.7v0.7h-0.7z" fill="#111" fill-opacity="1"/>
<path d="M342.8,277 L342.8,251.8 Q343.5,250 347,248.6 L356,245.2 L370,243 L382,241 Q385,240.8 385.4,243 L385.6,277 Z" fill="#000"/>
<path d="M385.5,260.3h0.7v0.7h-0.7zM387.8,261.2h0.7v0.7h-0.7zM389.0,243.2h0.7v0.7h-0.7zM384.5,258.1h0.7v0.7h-0.7zM385.5,246.8h0.7v0.7h-0.7zM385.5,253.3h0.7v0.7h-0.7zM387.6,252.1h0.7v0.7h-0.7zM388.3,246.2h0.7v0.7h-0.7zM386.9,243.6h0.7v0.7h-0.7zM388.8,248.5h0.7v0.7h-0.7zM384.8,250.9h0.7v0.7h-0.7zM386.4,261.9h0.7v0.7h-0.7zM385.9,262.0h0.7v0.7h-0.7zM387.6,266.5h0.7v0.7h-0.7zM385.3,248.9h0.7v0.7h-0.7zM384.9,251.3h0.7v0.7h-0.7zM385.8,272.3h0.7v0.7h-0.7zM386.5,270.1h0.7v0.7h-0.7zM386.0,255.0h0.7v0.7h-0.7zM389.6,256.6h0.7v0.7h-0.7zM386.6,262.9h0.7v0.7h-0.7zM387.7,248.5h0.7v0.7h-0.7zM385.8,253.3h0.7v0.7h-0.7zM384.2,253.1h0.7v0.7h-0.7zM385.2,252.0h0.7v0.7h-0.7zM387.0,247.4h0.7v0.7h-0.7zM387.9,246.9h0.7v0.7h-0.7zM387.4,253.1h0.7v0.7h-0.7zM384.4,243.9h0.7v0.7h-0.7zM388.6,260.2h0.7v0.7h-0.7zM385.4,261.4h0.7v0.7h-0.7zM387.4,260.8h0.7v0.7h-0.7zM389.4,270.2h0.7v0.7h-0.7zM389.3,256.5h0.7v0.7h-0.7zM387.7,251.8h0.7v0.7h-0.7zM389.8,259.1h0.7v0.7h-0.7zM385.6,255.3h0.7v0.7h-0.7zM385.6,253.7h0.7v0.7h-0.7zM386.7,249.6h0.7v0.7h-0.7zM384.9,264.2h0.7v0.7h-0.7zM385.3,242.7h0.7v0.7h-0.7zM386.3,257.8h0.7v0.7h-0.7zM384.1,269.0h0.7v0.7h-0.7zM388.3,271.1h0.7v0.7h-0.7zM386.5,262.7h0.7v0.7h-0.7zM384.5,262.2h0.7v0.7h-0.7zM386.6,270.4h0.7v0.7h-0.7zM387.9,250.8h0.7v0.7h-0.7zM387.4,269.4h0.7v0.7h-0.7zM386.0,267.9h0.7v0.7h-0.7zM385.4,260.0h0.7v0.7h-0.7zM384.6,241.9h0.7v0.7h-0.7zM385.1,255.1h0.7v0.7h-0.7zM388.6,275.4h0.7v0.7h-0.7zM387.4,245.2h0.7v0.7h-0.7zM384.8,261.1h0.7v0.7h-0.7zM389.8,258.5h0.7v0.7h-0.7zM384.3,267.4h0.7v0.7h-0.7zM385.0,262.6h0.7v0.7h-0.7zM384.8,253.2h0.7v0.7h-0.7zM387.1,263.4h0.7v0.7h-0.7zM386.3,264.9h0.7v0.7h-0.7zM388.2,253.3h0.7v0.7h-0.7zM386.1,270.3h0.7v0.7h-0.7zM384.4,250.1h0.7v0.7h-0.7zM388.4,247.5h0.7v0.7h-0.7zM387.2,266.9h0.7v0.7h-0.7zM385.0,260.3h0.7v0.7h-0.7zM385.3,256.7h0.7v0.7h-0.7zM384.9,257.4h0.7v0.7h-0.7zM386.9,273.5h0.7v0.7h-0.7zM387.7,270.9h0.7v0.7h-0.7zM386.1,270.6h0.7v0.7h-0.7zM385.1,273.7h0.7v0.7h-0.7zM386.5,257.4h0.7v0.7h-0.7zM385.9,256.2h0.7v0.7h-0.7zM386.1,271.9h0.7v0.7h-0.7zM387.3,258.9h0.7v0.7h-0.7zM384.1,262.4h0.7v0.7h-0.7zM387.5,259.7h0.7v0.7h-0.7zM388.8,254.8h0.7v0.7h-0.7zM390.8,265.2h0.7v0.7h-0.7zM386.2,250.3h0.7v0.7h-0.7zM384.3,266.6h0.7v0.7h-0.7zM387.1,254.6h0.7v0.7h-0.7zM389.9,258.9h0.7v0.7h-0.7zM389.1,253.3h0.7v0.7h-0.7zM386.8,263.8h0.7v0.7h-0.7zM387.0,263.5h0.7v0.7h-0.7zM385.4,263.7h0.7v0.7h-0.7zM385.7,260.5h0.7v0.7h-0.7zM386.1,269.3h0.7v0.7h-0.7zM388.0,250.3h0.7v0.7h-0.7zM388.6,254.3h0.7v0.7h-0.7zM388.3,253.4h0.7v0.7h-0.7zM384.6,267.7h0.7v0.7h-0.7zM388.4,257.5h0.7v0.7h-0.7zM387.7,245.5h0.7v0.7h-0.7zM384.2,264.7h0.7v0.7h-0.7zM385.8,253.5h0.7v0.7h-0.7zM386.8,268.7h0.7v0.7h-0.7zM384.3,268.3h0.7v0.7h-0.7zM388.9,256.5h0.7v0.7h-0.7zM388.6,245.9h0.7v0.7h-0.7zM389.7,244.5h0.7v0.7h-0.7zM385.2,268.1h0.7v0.7h-0.7zM387.5,269.8h0.7v0.7h-0.7zM387.7,260.6h0.7v0.7h-0.7zM386.6,254.9h0.7v0.7h-0.7zM384.6,253.9h0.7v0.7h-0.7zM385.4,248.9h0.7v0.7h-0.7zM386.2,253.8h0.7v0.7h-0.7zM387.4,263.5h0.7v0.7h-0.7zM385.7,244.7h0.7v0.7h-0.7zM384.9,264.5h0.7v0.7h-0.7zM387.4,256.7h0.7v0.7h-0.7zM389.2,274.3h0.7v0.7h-0.7zM386.8,266.7h0.7v0.7h-0.7zM384.6,248.2h0.7v0.7h-0.7zM388.2,255.4h0.7v0.7h-0.7zM387.6,270.3h0.7v0.7h-0.7zM384.4,246.9h0.7v0.7h-0.7zM386.0,262.6h0.7v0.7h-0.7zM387.9,255.1h0.7v0.7h-0.7zM386.4,253.7h0.7v0.7h-0.7zM386.5,253.5h0.7v0.7h-0.7zM384.3,254.8h0.7v0.7h-0.7zM387.4,258.0h0.7v0.7h-0.7zM387.6,266.3h0.7v0.7h-0.7zM384.4,249.6h0.7v0.7h-0.7zM385.4,270.9h0.7v0.7h-0.7zM385.1,265.3h0.7v0.7h-0.7zM386.0,257.6h0.7v0.7h-0.7zM388.1,260.6h0.7v0.7h-0.7zM385.3,250.4h0.7v0.7h-0.7zM385.2,251.3h0.7v0.7h-0.7zM388.8,274.3h0.7v0.7h-0.7zM388.7,264.4h0.7v0.7h-0.7zM384.8,254.8h0.7v0.7h-0.7zM387.9,265.9h0.7v0.7h-0.7zM386.5,271.9h0.7v0.7h-0.7zM388.8,257.5h0.7v0.7h-0.7zM384.4,251.6h0.7v0.7h-0.7zM385.1,246.3h0.7v0.7h-0.7zM384.9,254.0h0.7v0.7h-0.7zM387.9,265.3h0.7v0.7h-0.7zM388.7,261.1h0.7v0.7h-0.7zM384.6,249.6h0.7v0.7h-0.7zM384.8,259.5h0.7v0.7h-0.7zM386.7,274.1h0.7v0.7h-0.7zM386.8,263.4h0.7v0.7h-0.7zM387.3,251.4h0.7v0.7h-0.7zM385.9,248.1h0.7v0.7h-0.7zM384.8,260.5h0.7v0.7h-0.7zM389.3,242.3h0.7v0.7h-0.7zM389.3,248.7h0.7v0.7h-0.7zM386.4,255.2h0.7v0.7h-0.7zM386.3,273.1h0.7v0.7h-0.7zM388.4,267.8h0.7v0.7h-0.7zM387.8,258.9h0.7v0.7h-0.7zM388.7,251.9h0.7v0.7h-0.7zM387.1,250.2h0.7v0.7h-0.7zM386.5,268.4h0.7v0.7h-0.7zM385.2,269.5h0.7v0.7h-0.7zM388.6,266.5h0.7v0.7h-0.7zM389.1,261.6h0.7v0.7h-0.7zM385.6,262.7h0.7v0.7h-0.7zM389.1,266.7h0.7v0.7h-0.7zM385.1,273.7h0.7v0.7h-0.7zM384.2,255.0h0.7v0.7h-0.7zM384.1,256.7h0.7v0.7h-0.7zM387.8,253.6h0.7v0.7h-0.7zM387.2,260.4h0.7v0.7h-0.7zM384.7,263.9h0.7v0.7h-0.7zM388.4,267.6h0.7v0.7h-0.7zM386.8,263.7h0.7v0.7h-0.7zM390.2,247.0h0.7v0.7h-0.7zM385.1,256.1h0.7v0.7h-0.7zM386.1,271.4h0.7v0.7h-0.7zM386.1,262.4h0.7v0.7h-0.7zM384.7,262.2h0.7v0.7h-0.7zM385.8,245.3h0.7v0.7h-0.7zM388.3,266.7h0.7v0.7h-0.7zM387.6,273.6h0.7v0.7h-0.7zM385.8,249.6h0.7v0.7h-0.7zM386.5,260.5h0.7v0.7h-0.7zM388.3,255.2h0.7v0.7h-0.7zM388.5,248.8h0.7v0.7h-0.7zM385.0,249.4h0.7v0.7h-0.7zM384.7,246.5h0.7v0.7h-0.7zM386.0,269.7h0.7v0.7h-0.7zM384.1,256.1h0.7v0.7h-0.7zM387.2,255.8h0.7v0.7h-0.7zM387.1,260.2h0.7v0.7h-0.7zM384.8,269.7h0.7v0.7h-0.7zM388.8,253.0h0.7v0.7h-0.7zM385.4,274.7h0.7v0.7h-0.7zM384.5,262.9h0.7v0.7h-0.7zM385.5,250.9h0.7v0.7h-0.7zM388.2,254.3h0.7v0.7h-0.7z" fill="#111" fill-opacity="1"/>
<path d="M356.4,252 Q356.4,249.8 358.5,249.6 L377,246.4 Q379.4,246.2 379.4,248.6 L377.6,274.5 Q377.5,276.2 375.8,276.2 L361.6,276.2 Q360,276.2 359.9,274.5 Z" fill="#dedede" stroke="#f6f6f6" stroke-width="1.4"/>
<path d="M359.5,254 Q359.6,252.3 361.5,252 L374.8,249.8 Q376.6,249.6 376.6,251.6 L375.2,273 L362.5,273 Z" fill="#cdcdcd" stroke="#a8a8a8" stroke-width="0.5"/>
<path d="M362,255 L368.8,271 L371,271 L376,253.5" fill="none" stroke="#aaa" stroke-width="0.9"/>
<path d="M364,256 L369.6,268 L374,255" fill="none" stroke="#b8b8b8" stroke-width="0.6"/>
<ellipse cx="370" cy="252.5" rx="2.2" ry="1.6" fill="#e8e8e8"/>
<path d="M366.5,275.5 L366.5,266 M372.5,275.5 L372.5,266" stroke="#aaa" stroke-width="0.7"/>
<text x="337.6" y="282.4" font-size="3.9" text-anchor="middle" fill="#333">0</text>
<text x="346" y="282.4" font-size="3.9" text-anchor="middle" fill="#333">10<tspan font-size="2.7" dy="-1.4">2</tspan></text>
<text x="360" y="282.4" font-size="3.9" text-anchor="middle" fill="#333">10<tspan font-size="2.7" dy="-1.4">3</tspan></text>
<text x="376.5" y="282.4" font-size="3.9" text-anchor="middle" fill="#333">10<tspan font-size="2.7" dy="-1.4">4</tspan></text>
<text x="390" y="282.4" font-size="3.9" text-anchor="middle" fill="#333">10<tspan font-size="2.7" dy="-1.4">5</tspan></text>
<text x="328.6" y="269.3" font-size="3.9" text-anchor="end" fill="#333">0</text>
<text x="328.6" y="263.4" font-size="3.9" text-anchor="end" fill="#333">10<tspan font-size="2.7" dy="-1.4">2</tspan></text>
<text x="328.6" y="248.3" font-size="3.9" text-anchor="end" fill="#333">10<tspan font-size="2.7" dy="-1.4">3</tspan></text>
<text x="328.6" y="234.2" font-size="3.9" text-anchor="end" fill="#333">10<tspan font-size="2.7" dy="-1.4">4</tspan></text>
<text x="328.6" y="219" font-size="3.9" text-anchor="end" fill="#333">10<tspan font-size="2.7" dy="-1.4">5</tspan></text>
<line x1="329.3" y1="267.4" x2="330.3" y2="267.4" stroke="#333" stroke-width="0.5" />
<line x1="329.3" y1="261.4" x2="330.3" y2="261.4" stroke="#333" stroke-width="0.5" />
<line x1="329.3" y1="246.3" x2="330.3" y2="246.3" stroke="#333" stroke-width="0.5" />
<line x1="329.3" y1="232.2" x2="330.3" y2="232.2" stroke="#333" stroke-width="0.5" />
<line x1="329.3" y1="217" x2="330.3" y2="217" stroke="#333" stroke-width="0.5" />
<line x1="337.6" y1="277" x2="337.6" y2="278.2" stroke="#333" stroke-width="0.5" />
<line x1="345" y1="277" x2="345" y2="278.2" stroke="#333" stroke-width="0.5" />
<line x1="359" y1="277" x2="359" y2="278.2" stroke="#333" stroke-width="0.5" />
<line x1="375.5" y1="277" x2="375.5" y2="278.2" stroke="#333" stroke-width="0.5" />
<line x1="389" y1="277" x2="389" y2="278.2" stroke="#333" stroke-width="0.5" />
<text x="319" y="293.5" font-size="3.2" font-weight="normal" text-anchor="start" fill="#444" textLength="44" lengthAdjust="spacingAndGlyphs" >445.pair 16ddt_CAR +CD3 fsc.fcs</text>
<text x="319" y="296.7" font-size="3.2" font-weight="normal" text-anchor="start" fill="#444" textLength="27" lengthAdjust="spacingAndGlyphs" >Event Count: 983901</text>
<line x1="391.3" y1="227.5" x2="413.40000000000003" y2="227.5" stroke="#000" stroke-width="2.1" />
<polyline points="408.40000000000003,224.4 413.6,227.5 408.40000000000003,230.6" fill="none" stroke="#000" stroke-width="2.1" stroke-linejoin="miter"/>
<line x1="420.2" y1="213.6" x2="420.2" y2="287.4" stroke="#000" stroke-width="2.1" />
<polyline points="417.09999999999997,218.6 420.2,213.4 423.3,218.6" fill="none" stroke="#000" stroke-width="2.1" stroke-linejoin="miter"/>
<text transform="translate(413.4,255.2) rotate(-90)" x="0" y="0" font-size="10.3" font-weight="bold" text-anchor="middle" dominant-baseline="central" textLength="24" lengthAdjust="spacingAndGlyphs" stroke="#000" stroke-width="0.3">CD8+</text>
<rect x="428.5" y="211.7" width="66.69999999999999" height="66.60000000000002" fill="none" stroke="#333" stroke-width="0.8"/>
<line x1="443.9" y1="211.7" x2="443.9" y2="278.3" stroke="#5a67a8" stroke-width="0.8" />
<line x1="428.5" y1="233.9" x2="495.2" y2="233.9" stroke="#5a67a8" stroke-width="0.8" />
<text x="494" y="216" font-size="4.4" font-weight="normal" text-anchor="end" fill="#3f4f98" >18.2</text>
<text x="494" y="277" font-size="4.4" font-weight="normal" text-anchor="end" fill="#3f4f98" >80.6</text>
<text x="430.5" y="216" font-size="4.4" font-weight="normal" text-anchor="start" fill="#3f4f98" >0</text>
<text x="430.5" y="277" font-size="4.4" font-weight="normal" text-anchor="start" fill="#3f4f98" >0</text>
<text x="438.6" y="282.4" font-size="3.9" text-anchor="middle" fill="#333">0</text>
<text x="446" y="282.4" font-size="3.9" text-anchor="middle" fill="#333">10<tspan font-size="2.7" dy="-1.4">2</tspan></text>
<text x="459.5" y="282.4" font-size="3.9" text-anchor="middle" fill="#333">10<tspan font-size="2.7" dy="-1.4">3</tspan></text>
<text x="473" y="282.4" font-size="3.9" text-anchor="middle" fill="#333">10<tspan font-size="2.7" dy="-1.4">4</tspan></text>
<text x="488" y="282.4" font-size="3.9" text-anchor="middle" fill="#333">10<tspan font-size="2.7" dy="-1.4">5</tspan></text>
<text x="427.6" y="269.3" font-size="3.9" text-anchor="end" fill="#333">0</text>
<text x="427.6" y="263.4" font-size="3.9" text-anchor="end" fill="#333">10<tspan font-size="2.7" dy="-1.4">2</tspan></text>
<text x="427.6" y="248.3" font-size="3.9" text-anchor="end" fill="#333">10<tspan font-size="2.7" dy="-1.4">3</tspan></text>
<text x="427.6" y="234.2" font-size="3.9" text-anchor="end" fill="#333">10<tspan font-size="2.7" dy="-1.4">4</tspan></text>
<text x="427.6" y="219" font-size="3.9" text-anchor="end" fill="#333">10<tspan font-size="2.7" dy="-1.4">5</tspan></text>
<path d="M446.5,277.5 Q445.0,266.0 449.5,262.0 Q462.75,265.0 476.0,261.5 Q480.5,267.0 479.0,277.5" fill="none" stroke="#1a1a1a" stroke-width="0.6"/>
<path d="M448.1,277.2 Q446.6,267.6 451.1,263.6 Q462.9,267.40000000000003 474.7,263.1 Q479.2,268.6 477.7,277.2" fill="none" stroke="#1a1a1a" stroke-width="0.6"/>
<path d="M449.7,276.9 Q448.2,269.2 452.7,265.2 Q463.04999999999995,269.8 473.4,264.7 Q477.9,270.2 476.4,276.9" fill="none" stroke="#1a1a1a" stroke-width="0.6"/>
<path d="M451.3,276.6 Q449.8,270.8 454.3,266.8 Q463.20000000000005,272.2 472.1,266.3 Q476.6,271.8 475.1,276.6" fill="none" stroke="#1a1a1a" stroke-width="0.6"/>
<path d="M452.9,276.3 Q451.4,272.4 455.9,268.4 Q463.35,274.59999999999997 470.8,267.9 Q475.3,273.4 473.8,276.3" fill="none" stroke="#1a1a1a" stroke-width="0.6"/>
<path d="M454.5,276.0 Q453.0,274.0 457.5,270.0 Q463.5,277.0 469.5,269.5 Q474.0,275.0 472.5,276.0" fill="none" stroke="#1a1a1a" stroke-width="0.6"/>
<path d="M456.1,275.7 Q454.6,275.6 459.1,271.6 Q463.65,279.40000000000003 468.2,271.1 Q472.7,276.6 471.2,275.7" fill="none" stroke="#1a1a1a" stroke-width="0.6"/>
<path d="M452.0,278 Q455,268.0 461,266 Q466,268.0 467.0,278" fill="none" stroke="#1a1a1a" stroke-width="0.55"/>
<path d="M454.5,278 Q457,269.5 462,267 Q466,269.5 466.5,278" fill="none" stroke="#1a1a1a" stroke-width="0.55"/>
<path d="M457.0,278 Q459,271.0 463,268 Q466,271.0 466.0,278" fill="none" stroke="#1a1a1a" stroke-width="0.55"/>
<path d="M459.5,278 Q461,272.5 464,269 Q466,272.5 465.5,278" fill="none" stroke="#1a1a1a" stroke-width="0.55"/>
<path d="M444.2,263.5 Q448,250 455,243.5 Q462,237.5 470,234.5" fill="none" stroke="#1a1a1a" stroke-width="0.55"/>
<path d="M443.8,264.7 Q447,251 454,243.8 Q462,237.0 470,233.7" fill="none" stroke="#1a1a1a" stroke-width="0.55"/>
<path d="M443.4,265.9 Q446,252 453,244.1 Q462,236.5 470,232.9" fill="none" stroke="#1a1a1a" stroke-width="0.55"/>
<path d="M443.0,267.1 Q445,253 452,244.4 Q462,236.0 470,232.1" fill="none" stroke="#1a1a1a" stroke-width="0.55"/>
<path d="M444.5,262 Q446,255.5 451,249 Q455.5,243.5 461,239.8 Q468,236 477.4,233.3 Q481.5,235 482.6,239.6 Q483.4,247 482.8,253 Q482,258 480.5,259.5 Q474,261.4 467,261.6 Q455,262.2 444.5,262.6 Z" fill="#0c0c0c"/>
<path d="M452,252 Q458,246 466,242 M449,257 Q456,251 464,248 M460,258 Q468,253 476,250 M456,259 Q462,255 470,256 M470,242 Q476,240 479,244" fill="none" stroke="#555" stroke-width="0.6"/>
<path d="M463,252 Q466,246 472,245 Q476,248 474,254 Q470,258 465,257 Z" fill="#333"/>
<ellipse cx="469" cy="249.5" rx="1.3" ry="2.2" fill="#ddd"/>
<ellipse cx="467" cy="254" rx="1.1" ry="1.4" fill="#bbb"/>
<ellipse cx="470.5" cy="226.2" rx="8" ry="6.2" fill="#111"/>
<ellipse cx="470.5" cy="226.2" rx="5.6" ry="4" fill="none" stroke="#555" stroke-width="0.5"/>
<ellipse cx="470.5" cy="226.2" rx="3" ry="2.2" fill="none" stroke="#666" stroke-width="0.5"/>
<ellipse cx="471" cy="226" rx="1.3" ry="0.9" fill="#ddd"/>
<ellipse cx="455.4" cy="224.9" rx="3.3" ry="2.4" fill="none" stroke="#000" stroke-width="0.8"/>
<path d="M458.5,226.5 Q461,230 460.5,236 L458,244" fill="none" stroke="#000" stroke-width="0.7"/>
<path d="M462.6,226 Q463,231 466,233.5" fill="none" stroke="#000" stroke-width="0.6"/>
</svg></body></html>
